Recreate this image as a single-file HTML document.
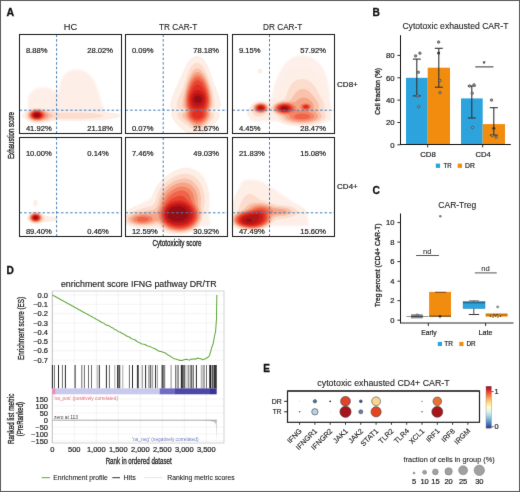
<!DOCTYPE html>
<html><head><meta charset="utf-8"><style>
html,body{margin:0;padding:0;background:#fff;}
svg{display:block;will-change:transform;}
text{font-family:"Liberation Sans", sans-serif;}
</style></head><body>
<svg width="520" height="492" viewBox="0 0 520 492" style='font-family:"Liberation Sans", sans-serif'>
<defs><filter id="gb" x="0" y="0" width="520" height="492" filterUnits="userSpaceOnUse" color-interpolation-filters="sRGB"><feConvolveMatrix order="3" kernelMatrix="0.00524 0.0619 0.00524 0.0619 0.7314 0.0619 0.00524 0.0619 0.00524" edgeMode="duplicate"/></filter></defs>
<g filter="url(#gb)">
<rect x="0" y="0" width="520" height="492" fill="#fff"/>
<text x="6.60" y="15.60" font-size="10.6" fill="#111" stroke="#111" stroke-width="0.3" font-weight="bold">A</text>
<text x="70.50" y="29.50" font-size="9.3" fill="#222" stroke="#222" stroke-width="0.1" text-anchor="middle">HC</text>
<text x="178.20" y="29.50" font-size="9.3" fill="#222" stroke="#222" stroke-width="0.1" text-anchor="middle" textLength="38.3" lengthAdjust="spacingAndGlyphs">TR CAR-T</text>
<text x="282.70" y="29.50" font-size="9.3" fill="#222" stroke="#222" stroke-width="0.1" text-anchor="middle" textLength="39.2" lengthAdjust="spacingAndGlyphs">DR CAR-T</text>
<defs><filter id="bl" x="-5%" y="-5%" width="110%" height="110%"><feGaussianBlur stdDeviation="0.45"/></filter><filter id="bl2" x="-10%" y="-10%" width="120%" height="120%"><feGaussianBlur stdDeviation="1.1"/></filter>
<clipPath id="c00"><rect x="19.5" y="34.5" width="102" height="99"/></clipPath>
<clipPath id="c01"><rect x="19.5" y="137.5" width="102" height="99"/></clipPath>
<clipPath id="c10"><rect x="125.5" y="34.5" width="102" height="99"/></clipPath>
<clipPath id="c11"><rect x="125.5" y="137.5" width="102" height="99"/></clipPath>
<clipPath id="c20"><rect x="232.5" y="34.5" width="102" height="99"/></clipPath>
<clipPath id="c21"><rect x="232.5" y="137.5" width="102" height="99"/></clipPath>
</defs>
<g clip-path="url(#c00)"><g filter="url(#bl)">
<path d="M28,120 L28,101 C28,93 34,87.5 42,87.5 C49,87.5 54,90 58,94 L60,84 C62,75 68,69.5 76,69.5 C86,69.5 92,75 96,85 L100,97 C102,104 104,110 106,114 L107,120 Z" fill="#fdeee8" filter="url(#bl2)"/>
<path d="M82.0,105.0 L81.0,105.1 L80.0,105.1 L79.0,105.1 L78.0,105.0 L77.5,105.0 L76.5,104.9 L75.5,104.7 L74.5,104.5 L74.0,104.4 L73.0,104.1 L72.5,104.0 L71.5,103.6 L71.0,103.4 L70.2,103.0 L69.5,102.5 L69.0,102.1 L68.5,101.6 L68.1,101.0 L67.9,100.5 L67.9,99.5 L68.1,99.0 L68.5,98.4 L69.0,97.9 L69.5,97.5 L70.2,97.0 L71.0,96.6 L71.5,96.4 L72.5,96.0 L73.0,95.9 L74.0,95.6 L74.5,95.5 L75.5,95.3 L76.5,95.2 L77.5,95.1 L78.3,95.0 L79.0,95.0 L80.0,94.9 L81.0,95.0 L81.7,95.0 L82.5,95.1 L83.5,95.2 L84.5,95.3 L85.5,95.5 L86.0,95.6 L87.0,95.9 L87.5,96.0 L88.5,96.4 L89.0,96.6 L89.8,97.0 L90.5,97.5 L91.0,97.9 L91.5,98.4 L91.9,99.0 L92.1,99.5 L92.1,100.5 L91.9,101.0 L91.5,101.6 L91.0,102.1 L90.5,102.5 L89.8,103.0 L89.0,103.4 L88.5,103.6 L87.5,104.0 L87.0,104.1 L86.0,104.4 L85.5,104.5 L84.5,104.7 L83.5,104.9 L82.5,105.0 L82.0,105.0ZM40.0,123.5 L39.0,123.5 L38.0,123.5 L37.1,123.5 L36.5,123.5 L35.5,123.4 L34.5,123.2 L33.5,123.0 L33.0,122.9 L32.0,122.7 L31.5,122.5 L30.5,122.2 L30.0,122.0 L29.0,121.5 L28.5,121.3 L28.0,121.0 L27.1,120.5 L26.5,120.2 L26.0,119.8 L25.5,119.5 L24.8,119.0 L24.2,118.5 L23.6,118.0 L23.1,117.5 L22.6,117.0 L22.3,116.5 L22.1,115.5 L22.5,114.5 L22.8,114.0 L23.3,113.5 L23.8,113.0 L24.3,112.5 L24.9,112.0 L25.5,111.5 L26.0,111.1 L26.5,110.7 L27.0,110.3 L27.5,110.0 L28.3,109.5 L29.0,109.1 L29.5,108.8 L30.2,108.5 L31.0,108.2 L31.5,108.0 L32.5,107.7 L33.4,107.5 L34.0,107.3 L35.0,107.2 L36.0,107.1 L37.0,107.1 L38.0,107.1 L39.0,107.1 L40.0,107.2 L41.0,107.3 L42.0,107.4 L42.5,107.5 L43.5,107.7 L44.5,107.9 L45.1,108.0 L46.0,108.2 L47.0,108.4 L47.5,108.6 L48.5,108.8 L49.1,109.0 L50.0,109.2 L50.9,109.5 L51.5,109.7 L52.5,109.9 L53.0,110.1 L54.0,110.3 L55.0,110.5 L55.5,110.5 L56.5,110.6 L57.5,110.7 L58.5,110.7 L59.5,110.8 L60.5,110.7 L61.5,110.7 L62.5,110.7 L63.5,110.7 L64.5,110.6 L65.5,110.6 L66.5,110.6 L67.5,110.5 L68.5,110.5 L69.3,110.5 L70.0,110.5 L71.0,110.4 L72.0,110.4 L73.0,110.4 L74.0,110.4 L75.0,110.4 L76.0,110.4 L77.0,110.4 L78.0,110.4 L79.0,110.4 L80.0,110.4 L81.0,110.4 L82.0,110.4 L83.0,110.5 L84.0,110.5 L84.5,110.5 L85.5,110.5 L86.5,110.6 L87.5,110.6 L88.5,110.7 L89.5,110.7 L90.5,110.8 L91.5,110.9 L92.5,110.9 L93.5,111.0 L94.0,111.0 L95.0,111.1 L96.0,111.2 L97.0,111.2 L98.0,111.3 L99.0,111.4 L100.0,111.5 L100.5,111.5 L101.5,111.6 L102.5,111.7 L103.5,111.8 L104.5,111.9 L105.5,112.0 L106.0,112.0 L107.0,112.1 L108.0,112.2 L109.0,112.4 L110.0,112.5 L110.5,112.6 L111.5,112.7 L112.5,112.9 L113.4,113.0 L114.0,113.1 L115.0,113.3 L115.9,113.5 L116.5,113.6 L117.5,113.9 L118.0,114.0 L119.0,114.4 L119.5,114.6 L120.2,115.0 L120.6,115.5 L120.5,116.1 L120.0,116.5 L119.1,117.0 L118.5,117.2 L117.6,117.5 L117.0,117.6 L116.0,117.9 L115.5,118.0 L114.5,118.2 L113.5,118.4 L112.7,118.5 L112.0,118.6 L111.0,118.8 L110.0,118.9 L109.2,119.0 L108.5,119.1 L107.5,119.2 L106.5,119.3 L105.5,119.4 L104.5,119.5 L104.0,119.5 L103.0,119.6 L102.0,119.7 L101.0,119.8 L100.0,119.9 L99.0,119.9 L98.1,120.0 L97.5,120.0 L96.5,120.1 L95.5,120.2 L94.5,120.2 L93.5,120.3 L92.5,120.3 L91.5,120.4 L90.5,120.4 L89.5,120.4 L88.5,120.5 L87.8,120.5 L87.0,120.5 L86.0,120.6 L85.0,120.6 L84.0,120.6 L83.0,120.6 L82.0,120.7 L81.0,120.7 L80.0,120.7 L79.0,120.7 L78.0,120.7 L77.0,120.7 L76.0,120.7 L75.0,120.7 L74.0,120.7 L73.0,120.7 L72.0,120.7 L71.0,120.7 L70.0,120.7 L69.0,120.7 L68.0,120.7 L67.0,120.7 L66.0,120.7 L65.0,120.6 L64.0,120.6 L63.0,120.6 L62.0,120.6 L61.0,120.6 L60.0,120.6 L59.0,120.6 L58.0,120.6 L57.0,120.6 L56.0,120.7 L55.0,120.8 L54.0,121.0 L53.5,121.1 L52.5,121.3 L51.5,121.5 L51.0,121.6 L50.0,121.9 L49.5,122.0 L48.5,122.3 L47.5,122.5 L47.0,122.6 L46.0,122.8 L45.0,123.0 L44.5,123.1 L43.5,123.2 L42.5,123.3 L41.5,123.4 L40.5,123.5 L40.0,123.5Z" fill="#fdeee6" fill-rule="evenodd"/>
<path d="M41.5,122.1 L40.5,122.2 L39.5,122.3 L38.5,122.3 L37.5,122.3 L36.5,122.3 L35.5,122.2 L34.5,122.0 L34.0,121.9 L33.0,121.7 L32.4,121.5 L31.5,121.2 L31.0,121.0 L30.0,120.5 L29.5,120.2 L29.0,119.9 L28.4,119.5 L27.8,119.0 L27.3,118.5 L26.8,118.0 L26.5,117.5 L26.0,116.6 L25.8,116.0 L25.8,115.0 L26.0,114.3 L26.3,113.5 L26.6,113.0 L27.0,112.5 L27.5,111.9 L28.0,111.4 L28.5,111.0 L29.1,110.5 L29.9,110.0 L30.5,109.6 L31.0,109.4 L32.0,109.0 L32.5,108.8 L33.5,108.5 L34.0,108.4 L35.0,108.2 L36.0,108.1 L37.0,108.1 L38.0,108.1 L39.0,108.2 L40.0,108.3 L41.0,108.5 L41.5,108.6 L42.5,108.8 L43.2,109.0 L44.0,109.2 L45.0,109.5 L45.5,109.6 L46.5,110.0 L47.0,110.1 L48.0,110.4 L48.5,110.6 L49.5,111.0 L50.0,111.1 L51.0,111.5 L51.5,111.6 L52.5,111.9 L53.0,112.1 L54.0,112.3 L54.8,112.5 L55.5,112.6 L56.5,112.7 L57.5,112.8 L58.5,112.8 L59.5,112.8 L60.5,112.8 L61.5,112.8 L62.5,112.8 L63.5,112.7 L64.5,112.7 L65.5,112.7 L66.5,112.6 L67.5,112.6 L68.5,112.6 L69.5,112.6 L70.5,112.5 L71.5,112.5 L72.5,112.5 L73.5,112.5 L74.0,112.5 L75.0,112.5 L75.5,112.5 L76.5,112.5 L77.5,112.5 L78.5,112.5 L79.5,112.5 L80.5,112.6 L81.5,112.6 L82.5,112.6 L83.5,112.7 L84.5,112.7 L85.5,112.8 L86.5,112.8 L87.5,112.9 L88.5,112.9 L89.5,113.0 L90.0,113.0 L91.0,113.1 L92.0,113.2 L93.0,113.3 L94.0,113.4 L95.0,113.5 L95.5,113.6 L96.5,113.7 L97.5,113.8 L98.5,114.0 L99.0,114.1 L100.0,114.3 L101.0,114.5 L101.5,114.7 L102.4,115.0 L103.0,115.4 L103.0,116.0 L102.5,116.3 L102.0,116.6 L101.0,116.9 L100.5,117.0 L99.5,117.2 L98.5,117.4 L97.9,117.5 L97.0,117.6 L96.0,117.8 L95.0,117.9 L94.0,118.0 L93.5,118.0 L92.5,118.1 L91.5,118.2 L90.5,118.3 L89.5,118.4 L88.5,118.4 L87.5,118.5 L87.0,118.5 L86.0,118.6 L85.0,118.6 L84.0,118.7 L83.0,118.7 L82.0,118.7 L81.0,118.8 L80.0,118.8 L79.0,118.8 L78.0,118.8 L77.0,118.8 L76.0,118.8 L75.0,118.8 L74.0,118.8 L73.0,118.8 L72.0,118.8 L71.0,118.8 L70.0,118.8 L69.0,118.8 L68.0,118.8 L67.0,118.8 L66.0,118.7 L65.0,118.7 L64.0,118.7 L63.0,118.6 L62.0,118.6 L61.0,118.6 L60.0,118.5 L59.0,118.5 L58.0,118.5 L57.0,118.6 L56.0,118.7 L55.0,118.8 L54.0,119.0 L53.5,119.1 L52.5,119.3 L51.8,119.5 L51.0,119.7 L50.1,120.0 L49.5,120.2 L48.5,120.5 L48.0,120.6 L47.0,120.9 L46.5,121.0 L45.5,121.3 L44.6,121.5 L44.0,121.6 L43.0,121.8 L42.0,122.0 L41.5,122.1Z" fill="#fcdccd" fill-rule="evenodd"/>
<path d="M41.0,121.1 L40.0,121.3 L39.0,121.4 L38.0,121.4 L37.0,121.4 L36.0,121.4 L35.0,121.2 L34.0,121.0 L33.5,120.9 L32.5,120.6 L32.0,120.4 L31.2,120.0 L30.5,119.6 L30.0,119.3 L29.5,118.9 L29.0,118.4 L28.5,117.9 L28.0,117.1 L27.7,116.5 L27.5,115.5 L27.6,114.5 L27.9,113.5 L28.2,113.0 L28.5,112.5 L29.0,112.0 L29.5,111.5 L30.1,111.0 L30.8,110.5 L31.5,110.1 L32.0,109.9 L33.0,109.5 L33.5,109.4 L34.5,109.1 L35.5,109.0 L36.0,108.9 L37.0,108.9 L38.0,108.9 L38.7,109.0 L39.5,109.1 L40.5,109.3 L41.3,109.5 L42.0,109.7 L42.9,110.0 L43.5,110.2 L44.3,110.5 L45.0,110.8 L45.5,111.0 L46.5,111.4 L47.0,111.7 L47.7,112.0 L48.5,112.4 L49.0,112.6 L49.8,113.0 L50.5,113.4 L51.0,113.6 L51.6,114.0 L52.3,114.5 L52.9,115.0 L53.2,115.5 L53.0,116.1 L52.5,116.6 L52.0,117.0 L51.2,117.5 L50.5,117.8 L50.0,118.1 L49.1,118.5 L48.5,118.8 L47.9,119.0 L47.0,119.4 L46.5,119.5 L45.5,119.9 L45.0,120.1 L44.0,120.4 L43.5,120.5 L42.5,120.8 L41.5,121.0 L41.0,121.1Z" fill="#f9c3ab" fill-rule="evenodd"/>
<path d="M40.0,120.5 L39.0,120.7 L38.0,120.8 L37.0,120.8 L36.0,120.7 L35.0,120.6 L34.5,120.5 L33.5,120.2 L32.9,120.0 L32.0,119.6 L31.5,119.4 L31.0,119.0 L30.3,118.5 L29.8,118.0 L29.4,117.5 L29.0,116.9 L28.6,116.0 L28.6,115.0 L28.8,114.0 L29.0,113.5 L29.5,112.7 L30.0,112.1 L30.5,111.6 L31.0,111.2 L31.5,110.9 L32.3,110.5 L33.0,110.2 L33.6,110.0 L34.5,109.8 L35.5,109.6 L36.5,109.5 L37.5,109.5 L38.5,109.6 L39.5,109.7 L40.5,110.0 L41.0,110.1 L42.0,110.5 L42.5,110.7 L43.2,111.0 L44.0,111.4 L44.5,111.7 L45.1,112.0 L45.9,112.5 L46.5,112.9 L47.0,113.3 L47.5,113.7 L48.0,114.1 L48.5,114.8 L48.7,115.5 L48.5,116.3 L48.0,117.0 L47.5,117.4 L47.0,117.7 L46.5,118.1 L45.7,118.5 L45.0,118.9 L44.5,119.1 L43.5,119.5 L43.0,119.7 L42.1,120.0 L41.5,120.2 L40.5,120.4 L40.0,120.5Z" fill="#f6a487" fill-rule="evenodd"/>
<path d="M38.5,120.1 L37.5,120.1 L36.5,120.1 L35.5,120.0 L35.0,119.9 L34.0,119.7 L33.4,119.5 L32.5,119.1 L32.0,118.8 L31.5,118.5 L30.9,118.0 L30.4,117.5 L30.0,116.9 L29.6,116.0 L29.5,115.0 L29.7,114.0 L30.0,113.4 L30.5,112.7 L31.0,112.1 L31.5,111.7 L32.0,111.4 L32.7,111.0 L33.5,110.7 L34.0,110.5 L35.0,110.3 L36.0,110.1 L37.0,110.1 L38.0,110.1 L39.0,110.3 L39.9,110.5 L40.5,110.7 L41.4,111.0 L42.0,111.3 L42.5,111.6 L43.3,112.0 L43.9,112.5 L44.5,113.0 L45.0,113.5 L45.4,114.0 L45.8,114.5 L46.0,115.5 L45.7,116.5 L45.3,117.0 L44.8,117.5 L44.2,118.0 L43.5,118.4 L43.0,118.7 L42.4,119.0 L41.5,119.4 L41.0,119.5 L40.0,119.8 L39.0,120.0 L38.5,120.1Z" fill="#f38466" fill-rule="evenodd"/>
<path d="M38.5,119.5 L37.5,119.6 L36.5,119.6 L35.6,119.5 L35.0,119.4 L34.0,119.1 L33.5,118.9 L32.6,118.5 L32.0,118.1 L31.5,117.7 L31.0,117.1 L30.6,116.5 L30.4,116.0 L30.3,115.0 L30.5,114.0 L30.7,113.5 L31.1,113.0 L31.5,112.5 L32.1,112.0 L32.9,111.5 L33.5,111.2 L34.2,111.0 L35.0,110.8 L36.0,110.6 L37.0,110.6 L38.0,110.7 L39.0,110.8 L39.7,111.0 L40.5,111.3 L41.0,111.5 L41.9,112.0 L42.5,112.4 L43.0,112.8 L43.5,113.3 L44.0,114.0 L44.3,114.5 L44.4,115.5 L44.1,116.5 L43.7,117.0 L43.2,117.5 L42.6,118.0 L42.0,118.4 L41.5,118.6 L40.6,119.0 L40.0,119.2 L39.0,119.4 L38.5,119.5Z" fill="#ef6549" fill-rule="evenodd"/>
<path d="M38.0,119.0 L37.0,119.1 L36.0,119.0 L35.5,119.0 L34.5,118.7 L33.9,118.5 L33.0,118.0 L32.5,117.7 L32.0,117.3 L31.5,116.6 L31.2,116.0 L31.0,115.0 L31.3,114.0 L31.5,113.5 L32.0,112.9 L32.5,112.5 L33.2,112.0 L34.0,111.6 L34.5,111.4 L35.5,111.2 L36.5,111.1 L37.5,111.1 L38.5,111.3 L39.4,111.5 L40.0,111.7 L40.7,112.0 L41.5,112.5 L42.0,112.9 L42.5,113.5 L42.9,114.0 L43.1,114.5 L43.2,115.5 L43.0,116.2 L42.5,117.0 L42.0,117.4 L41.5,117.8 L41.0,118.1 L40.1,118.5 L39.5,118.7 L38.5,118.9 L38.0,119.0Z" fill="#e94532" fill-rule="evenodd"/>
<path d="M37.5,118.5 L36.5,118.5 L36.0,118.5 L35.0,118.3 L34.2,118.0 L33.5,117.7 L33.0,117.3 L32.5,116.8 L32.0,116.0 L31.8,115.5 L31.9,114.5 L32.1,114.0 L32.5,113.3 L33.0,112.8 L33.5,112.5 L34.5,112.0 L35.0,111.8 L36.0,111.7 L37.0,111.6 L38.0,111.7 L39.0,111.9 L39.5,112.1 L40.3,112.5 L41.0,113.0 L41.5,113.5 L41.9,114.0 L42.1,114.5 L42.2,115.5 L42.0,116.1 L41.5,116.8 L41.0,117.3 L40.5,117.6 L39.7,118.0 L39.0,118.3 L38.0,118.5 L37.5,118.5Z" fill="#e02d22" fill-rule="evenodd"/>
<path d="M37.5,118.0 L36.5,118.0 L36.0,118.0 L35.0,117.8 L34.4,117.5 L33.6,117.0 L33.1,116.5 L32.7,116.0 L32.5,115.0 L32.8,114.0 L33.2,113.5 L33.7,113.0 L34.5,112.6 L35.0,112.4 L36.0,112.2 L37.0,112.1 L38.0,112.2 L39.0,112.5 L39.5,112.7 L40.0,113.0 L40.6,113.5 L41.0,114.1 L41.3,115.0 L41.1,116.0 L40.8,116.5 L40.3,117.0 L39.5,117.5 L39.0,117.7 L38.0,117.9 L37.5,118.0Z" fill="#cc1d1a" fill-rule="evenodd"/>
<path d="M39.0,117.0 L38.0,117.4 L37.0,117.5 L36.0,117.4 L35.0,117.1 L34.5,116.9 L34.0,116.5 L33.5,115.8 L33.3,115.0 L33.5,114.3 L34.0,113.6 L34.5,113.2 L35.0,113.0 L36.0,112.7 L37.0,112.7 L38.0,112.8 L38.6,113.0 L39.5,113.5 L40.0,114.0 L40.3,114.5 L40.4,115.5 L40.0,116.2 L39.5,116.7 L39.0,117.0Z" fill="#b31414" fill-rule="evenodd"/>
<path d="M38.5,116.6 L37.5,116.9 L36.5,116.9 L35.5,116.7 L35.0,116.5 L34.4,116.0 L34.1,115.0 L34.5,114.0 L35.0,113.6 L35.5,113.4 L36.5,113.2 L37.5,113.2 L38.4,113.5 L39.0,113.9 L39.5,114.5 L39.6,115.0 L39.5,115.6 L39.0,116.2 L38.5,116.6Z" fill="#961018" fill-rule="evenodd"/>
</g></g>
<line x1="56.6" y1="34.5" x2="56.6" y2="133.5" stroke="#4a80b4" stroke-width="1.0" stroke-dasharray="2.6 2.0"/>
<line x1="19.5" y1="110.2" x2="121.5" y2="110.2" stroke="#4a80b4" stroke-width="1.0" stroke-dasharray="2.6 2.0"/>
<text x="25.90" y="52.70" font-size="7.6" fill="#222" stroke="#222" stroke-width="0.2">8.88%</text>
<text x="87.30" y="52.70" font-size="7.6" fill="#222" stroke="#222" stroke-width="0.2">28.02%</text>
<text x="25.90" y="130.70" font-size="7.6" fill="#222" stroke="#222" stroke-width="0.2">41.92%</text>
<text x="87.30" y="130.70" font-size="7.6" fill="#222" stroke="#222" stroke-width="0.2">21.18%</text>
<rect x="19.5" y="34.5" width="102" height="99" fill="none" stroke="#1e1e1e" stroke-width="1.05"/>
<g clip-path="url(#c01)"><g filter="url(#bl)">
<path d="M36.0,206.2 L35.0,206.2 L34.5,205.9 L34.0,205.3 L33.6,204.5 L33.5,204.0 L33.4,203.0 L33.5,202.0 L33.6,201.5 L34.0,200.7 L34.5,200.1 L35.0,199.8 L36.0,199.8 L36.5,200.1 L37.0,200.7 L37.4,201.5 L37.5,202.0 L37.6,203.0 L37.5,204.0 L37.4,204.5 L37.0,205.3 L36.5,205.9 L36.0,206.2ZM37.5,224.0 L36.5,224.1 L35.5,224.2 L34.5,224.1 L34.0,224.0 L33.0,223.8 L32.0,223.5 L31.5,223.3 L30.8,223.0 L30.0,222.6 L29.5,222.3 L29.0,221.9 L28.5,221.4 L28.0,220.9 L27.5,220.2 L27.1,219.5 L27.0,219.0 L26.9,218.0 L27.0,217.2 L27.2,216.5 L27.5,215.8 L28.0,215.0 L28.3,214.5 L28.8,214.0 L29.3,213.5 L29.9,213.0 L30.5,212.6 L31.0,212.3 L31.6,212.0 L32.5,211.6 L33.0,211.4 L34.0,211.1 L34.6,211.0 L35.5,210.9 L36.5,211.0 L37.0,211.0 L38.0,211.3 L38.6,211.5 L39.5,211.8 L40.0,212.0 L40.9,212.5 L41.5,212.9 L42.0,213.2 L42.5,213.5 L43.1,214.0 L43.8,214.5 L44.5,214.9 L45.0,215.2 L45.7,215.5 L46.5,215.7 L47.5,216.0 L48.0,216.0 L49.0,216.2 L50.0,216.3 L51.0,216.4 L51.6,216.5 L52.5,216.6 L53.5,216.8 L54.3,217.0 L55.0,217.2 L56.0,217.5 L56.5,217.7 L57.0,218.0 L57.6,218.5 L57.6,219.5 L57.0,220.0 L56.5,220.3 L56.0,220.5 L55.0,220.8 L54.3,221.0 L53.5,221.2 L52.5,221.4 L51.5,221.5 L51.0,221.6 L50.0,221.7 L49.0,221.8 L48.0,221.9 L47.0,222.0 L46.5,222.0 L45.5,222.1 L44.5,222.3 L43.6,222.5 L43.0,222.7 L42.0,223.0 L41.5,223.1 L40.5,223.4 L40.0,223.6 L39.0,223.8 L38.0,224.0 L37.5,224.0Z" fill="#fdeee6" fill-rule="evenodd"/>
<path d="M38.0,223.1 L37.0,223.2 L36.0,223.3 L35.0,223.3 L34.0,223.1 L33.5,223.0 L32.5,222.7 L32.0,222.5 L31.0,222.0 L30.5,221.7 L30.0,221.3 L29.5,220.8 L29.0,220.2 L28.6,219.5 L28.4,219.0 L28.2,218.0 L28.3,217.0 L28.5,216.4 L28.9,215.5 L29.2,215.0 L29.7,214.5 L30.2,214.0 L30.8,213.5 L31.5,213.1 L32.0,212.8 L32.8,212.5 L33.5,212.3 L34.5,212.1 L35.5,212.0 L36.5,212.0 L37.5,212.2 L38.5,212.5 L39.0,212.6 L39.8,213.0 L40.5,213.4 L41.0,213.7 L41.5,214.1 L42.0,214.6 L42.5,215.1 L43.0,215.6 L43.5,216.2 L44.0,216.8 L44.5,217.5 L44.8,218.0 L45.0,218.5 L45.0,219.0 L44.5,219.7 L44.0,220.2 L43.5,220.5 L42.8,221.0 L42.0,221.5 L41.5,221.8 L41.0,222.0 L40.0,222.5 L39.5,222.7 L38.5,222.9 L38.0,223.1Z" fill="#fcdccd" fill-rule="evenodd"/>
<path d="M37.0,222.5 L36.0,222.6 L35.0,222.6 L34.4,222.5 L33.5,222.3 L32.6,222.0 L32.0,221.8 L31.5,221.5 L30.9,221.0 L30.3,220.5 L29.9,220.0 L29.5,219.3 L29.2,218.5 L29.2,217.5 L29.4,216.5 L29.6,216.0 L30.0,215.3 L30.5,214.7 L31.0,214.2 L31.5,213.9 L32.2,213.5 L33.0,213.1 L33.5,213.0 L34.5,212.8 L35.5,212.7 L36.5,212.7 L37.5,212.9 L38.0,213.0 L39.0,213.4 L39.5,213.7 L40.0,214.0 L40.7,214.5 L41.2,215.0 L41.7,215.5 L42.0,216.0 L42.5,217.0 L42.7,217.5 L42.7,218.5 L42.5,219.2 L42.0,220.0 L41.5,220.5 L41.0,220.9 L40.5,221.3 L40.0,221.6 L39.0,222.0 L38.5,222.2 L37.5,222.4 L37.0,222.5Z" fill="#f9c3ab" fill-rule="evenodd"/>
<path d="M36.5,222.1 L35.5,222.1 L34.5,222.0 L34.0,221.9 L33.0,221.6 L32.5,221.4 L31.8,221.0 L31.2,220.5 L30.7,220.0 L30.3,219.5 L30.0,218.7 L29.8,218.0 L29.9,217.0 L30.1,216.5 L30.5,215.6 L31.0,215.0 L31.5,214.6 L32.0,214.2 L32.5,213.9 L33.5,213.5 L34.0,213.4 L35.0,213.2 L36.0,213.2 L37.0,213.3 L37.7,213.5 L38.5,213.8 L39.0,214.0 L39.8,214.5 L40.4,215.0 L40.8,215.5 L41.2,216.0 L41.5,216.7 L41.8,217.5 L41.7,218.5 L41.5,219.1 L41.0,219.9 L40.5,220.4 L40.0,220.8 L39.5,221.1 L38.7,221.5 L38.0,221.8 L37.0,222.0 L36.5,222.1Z" fill="#f6a487" fill-rule="evenodd"/>
<path d="M36.5,221.6 L35.5,221.6 L34.5,221.5 L34.0,221.4 L33.0,221.0 L32.5,220.8 L32.0,220.4 L31.5,220.0 L31.0,219.4 L30.6,218.5 L30.5,217.6 L30.5,217.5 L30.7,216.5 L31.0,216.0 L31.5,215.3 L32.0,214.9 L32.5,214.5 L33.5,214.0 L34.0,213.9 L35.0,213.7 L36.0,213.7 L37.0,213.8 L37.6,214.0 L38.5,214.3 L39.0,214.6 L39.5,215.0 L40.0,215.5 L40.5,216.2 L40.9,217.0 L41.0,218.0 L40.7,219.0 L40.4,219.5 L40.0,220.0 L39.4,220.5 L38.5,221.0 L38.0,221.2 L37.0,221.5 L36.5,221.6Z" fill="#f38466" fill-rule="evenodd"/>
<path d="M37.0,221.0 L36.0,221.2 L35.0,221.2 L34.2,221.0 L33.5,220.8 L32.9,220.5 L32.2,220.0 L31.7,219.5 L31.4,219.0 L31.1,218.0 L31.1,217.0 L31.5,216.1 L32.0,215.5 L32.5,215.1 L33.0,214.7 L33.6,214.5 L34.5,214.2 L35.5,214.1 L36.5,214.2 L37.5,214.4 L38.0,214.6 L38.7,215.0 L39.3,215.5 L39.8,216.0 L40.1,216.5 L40.4,217.5 L40.2,218.5 L40.0,219.0 L39.5,219.7 L39.0,220.2 L38.5,220.5 L37.5,220.9 L37.0,221.0Z" fill="#ef6549" fill-rule="evenodd"/>
<path d="M37.0,220.6 L36.0,220.7 L35.0,220.7 L34.1,220.5 L33.5,220.3 L33.0,220.0 L32.4,219.5 L32.0,219.0 L31.6,218.0 L31.7,217.0 L32.0,216.3 L32.5,215.7 L33.0,215.3 L33.5,215.0 L34.5,214.7 L35.5,214.5 L36.5,214.6 L37.5,214.9 L38.0,215.1 L38.6,215.5 L39.1,216.0 L39.5,216.7 L39.7,217.5 L39.6,218.5 L39.4,219.0 L39.0,219.5 L38.3,220.0 L37.5,220.4 L37.0,220.6Z" fill="#e94532" fill-rule="evenodd"/>
<path d="M37.0,220.1 L36.0,220.3 L35.0,220.3 L34.1,220.0 L33.5,219.7 L33.0,219.3 L32.5,218.7 L32.2,218.0 L32.3,217.0 L32.5,216.5 L33.0,215.9 L33.6,215.5 L34.5,215.1 L35.2,215.0 L36.0,215.0 L36.5,215.1 L37.5,215.4 L38.0,215.7 L38.5,216.1 L39.0,216.9 L39.1,217.5 L39.0,218.4 L38.7,219.0 L38.2,219.5 L37.5,219.9 L37.0,220.1Z" fill="#e02d22" fill-rule="evenodd"/>
<path d="M37.0,219.6 L36.0,219.8 L35.0,219.8 L34.1,219.5 L33.5,219.1 L33.0,218.5 L32.8,218.0 L32.9,217.0 L33.2,216.5 L33.7,216.0 L34.5,215.6 L35.0,215.5 L36.0,215.4 L36.5,215.5 L37.5,215.9 L38.0,216.4 L38.4,217.0 L38.6,217.5 L38.5,218.1 L38.0,219.0 L37.5,219.4 L37.0,219.6Z" fill="#cc1d1a" fill-rule="evenodd"/>
<path d="M37.0,219.0 L36.0,219.3 L35.0,219.3 L34.3,219.0 L33.7,218.5 L33.4,218.0 L33.5,217.1 L33.9,216.5 L34.5,216.1 L35.0,216.0 L36.0,215.9 L36.5,216.0 L37.3,216.5 L37.7,217.0 L37.8,218.0 L37.5,218.6 L37.0,219.0Z" fill="#b31414" fill-rule="evenodd"/>
<path d="M36.5,218.6 L35.5,218.8 L34.5,218.5 L34.1,218.0 L34.3,217.0 L35.0,216.5 L35.5,216.4 L36.2,216.5 L37.0,217.0 L37.2,217.5 L37.0,218.2 L36.5,218.6Z" fill="#961018" fill-rule="evenodd"/>
</g></g>
<line x1="56.6" y1="137.5" x2="56.6" y2="236.5" stroke="#4a80b4" stroke-width="1.0" stroke-dasharray="2.6 2.0"/>
<line x1="19.5" y1="212.8" x2="121.5" y2="212.8" stroke="#4a80b4" stroke-width="1.0" stroke-dasharray="2.6 2.0"/>
<text x="25.90" y="155.70" font-size="7.6" fill="#222" stroke="#222" stroke-width="0.2">10.00%</text>
<text x="87.30" y="155.70" font-size="7.6" fill="#222" stroke="#222" stroke-width="0.2">0.14%</text>
<text x="25.90" y="233.70" font-size="7.6" fill="#222" stroke="#222" stroke-width="0.2">89.40%</text>
<text x="87.30" y="233.70" font-size="7.6" fill="#222" stroke="#222" stroke-width="0.2">0.46%</text>
<rect x="19.5" y="137.5" width="102" height="99" fill="none" stroke="#1e1e1e" stroke-width="1.05"/>
<g clip-path="url(#c10)"><g filter="url(#bl)">
<path d="M204.0,133.5 L203.0,133.5 L202.0,133.6 L201.0,133.6 L200.0,133.6 L199.0,133.6 L198.0,133.7 L197.0,133.7 L196.0,133.6 L195.0,133.6 L194.0,133.6 L193.0,133.6 L192.0,133.6 L191.0,133.6 L190.0,133.5 L189.0,133.5 L188.5,133.4 L187.6,133.0 L187.0,132.7 L186.5,132.4 L185.8,132.0 L185.0,131.5 L184.5,131.2 L184.0,130.8 L183.5,130.5 L182.9,130.0 L182.3,129.5 L181.6,129.0 L181.1,128.5 L180.5,128.0 L180.0,127.5 L179.5,127.1 L179.0,126.6 L178.5,126.1 L178.0,125.5 L177.5,125.0 L177.0,124.5 L176.6,124.0 L176.2,123.5 L175.7,123.0 L175.3,122.5 L174.9,122.0 L174.5,121.5 L174.0,120.8 L173.5,120.0 L173.2,119.5 L172.9,119.0 L172.5,118.3 L172.1,117.5 L171.9,117.0 L171.6,116.0 L171.4,115.5 L171.2,114.5 L171.1,113.5 L171.4,112.5 L171.7,112.0 L172.1,111.5 L172.5,110.8 L172.5,110.2 L172.1,109.5 L171.6,109.0 L171.1,108.5 L170.8,108.0 L170.5,107.4 L170.3,106.5 L170.3,105.5 L170.3,104.5 L170.4,103.5 L170.5,103.0 L170.7,102.0 L170.9,101.0 L171.0,100.5 L171.2,99.5 L171.5,98.6 L171.7,98.0 L172.0,97.0 L172.2,96.5 L172.5,95.6 L172.7,95.0 L173.0,94.3 L173.3,93.5 L173.5,93.0 L173.9,92.0 L174.2,91.5 L174.5,90.7 L174.8,90.0 L175.0,89.5 L175.5,88.5 L175.7,88.0 L176.0,87.4 L176.4,86.5 L176.6,86.0 L177.0,85.2 L177.3,84.5 L177.5,84.0 L178.0,83.0 L178.2,82.5 L178.5,81.9 L178.9,81.0 L179.1,80.5 L179.5,79.7 L179.8,79.0 L180.1,78.5 L180.5,77.5 L180.7,77.0 L181.0,76.4 L181.4,75.5 L181.6,75.0 L182.0,74.2 L182.3,73.5 L182.5,73.0 L182.9,72.0 L183.2,71.5 L183.5,70.7 L183.8,70.0 L184.0,69.5 L184.5,68.5 L184.7,68.0 L185.0,67.5 L185.5,66.5 L185.7,66.0 L186.0,65.5 L186.5,64.6 L186.8,64.0 L187.1,63.5 L187.5,62.9 L188.0,62.1 L188.4,61.5 L188.8,61.0 L189.2,60.5 L189.6,60.0 L190.1,59.5 L190.6,59.0 L191.1,58.5 L191.8,58.0 L192.5,57.5 L193.0,57.2 L193.5,56.9 L194.5,56.5 L195.0,56.3 L196.0,56.1 L197.0,56.1 L198.0,56.2 L199.0,56.4 L199.5,56.6 L200.5,57.0 L201.0,57.3 L201.5,57.6 L202.0,58.0 L202.6,58.5 L203.1,59.0 L203.6,59.5 L204.1,60.0 L204.5,60.5 L205.0,61.2 L205.5,61.9 L205.9,62.5 L206.2,63.0 L206.5,63.5 L207.0,64.4 L207.3,65.0 L207.5,65.5 L208.0,66.5 L208.2,67.0 L208.5,67.6 L208.9,68.5 L209.1,69.0 L209.5,70.0 L209.7,70.5 L210.0,71.4 L210.2,72.0 L210.5,72.8 L210.8,73.5 L211.0,74.2 L211.3,75.0 L211.5,75.6 L211.8,76.5 L212.0,77.1 L212.3,78.0 L212.5,78.5 L212.9,79.5 L213.0,80.0 L213.4,81.0 L213.6,81.5 L213.9,82.5 L214.1,83.0 L214.5,84.0 L214.7,84.5 L215.0,85.4 L215.2,86.0 L215.5,86.7 L215.8,87.5 L216.0,88.0 L216.4,89.0 L216.6,89.5 L217.0,90.5 L217.2,91.0 L217.5,91.9 L217.7,92.5 L218.0,93.3 L218.2,94.0 L218.5,94.8 L218.7,95.5 L219.0,96.4 L219.2,97.0 L219.4,98.0 L219.6,98.5 L219.8,99.5 L220.0,100.4 L220.1,101.0 L220.3,102.0 L220.4,103.0 L220.5,103.8 L220.6,104.5 L220.6,105.5 L220.5,106.2 L220.3,107.0 L219.9,107.5 L219.3,108.0 L218.5,108.4 L218.0,108.6 L217.0,108.9 L216.5,109.0 L215.5,109.2 L214.5,109.4 L214.0,109.5 L213.1,110.0 L213.0,110.5 L213.5,110.9 L214.0,111.1 L215.0,111.4 L215.6,111.5 L216.5,111.7 L217.5,112.0 L218.0,112.2 L218.6,112.5 L219.3,113.0 L219.6,113.5 L219.9,114.5 L219.8,115.5 L219.5,116.5 L219.4,117.0 L219.0,118.0 L218.8,118.5 L218.5,119.0 L218.0,119.8 L217.5,120.5 L217.1,121.0 L216.7,121.5 L216.3,122.0 L215.9,122.5 L215.5,123.0 L215.0,123.6 L214.5,124.1 L214.0,124.7 L213.5,125.3 L213.0,125.8 L212.5,126.4 L212.0,126.9 L211.5,127.4 L211.0,127.9 L210.5,128.4 L210.0,128.9 L209.5,129.3 L209.0,129.8 L208.5,130.2 L208.0,130.6 L207.5,131.1 L206.9,131.5 L206.3,132.0 L205.6,132.5 L205.0,132.9 L204.5,133.2 L204.0,133.5Z" fill="#fdeee6" fill-rule="evenodd"/>
<path d="M199.5,130.6 L198.5,130.7 L197.5,130.8 L196.5,130.7 L195.6,130.5 L195.0,130.3 L194.1,130.0 L193.5,129.7 L193.0,129.5 L192.2,129.0 L191.5,128.6 L191.0,128.2 L190.5,127.8 L190.0,127.4 L189.5,127.0 L188.9,126.5 L188.3,126.0 L187.7,125.5 L187.1,125.0 L186.5,124.6 L186.0,124.2 L185.5,123.9 L184.9,123.5 L184.1,123.0 L183.5,122.6 L183.0,122.3 L182.5,122.0 L181.8,121.5 L181.2,121.0 L180.6,120.5 L180.0,120.0 L179.5,119.5 L179.0,119.0 L178.7,118.5 L178.3,118.0 L178.0,117.4 L177.6,116.5 L177.4,116.0 L177.3,115.0 L177.3,114.0 L177.5,113.5 L178.0,112.9 L178.5,112.5 L179.5,112.0 L180.0,111.9 L181.0,111.6 L181.5,111.4 L182.5,111.2 L183.0,111.0 L183.5,110.5 L183.4,110.0 L182.6,109.5 L182.0,109.3 L181.0,109.0 L180.5,108.9 L179.5,108.6 L179.0,108.5 L178.0,108.0 L177.5,107.6 L177.0,107.0 L176.8,106.5 L176.7,105.5 L176.8,104.5 L176.9,103.5 L177.0,103.0 L177.2,102.0 L177.5,101.0 L177.7,100.5 L178.0,99.5 L178.2,99.0 L178.5,98.2 L178.8,97.5 L179.0,97.0 L179.5,96.0 L179.7,95.5 L180.0,94.9 L180.4,94.0 L180.7,93.5 L181.0,92.9 L181.4,92.0 L181.7,91.5 L182.0,90.8 L182.3,90.0 L182.5,89.5 L182.9,88.5 L183.1,88.0 L183.4,87.0 L183.6,86.5 L183.9,85.5 L184.1,85.0 L184.4,84.0 L184.6,83.5 L184.9,82.5 L185.0,82.0 L185.4,81.0 L185.5,80.5 L185.8,79.5 L186.0,79.0 L186.3,78.0 L186.5,77.5 L186.8,76.5 L187.0,76.0 L187.3,75.0 L187.5,74.5 L187.9,73.5 L188.1,73.0 L188.4,72.0 L188.6,71.5 L189.0,70.7 L189.3,70.0 L189.5,69.5 L190.0,68.6 L190.3,68.0 L190.6,67.5 L191.0,66.9 L191.5,66.1 L192.0,65.5 L192.5,65.0 L193.0,64.5 L193.5,64.0 L194.0,63.7 L194.5,63.4 L195.5,63.0 L196.0,62.9 L197.0,62.8 L198.0,62.9 L198.5,63.0 L199.5,63.4 L200.0,63.7 L200.5,64.1 L201.0,64.5 L201.5,65.0 L202.0,65.5 L202.5,66.2 L203.0,66.8 L203.4,67.5 L203.8,68.0 L204.1,68.5 L204.5,69.3 L204.9,70.0 L205.2,70.5 L205.5,71.2 L205.9,72.0 L206.2,72.5 L206.5,73.2 L206.9,74.0 L207.1,74.5 L207.5,75.5 L207.7,76.0 L208.0,76.7 L208.3,77.5 L208.5,78.0 L208.9,79.0 L209.1,79.5 L209.4,80.5 L209.6,81.0 L209.9,82.0 L210.1,82.5 L210.4,83.5 L210.6,84.0 L210.9,85.0 L211.0,85.5 L211.3,86.5 L211.5,87.4 L211.7,88.0 L211.9,89.0 L212.0,89.5 L212.3,90.5 L212.5,91.4 L212.7,92.0 L212.9,93.0 L213.0,93.5 L213.2,94.5 L213.4,95.5 L213.5,96.0 L213.7,97.0 L213.9,98.0 L214.0,98.6 L214.1,99.5 L214.3,100.5 L214.4,101.5 L214.4,102.5 L214.5,103.5 L214.5,104.0 L214.5,105.0 L214.5,105.5 L214.3,106.5 L214.0,107.0 L213.5,107.6 L213.0,108.0 L212.5,108.5 L211.9,109.0 L211.4,109.5 L211.0,110.4 L211.0,110.6 L211.4,111.5 L211.9,112.0 L212.5,112.4 L213.0,112.8 L213.5,113.3 L214.0,113.9 L214.3,114.5 L214.3,115.5 L214.1,116.5 L214.0,117.0 L213.5,118.0 L213.2,118.5 L212.8,119.0 L212.4,119.5 L211.9,120.0 L211.4,120.5 L210.9,121.0 L210.4,121.5 L210.0,122.0 L209.5,122.5 L209.0,123.0 L208.5,123.6 L208.0,124.1 L207.5,124.7 L207.0,125.3 L206.5,125.9 L206.0,126.4 L205.5,126.9 L205.0,127.4 L204.5,127.9 L204.0,128.3 L203.5,128.7 L203.0,129.0 L202.2,129.5 L201.5,129.9 L201.0,130.1 L200.0,130.4 L199.5,130.6Z" fill="#fcdccd" fill-rule="evenodd"/>
<path d="M198.0,128.0 L197.5,128.0 L196.5,127.9 L195.5,127.6 L195.0,127.5 L194.0,127.0 L193.5,126.7 L193.0,126.4 L192.4,126.0 L191.8,125.5 L191.2,125.0 L190.6,124.5 L190.1,124.0 L189.5,123.5 L189.0,123.0 L188.5,122.6 L188.0,122.1 L187.5,121.7 L187.0,121.3 L186.5,120.9 L186.0,120.5 L185.3,120.0 L184.7,119.5 L184.1,119.0 L183.6,118.5 L183.2,118.0 L182.8,117.5 L182.5,116.8 L182.2,116.0 L182.2,115.0 L182.5,114.0 L182.9,113.5 L183.4,113.0 L184.0,112.6 L184.5,112.2 L185.0,111.7 L185.5,111.1 L185.7,110.5 L185.5,109.8 L185.0,109.2 L184.5,108.7 L184.0,108.2 L183.5,107.8 L183.0,107.2 L182.6,106.5 L182.5,106.0 L182.4,105.0 L182.4,104.0 L182.5,103.0 L182.5,102.5 L182.6,101.5 L182.7,100.5 L182.9,99.5 L183.0,98.7 L183.1,98.0 L183.3,97.0 L183.5,96.1 L183.6,95.5 L183.8,94.5 L184.0,93.9 L184.2,93.0 L184.5,92.0 L184.6,91.5 L184.8,90.5 L185.0,89.9 L185.2,89.0 L185.5,88.0 L185.6,87.5 L185.9,86.5 L186.0,86.0 L186.3,85.0 L186.5,84.5 L186.8,83.5 L187.0,82.9 L187.3,82.0 L187.5,81.4 L187.8,80.5 L188.0,80.0 L188.4,79.0 L188.6,78.5 L189.0,77.5 L189.2,77.0 L189.5,76.4 L189.9,75.5 L190.2,75.0 L190.5,74.4 L191.0,73.5 L191.3,73.0 L191.6,72.5 L192.0,71.9 L192.5,71.3 L193.0,70.7 L193.5,70.2 L194.0,69.7 L194.5,69.3 L195.0,69.0 L196.0,68.6 L196.5,68.4 L197.5,68.4 L198.2,68.5 L199.0,68.7 L199.5,69.0 L200.3,69.5 L201.0,70.0 L201.5,70.5 L202.0,71.0 L202.4,71.5 L202.9,72.0 L203.2,72.5 L203.6,73.0 L204.0,73.6 L204.5,74.3 L204.9,75.0 L205.2,75.5 L205.5,76.1 L206.0,77.0 L206.3,77.5 L206.5,78.0 L207.0,79.0 L207.2,79.5 L207.5,80.3 L207.8,81.0 L208.0,81.6 L208.4,82.5 L208.5,83.0 L208.9,84.0 L209.0,84.5 L209.3,85.5 L209.5,86.1 L209.8,87.0 L210.0,88.0 L210.1,88.5 L210.4,89.5 L210.5,90.0 L210.7,91.0 L211.0,92.0 L211.1,92.5 L211.3,93.5 L211.4,94.5 L211.5,95.0 L211.7,96.0 L211.8,97.0 L211.9,98.0 L212.0,99.0 L212.0,99.5 L212.1,100.5 L212.1,101.5 L212.1,102.5 L212.0,103.5 L212.0,104.0 L211.9,105.0 L211.8,106.0 L211.6,107.0 L211.4,107.5 L211.0,108.1 L210.5,108.8 L210.0,109.5 L209.8,110.0 L209.7,111.0 L210.0,111.8 L210.4,112.5 L210.6,113.0 L210.9,114.0 L211.0,115.0 L210.8,116.0 L210.6,117.0 L210.4,117.5 L210.0,118.2 L209.5,119.0 L209.1,119.5 L208.8,120.0 L208.3,120.5 L207.9,121.0 L207.5,121.5 L207.0,122.1 L206.5,122.7 L206.0,123.2 L205.5,123.8 L205.0,124.3 L204.5,124.8 L204.0,125.2 L203.5,125.7 L203.0,126.1 L202.4,126.5 L201.6,127.0 L201.0,127.3 L200.5,127.5 L199.5,127.8 L198.5,128.0 L198.0,128.0Z" fill="#f9c3ab" fill-rule="evenodd"/>
<path d="M200.0,125.6 L199.0,125.8 L198.0,125.9 L197.0,125.9 L196.0,125.7 L195.4,125.5 L194.5,125.1 L194.0,124.9 L193.4,124.5 L192.7,124.0 L192.0,123.5 L191.5,123.1 L191.0,122.7 L190.5,122.2 L190.0,121.8 L189.5,121.4 L189.0,120.9 L188.5,120.4 L188.0,120.0 L187.5,119.5 L187.0,118.9 L186.5,118.3 L186.0,117.6 L185.7,117.0 L185.5,116.5 L185.3,115.5 L185.3,114.5 L185.5,113.7 L185.8,113.0 L186.1,112.5 L186.5,111.9 L186.9,111.0 L186.8,110.0 L186.5,109.4 L186.0,108.7 L185.5,108.0 L185.2,107.5 L185.0,107.0 L184.7,106.0 L184.6,105.0 L184.5,104.0 L184.5,103.5 L184.5,102.5 L184.5,101.5 L184.5,100.8 L184.5,100.0 L184.6,99.0 L184.7,98.0 L184.8,97.0 L185.0,96.0 L185.1,95.5 L185.3,94.5 L185.5,93.5 L185.6,93.0 L185.8,92.0 L186.0,91.2 L186.2,90.5 L186.4,89.5 L186.6,89.0 L186.8,88.0 L187.0,87.4 L187.2,86.5 L187.5,85.7 L187.7,85.0 L188.0,84.1 L188.2,83.5 L188.5,82.7 L188.8,82.0 L189.0,81.4 L189.4,80.5 L189.6,80.0 L190.0,79.1 L190.3,78.5 L190.6,78.0 L191.0,77.2 L191.4,76.5 L191.7,76.0 L192.1,75.5 L192.5,74.9 L193.0,74.3 L193.5,73.8 L194.0,73.3 L194.5,72.9 L195.1,72.5 L196.0,72.1 L196.5,71.9 L197.5,71.8 L198.5,71.9 L199.0,72.1 L199.9,72.5 L200.5,72.9 L201.0,73.2 L201.5,73.7 L202.0,74.1 L202.5,74.7 L203.0,75.3 L203.5,75.9 L203.9,76.5 L204.2,77.0 L204.5,77.5 L205.0,78.3 L205.4,79.0 L205.7,79.5 L206.0,80.2 L206.4,81.0 L206.6,81.5 L207.0,82.5 L207.2,83.0 L207.5,83.8 L207.8,84.5 L208.0,85.2 L208.3,86.0 L208.5,86.8 L208.7,87.5 L209.0,88.5 L209.1,89.0 L209.4,90.0 L209.5,90.6 L209.7,91.5 L209.9,92.5 L210.0,93.0 L210.2,94.0 L210.4,95.0 L210.5,95.8 L210.6,96.5 L210.7,97.5 L210.8,98.5 L210.8,99.5 L210.9,100.5 L210.9,101.5 L210.8,102.5 L210.8,103.5 L210.7,104.5 L210.6,105.5 L210.5,106.0 L210.3,107.0 L210.0,107.7 L209.6,108.5 L209.3,109.0 L209.0,109.5 L208.6,110.5 L208.7,111.5 L209.0,112.3 L209.2,113.0 L209.3,114.0 L209.3,115.0 L209.1,116.0 L208.9,116.5 L208.5,117.5 L208.3,118.0 L208.0,118.5 L207.5,119.2 L207.0,119.9 L206.5,120.5 L206.1,121.0 L205.6,121.5 L205.1,122.0 L204.6,122.5 L204.1,123.0 L203.5,123.5 L203.0,123.9 L202.5,124.3 L202.0,124.6 L201.4,125.0 L200.5,125.4 L200.0,125.6Z" fill="#f6a487" fill-rule="evenodd"/>
<path d="M200.0,123.5 L199.0,123.8 L198.0,123.9 L197.0,123.8 L196.0,123.6 L195.5,123.5 L194.5,123.1 L194.0,122.8 L193.4,122.5 L192.7,122.0 L192.0,121.5 L191.5,121.2 L191.0,120.7 L190.5,120.3 L190.0,119.9 L189.5,119.4 L189.0,118.8 L188.5,118.2 L188.1,117.5 L187.8,117.0 L187.5,116.2 L187.3,115.5 L187.2,114.5 L187.3,113.5 L187.5,112.9 L187.9,112.0 L188.1,111.5 L188.2,110.5 L188.0,109.7 L187.5,109.0 L187.2,108.5 L186.9,108.0 L186.5,107.2 L186.3,106.5 L186.1,105.5 L186.0,104.9 L185.9,104.0 L185.8,103.0 L185.8,102.0 L185.8,101.0 L185.8,100.0 L185.9,99.0 L185.9,98.0 L186.0,97.5 L186.1,96.5 L186.3,95.5 L186.5,94.5 L186.6,94.0 L186.8,93.0 L187.0,92.1 L187.1,91.5 L187.4,90.5 L187.5,90.0 L187.8,89.0 L188.0,88.4 L188.3,87.5 L188.5,86.8 L188.8,86.0 L189.0,85.3 L189.3,84.5 L189.5,84.0 L189.9,83.0 L190.1,82.5 L190.5,81.6 L190.8,81.0 L191.1,80.5 L191.5,79.7 L191.9,79.0 L192.3,78.5 L192.6,78.0 L193.0,77.5 L193.5,76.9 L194.0,76.4 L194.5,76.0 L195.1,75.5 L196.0,75.0 L196.5,74.9 L197.5,74.7 L198.5,74.8 L199.1,75.0 L200.0,75.4 L200.5,75.7 L201.0,76.1 L201.5,76.5 L202.0,77.0 L202.5,77.6 L203.0,78.2 L203.5,78.9 L203.9,79.5 L204.2,80.0 L204.5,80.5 L205.0,81.4 L205.3,82.0 L205.5,82.5 L206.0,83.5 L206.2,84.0 L206.5,84.8 L206.8,85.5 L207.0,86.2 L207.3,87.0 L207.5,87.7 L207.8,88.5 L208.0,89.4 L208.2,90.0 L208.4,91.0 L208.6,91.5 L208.8,92.5 L209.0,93.4 L209.1,94.0 L209.3,95.0 L209.5,96.0 L209.5,96.5 L209.6,97.5 L209.7,98.5 L209.8,99.5 L209.8,100.5 L209.8,101.5 L209.7,102.5 L209.6,103.5 L209.5,104.5 L209.5,105.0 L209.3,106.0 L209.1,107.0 L208.9,107.5 L208.5,108.3 L208.1,109.0 L207.8,109.5 L207.5,110.2 L207.4,111.0 L207.5,111.5 L207.8,112.5 L207.9,113.5 L207.9,114.5 L207.7,115.5 L207.5,116.1 L207.2,117.0 L206.9,117.5 L206.5,118.2 L206.0,119.0 L205.6,119.5 L205.1,120.0 L204.6,120.5 L204.1,121.0 L203.5,121.5 L203.0,121.9 L202.5,122.3 L202.0,122.6 L201.3,123.0 L200.5,123.4 L200.0,123.5Z" fill="#f38466" fill-rule="evenodd"/>
<path d="M199.0,122.0 L198.0,122.1 L197.0,122.1 L196.4,122.0 L195.5,121.8 L194.8,121.5 L194.0,121.2 L193.5,120.9 L192.9,120.5 L192.2,120.0 L191.5,119.5 L191.0,119.0 L190.5,118.5 L190.1,118.0 L189.7,117.5 L189.4,117.0 L189.0,116.0 L188.9,115.5 L188.7,114.5 L188.7,113.5 L189.0,112.5 L189.2,112.0 L189.5,111.1 L189.6,110.5 L189.4,110.0 L189.0,109.3 L188.5,108.6 L188.1,108.0 L187.8,107.5 L187.5,106.7 L187.3,106.0 L187.2,105.0 L187.0,104.0 L187.0,103.5 L186.9,102.5 L186.9,101.5 L186.8,100.5 L186.9,99.5 L186.9,98.5 L187.0,97.7 L187.1,97.0 L187.2,96.0 L187.4,95.0 L187.5,94.5 L187.7,93.5 L188.0,92.5 L188.1,92.0 L188.4,91.0 L188.6,90.5 L188.9,89.5 L189.0,89.0 L189.4,88.0 L189.5,87.5 L189.9,86.5 L190.1,86.0 L190.5,85.0 L190.7,84.5 L191.0,83.9 L191.4,83.0 L191.7,82.5 L192.0,81.9 L192.5,81.1 L192.9,80.5 L193.3,80.0 L193.7,79.5 L194.1,79.0 L194.7,78.5 L195.4,78.0 L196.0,77.7 L196.5,77.5 L197.5,77.3 L198.5,77.4 L199.0,77.5 L200.0,78.0 L200.5,78.3 L201.0,78.7 L201.5,79.2 L202.0,79.7 L202.5,80.3 L203.0,81.0 L203.3,81.5 L203.7,82.0 L204.0,82.6 L204.5,83.5 L204.7,84.0 L205.0,84.6 L205.4,85.5 L205.6,86.0 L206.0,87.0 L206.2,87.5 L206.5,88.4 L206.7,89.0 L207.0,89.9 L207.2,90.5 L207.5,91.5 L207.6,92.0 L207.9,93.0 L208.0,93.5 L208.2,94.5 L208.4,95.5 L208.5,96.1 L208.6,97.0 L208.7,98.0 L208.8,99.0 L208.8,100.0 L208.8,101.0 L208.8,102.0 L208.7,103.0 L208.6,104.0 L208.5,104.5 L208.3,105.5 L208.1,106.5 L208.0,107.0 L207.5,108.0 L207.2,108.5 L206.9,109.0 L206.5,109.6 L206.1,110.5 L206.2,111.5 L206.5,112.5 L206.6,113.0 L206.6,114.0 L206.5,114.7 L206.3,115.5 L206.0,116.4 L205.7,117.0 L205.4,117.5 L205.0,118.2 L204.5,118.8 L204.0,119.3 L203.5,119.8 L203.0,120.2 L202.5,120.5 L201.8,121.0 L201.0,121.4 L200.5,121.6 L199.5,121.9 L199.0,122.0Z" fill="#ef6549" fill-rule="evenodd"/>
<path d="M200.0,120.0 L199.0,120.3 L198.0,120.4 L197.0,120.4 L196.0,120.2 L195.3,120.0 L194.5,119.7 L194.0,119.4 L193.3,119.0 L192.6,118.5 L192.0,118.0 L191.6,117.5 L191.2,117.0 L190.9,116.5 L190.5,115.5 L190.4,115.0 L190.3,114.0 L190.4,113.0 L190.6,112.5 L191.0,111.7 L191.3,111.0 L191.2,110.0 L190.8,109.5 L190.3,109.0 L189.9,108.5 L189.5,108.0 L189.0,107.2 L188.7,106.5 L188.5,105.6 L188.4,105.0 L188.2,104.0 L188.1,103.0 L188.0,102.1 L188.0,101.5 L187.9,100.5 L187.9,99.5 L188.0,98.5 L188.0,98.0 L188.2,97.0 L188.3,96.0 L188.5,95.2 L188.7,94.5 L188.9,93.5 L189.1,93.0 L189.4,92.0 L189.6,91.5 L189.9,90.5 L190.1,90.0 L190.5,89.0 L190.7,88.5 L191.0,87.8 L191.4,87.0 L191.6,86.5 L192.0,85.6 L192.3,85.0 L192.6,84.5 L193.0,83.8 L193.5,83.1 L193.9,82.5 L194.4,82.0 L194.9,81.5 L195.5,81.0 L196.0,80.7 L196.5,80.5 L197.5,80.3 L198.5,80.3 L199.0,80.5 L200.0,81.0 L200.5,81.4 L201.0,81.8 L201.5,82.4 L202.0,83.0 L202.4,83.5 L202.7,84.0 L203.0,84.5 L203.5,85.3 L203.8,86.0 L204.1,86.5 L204.5,87.4 L204.8,88.0 L205.0,88.5 L205.4,89.5 L205.6,90.0 L206.0,91.0 L206.2,91.5 L206.5,92.5 L206.7,93.0 L207.0,94.0 L207.1,94.5 L207.3,95.5 L207.5,96.5 L207.6,97.0 L207.7,98.0 L207.8,99.0 L207.8,100.0 L207.8,101.0 L207.7,102.0 L207.6,103.0 L207.5,103.5 L207.3,104.5 L207.1,105.5 L207.0,106.1 L206.7,107.0 L206.5,107.5 L206.0,108.2 L205.5,108.8 L205.0,109.4 L204.5,110.0 L204.3,110.5 L204.5,111.5 L204.7,112.0 L205.0,112.9 L205.1,113.5 L205.0,114.5 L204.9,115.0 L204.5,116.0 L204.3,116.5 L204.0,117.0 L203.5,117.7 L203.0,118.2 L202.5,118.7 L202.0,119.0 L201.2,119.5 L200.5,119.8 L200.0,120.0Z" fill="#e94532" fill-rule="evenodd"/>
<path d="M199.5,118.1 L198.5,118.4 L197.5,118.5 L196.5,118.4 L195.5,118.1 L195.0,117.9 L194.3,117.5 L193.7,117.0 L193.2,116.5 L192.9,116.0 L192.5,115.1 L192.4,114.5 L192.4,113.5 L192.6,113.0 L193.0,112.5 L193.6,112.0 L194.3,111.5 L195.0,111.1 L195.5,110.7 L195.5,110.3 L195.0,110.0 L194.0,109.6 L193.5,109.3 L192.9,109.0 L192.0,108.5 L191.5,108.1 L191.0,107.6 L190.6,107.0 L190.3,106.5 L190.0,105.7 L189.8,105.0 L189.6,104.0 L189.5,103.5 L189.3,102.5 L189.2,101.5 L189.1,100.5 L189.1,99.5 L189.2,98.5 L189.3,97.5 L189.5,96.5 L189.6,96.0 L189.9,95.0 L190.0,94.5 L190.4,93.5 L190.6,93.0 L191.0,92.1 L191.3,91.5 L191.5,91.0 L192.0,90.1 L192.4,89.5 L192.7,89.0 L193.0,88.5 L193.5,87.7 L194.0,87.0 L194.4,86.5 L194.9,86.0 L195.4,85.5 L196.0,85.1 L196.5,84.8 L197.5,84.5 L198.5,84.6 L199.4,85.0 L200.0,85.4 L200.5,85.9 L201.0,86.4 L201.5,87.0 L201.9,87.5 L202.3,88.0 L202.6,88.5 L203.0,89.0 L203.5,89.8 L203.9,90.5 L204.2,91.0 L204.5,91.6 L204.9,92.5 L205.2,93.0 L205.5,93.8 L205.7,94.5 L206.0,95.3 L206.2,96.0 L206.4,97.0 L206.5,97.8 L206.6,98.5 L206.6,99.5 L206.6,100.5 L206.5,101.5 L206.5,102.0 L206.3,103.0 L206.1,104.0 L205.9,104.5 L205.7,105.5 L205.5,106.0 L205.0,107.0 L204.7,107.5 L204.2,108.0 L203.6,108.5 L203.0,108.9 L202.5,109.1 L201.6,109.5 L201.0,109.8 L200.4,110.0 L199.6,110.5 L200.1,111.0 L201.0,111.4 L201.5,111.7 L202.0,112.1 L202.5,112.7 L202.9,113.5 L202.9,114.5 L202.5,115.5 L202.3,116.0 L201.9,116.5 L201.5,117.0 L200.8,117.5 L200.0,118.0 L199.5,118.1Z" fill="#e02d22" fill-rule="evenodd"/>
<path d="M199.0,108.0 L198.0,108.1 L197.0,108.1 L196.0,108.0 L195.5,107.9 L194.5,107.7 L194.0,107.5 L193.1,107.0 L192.6,106.5 L192.2,106.0 L191.9,105.5 L191.5,104.7 L191.2,104.0 L191.0,103.4 L190.8,102.5 L190.6,101.5 L190.5,100.9 L190.4,100.0 L190.5,99.0 L190.5,98.4 L190.6,97.5 L190.9,96.5 L191.0,96.0 L191.4,95.0 L191.7,94.5 L192.0,93.9 L192.5,93.1 L193.0,92.5 L193.5,92.0 L194.0,91.5 L194.5,91.1 L195.0,90.7 L195.5,90.5 L196.5,90.1 L197.0,90.0 L198.0,90.0 L198.5,90.0 L199.5,90.3 L200.0,90.5 L200.9,91.0 L201.5,91.4 L202.0,91.8 L202.5,92.3 L203.0,92.9 L203.5,93.5 L203.8,94.0 L204.1,94.5 L204.5,95.4 L204.7,96.0 L205.0,96.9 L205.1,97.5 L205.3,98.5 L205.3,99.5 L205.3,100.5 L205.1,101.5 L205.0,102.1 L204.8,103.0 L204.5,103.8 L204.2,104.5 L203.9,105.0 L203.5,105.7 L203.0,106.4 L202.5,106.9 L202.0,107.2 L201.4,107.5 L200.5,107.8 L199.5,108.0 L199.0,108.0Z" fill="#cc1d1a" fill-rule="evenodd"/>
<path d="M200.0,105.0 L199.0,105.3 L198.0,105.5 L197.0,105.4 L196.0,105.2 L195.4,105.0 L194.5,104.5 L194.0,104.1 L193.5,103.5 L193.1,103.0 L192.8,102.5 L192.5,101.7 L192.3,101.0 L192.2,100.0 L192.1,99.0 L192.3,98.0 L192.5,97.2 L192.8,96.5 L193.1,96.0 L193.5,95.4 L194.0,94.8 L194.5,94.4 L195.1,94.0 L196.0,93.6 L196.5,93.4 L197.5,93.3 L198.5,93.3 L199.5,93.5 L200.0,93.7 L200.6,94.0 L201.4,94.5 L201.9,95.0 L202.3,95.5 L202.7,96.0 L203.0,96.6 L203.3,97.5 L203.5,98.1 L203.6,99.0 L203.6,100.0 L203.5,100.6 L203.3,101.5 L203.0,102.1 L202.5,103.0 L202.1,103.5 L201.6,104.0 L201.0,104.5 L200.5,104.8 L200.0,105.0Z" fill="#b31414" fill-rule="evenodd"/>
<path d="M199.0,102.7 L198.0,102.8 L197.0,102.8 L196.2,102.5 L195.5,102.1 L195.0,101.6 L194.6,101.0 L194.3,100.5 L194.1,99.5 L194.2,98.5 L194.5,97.7 L194.9,97.0 L195.4,96.5 L196.0,96.1 L196.5,95.9 L197.5,95.6 L198.5,95.7 L199.5,96.0 L200.0,96.3 L200.5,96.7 L201.0,97.2 L201.4,98.0 L201.5,98.5 L201.6,99.5 L201.5,100.1 L201.1,101.0 L200.8,101.5 L200.3,102.0 L199.5,102.5 L199.0,102.7Z" fill="#961018" fill-rule="evenodd"/>
</g></g>
<line x1="163.2" y1="34.5" x2="163.2" y2="133.5" stroke="#4a80b4" stroke-width="1.0" stroke-dasharray="2.6 2.0"/>
<line x1="125.5" y1="110.2" x2="227.5" y2="110.2" stroke="#4a80b4" stroke-width="1.0" stroke-dasharray="2.6 2.0"/>
<text x="131.90" y="52.70" font-size="7.6" fill="#222" stroke="#222" stroke-width="0.2">0.09%</text>
<text x="193.30" y="52.70" font-size="7.6" fill="#222" stroke="#222" stroke-width="0.2">78.18%</text>
<text x="131.90" y="130.70" font-size="7.6" fill="#222" stroke="#222" stroke-width="0.2">0.07%</text>
<text x="193.30" y="130.70" font-size="7.6" fill="#222" stroke="#222" stroke-width="0.2">21.67%</text>
<rect x="125.5" y="34.5" width="102" height="99" fill="none" stroke="#1e1e1e" stroke-width="1.05"/>
<g clip-path="url(#c11)"><g filter="url(#bl)">
<path d="M131,226 L131,214 C133,208 140,204 148,200 C155,196 160,190 165,184 C170,177 178,171 188,170 C198,169.5 205,176 207,186 C209,196 209,210 210,226 Z" fill="#fdeee8" filter="url(#bl2)"/>
<path d="M180.0,234.5 L179.0,234.5 L178.0,234.5 L177.0,234.5 L176.3,234.5 L175.5,234.5 L174.5,234.4 L173.5,234.4 L172.5,234.3 L171.5,234.3 L170.5,234.1 L169.6,234.0 L169.0,233.9 L168.0,233.7 L167.5,233.5 L166.5,233.2 L166.0,233.0 L165.0,232.5 L164.5,232.2 L164.0,232.0 L163.3,231.5 L162.5,231.0 L162.0,230.7 L161.5,230.3 L161.0,230.0 L160.3,229.5 L159.5,229.0 L159.0,228.7 L158.5,228.5 L157.5,228.1 L157.0,227.9 L156.0,227.8 L155.0,227.7 L154.0,227.7 L153.0,227.8 L152.0,227.8 L151.0,227.9 L150.0,227.9 L149.0,228.0 L148.5,228.0 L147.5,228.1 L146.5,228.1 L145.5,228.1 L144.5,228.1 L143.5,228.1 L142.5,228.1 L141.5,228.0 L140.8,228.0 L140.0,228.0 L139.0,227.9 L138.0,227.8 L137.0,227.7 L136.0,227.5 L135.5,227.5 L134.5,227.3 L133.5,227.1 L133.0,227.0 L132.0,226.8 L131.0,226.5 L130.5,226.4 L129.5,226.1 L129.0,225.9 L128.0,225.6 L127.5,225.4 L126.6,225.0 L126.0,224.7 L125.5,224.5 L125.3,223.5 L125.3,222.5 L125.2,221.5 L125.2,220.5 L125.2,219.5 L125.2,218.5 L125.2,217.5 L125.2,216.5 L125.2,215.5 L125.3,214.5 L125.4,213.5 L125.4,212.5 L125.5,211.8 L126.0,211.4 L126.5,211.0 L127.1,210.5 L127.8,210.0 L128.5,209.5 L129.0,209.2 L129.5,208.9 L130.1,208.5 L131.0,208.0 L131.5,207.7 L132.0,207.5 L133.0,207.0 L133.5,206.8 L134.3,206.5 L135.0,206.2 L135.7,206.0 L136.5,205.7 L137.3,205.5 L138.0,205.3 L139.0,205.0 L139.5,204.9 L140.5,204.6 L141.0,204.5 L142.0,204.3 L143.0,204.0 L143.5,203.9 L144.5,203.6 L145.0,203.5 L146.0,203.2 L146.5,203.0 L147.5,202.6 L148.0,202.4 L148.7,202.0 L149.4,201.5 L149.9,201.0 L150.4,200.5 L150.7,200.0 L151.0,199.5 L151.5,198.6 L151.7,198.0 L152.0,197.2 L152.2,196.5 L152.5,195.6 L152.7,195.0 L153.0,194.0 L153.2,193.5 L153.5,192.6 L153.7,192.0 L154.0,191.3 L154.3,190.5 L154.5,190.0 L155.0,189.0 L155.3,188.5 L155.5,188.0 L156.0,187.2 L156.4,186.5 L156.7,186.0 L157.1,185.5 L157.5,184.9 L158.0,184.2 L158.5,183.5 L158.9,183.0 L159.3,182.5 L159.8,182.0 L160.2,181.5 L160.7,181.0 L161.2,180.5 L161.7,180.0 L162.2,179.5 L162.7,179.0 L163.3,178.5 L163.8,178.0 L164.4,177.5 L165.0,177.0 L165.5,176.6 L166.0,176.2 L166.5,175.9 L167.0,175.5 L167.7,175.0 L168.4,174.5 L169.0,174.1 L169.5,173.7 L170.0,173.4 L170.7,173.0 L171.5,172.5 L172.0,172.2 L172.5,171.9 L173.2,171.5 L174.0,171.1 L174.5,170.8 L175.2,170.5 L176.0,170.1 L176.5,169.9 L177.4,169.5 L178.0,169.3 L178.8,169.0 L179.5,168.8 L180.4,168.5 L181.0,168.3 L182.0,168.1 L182.7,168.0 L183.5,167.9 L184.5,167.8 L185.5,167.7 L186.5,167.7 L187.5,167.8 L188.5,167.9 L189.2,168.0 L190.0,168.2 L191.0,168.4 L191.5,168.6 L192.5,168.9 L193.0,169.1 L193.9,169.5 L194.5,169.8 L195.0,170.1 L195.8,170.5 L196.5,171.0 L197.0,171.3 L197.5,171.7 L198.0,172.1 L198.5,172.5 L199.1,173.0 L199.6,173.5 L200.1,174.0 L200.6,174.5 L201.0,175.0 L201.5,175.6 L202.0,176.2 L202.5,176.9 L203.0,177.5 L203.3,178.0 L203.6,178.5 L204.0,179.1 L204.5,180.0 L204.8,180.5 L205.0,181.0 L205.5,181.9 L205.8,182.5 L206.0,183.0 L206.4,184.0 L206.6,184.5 L207.0,185.5 L207.1,186.0 L207.5,187.0 L207.6,187.5 L207.9,188.5 L208.0,189.0 L208.3,190.0 L208.5,191.0 L208.6,191.5 L208.8,192.5 L208.9,193.5 L209.0,194.2 L209.1,195.0 L209.2,196.0 L209.2,197.0 L209.3,198.0 L209.3,199.0 L209.3,200.0 L209.2,201.0 L209.2,202.0 L209.1,203.0 L209.0,203.5 L208.9,204.5 L208.7,205.5 L208.5,206.4 L208.4,207.0 L208.1,208.0 L208.0,208.5 L207.7,209.5 L207.5,210.1 L207.2,211.0 L207.0,211.7 L206.7,212.5 L206.5,213.2 L206.3,214.0 L206.0,214.9 L205.8,215.5 L205.5,216.5 L205.4,217.0 L205.0,218.0 L204.8,218.5 L204.5,219.3 L204.2,220.0 L204.0,220.5 L203.5,221.5 L203.3,222.0 L203.0,222.5 L202.5,223.3 L202.0,224.0 L201.7,224.5 L201.3,225.0 L200.9,225.5 L200.4,226.0 L200.0,226.5 L199.5,227.0 L199.0,227.5 L198.4,228.0 L197.8,228.5 L197.2,229.0 L196.5,229.5 L196.0,229.8 L195.5,230.2 L194.9,230.5 L194.0,231.0 L193.5,231.3 L193.0,231.5 L192.0,232.0 L191.5,232.2 L190.8,232.5 L190.0,232.8 L189.4,233.0 L188.5,233.3 L187.6,233.5 L187.0,233.7 L186.0,233.9 L185.3,234.0 L184.5,234.1 L183.5,234.3 L182.5,234.4 L181.5,234.5 L180.5,234.5 L180.0,234.5Z" fill="#fdeee6" fill-rule="evenodd"/>
<path d="M181.0,233.0 L180.0,233.1 L179.0,233.1 L178.0,233.0 L177.3,233.0 L176.5,233.0 L175.5,232.9 L174.5,232.8 L173.5,232.7 L172.6,232.5 L172.0,232.4 L171.0,232.2 L170.1,232.0 L169.5,231.8 L168.5,231.5 L168.0,231.4 L167.1,231.0 L166.5,230.7 L166.0,230.5 L165.1,230.0 L164.5,229.6 L164.0,229.3 L163.5,229.0 L162.8,228.5 L162.1,228.0 L161.5,227.5 L161.0,227.1 L160.5,226.8 L160.0,226.4 L159.3,226.0 L158.5,225.6 L158.0,225.5 L157.0,225.3 L156.0,225.3 L155.0,225.3 L154.0,225.5 L153.5,225.5 L152.5,225.7 L151.5,225.8 L150.5,226.0 L150.0,226.0 L149.0,226.2 L148.0,226.3 L147.0,226.3 L146.0,226.4 L145.0,226.4 L144.0,226.5 L143.0,226.5 L142.0,226.4 L141.0,226.4 L140.0,226.4 L139.0,226.3 L138.0,226.2 L137.0,226.0 L136.5,226.0 L135.5,225.8 L134.5,225.6 L134.0,225.5 L133.0,225.3 L132.1,225.0 L131.5,224.8 L130.6,224.5 L130.0,224.3 L129.4,224.0 L128.5,223.6 L128.0,223.3 L127.5,223.0 L126.8,222.5 L126.2,222.0 L125.7,221.5 L125.5,221.0 L125.4,220.0 L125.4,219.0 L125.4,218.0 L125.5,217.0 L125.8,216.5 L126.2,216.0 L126.8,215.5 L127.4,215.0 L128.0,214.5 L128.5,214.2 L129.0,213.9 L129.6,213.5 L130.5,213.0 L131.0,212.8 L131.5,212.5 L132.5,212.0 L133.0,211.8 L133.7,211.5 L134.5,211.1 L135.0,210.9 L136.0,210.5 L136.5,210.3 L137.3,210.0 L138.0,209.7 L138.7,209.5 L139.5,209.2 L140.2,209.0 L141.0,208.7 L141.8,208.5 L142.5,208.3 L143.5,208.0 L144.0,207.9 L145.0,207.7 L145.7,207.5 L146.5,207.3 L147.5,207.0 L148.0,206.9 L149.0,206.6 L149.5,206.5 L150.5,206.1 L151.0,205.9 L151.9,205.5 L152.5,205.1 L153.0,204.7 L153.5,204.3 L154.0,203.7 L154.5,203.0 L154.7,202.5 L155.0,202.0 L155.4,201.0 L155.6,200.5 L155.9,199.5 L156.0,199.0 L156.3,198.0 L156.5,197.3 L156.7,196.5 L157.0,195.6 L157.2,195.0 L157.5,194.1 L157.7,193.5 L158.0,192.8 L158.4,192.0 L158.6,191.5 L159.0,190.7 L159.4,190.0 L159.7,189.5 L160.0,189.0 L160.5,188.2 L161.0,187.5 L161.3,187.0 L161.7,186.5 L162.1,186.0 L162.5,185.5 L163.0,185.0 L163.5,184.4 L164.0,183.9 L164.5,183.4 L165.0,183.0 L165.5,182.5 L166.1,182.0 L166.7,181.5 L167.3,181.0 L168.0,180.5 L168.5,180.1 L169.0,179.8 L169.5,179.4 L170.1,179.0 L170.9,178.5 L171.5,178.1 L172.0,177.8 L172.6,177.5 L173.5,177.0 L174.0,176.8 L174.5,176.5 L175.5,176.0 L176.0,175.8 L176.8,175.5 L177.5,175.2 L178.1,175.0 L179.0,174.7 L179.7,174.5 L180.5,174.3 L181.5,174.1 L182.0,174.0 L183.0,173.9 L184.0,173.8 L185.0,173.7 L186.0,173.8 L187.0,173.8 L188.0,174.0 L188.5,174.1 L189.5,174.3 L190.1,174.5 L191.0,174.8 L191.5,175.0 L192.5,175.5 L193.0,175.8 L193.5,176.1 L194.2,176.5 L194.9,177.0 L195.5,177.5 L196.0,177.9 L196.5,178.3 L197.0,178.8 L197.5,179.3 L198.0,179.9 L198.5,180.5 L198.9,181.0 L199.3,181.5 L199.6,182.0 L200.0,182.5 L200.5,183.3 L200.9,184.0 L201.2,184.5 L201.5,185.2 L201.9,186.0 L202.1,186.5 L202.5,187.4 L202.7,188.0 L203.0,188.7 L203.3,189.5 L203.5,190.3 L203.7,191.0 L203.9,192.0 L204.1,192.5 L204.3,193.5 L204.4,194.5 L204.5,195.1 L204.6,196.0 L204.7,197.0 L204.7,198.0 L204.8,199.0 L204.8,200.0 L204.7,201.0 L204.6,202.0 L204.5,203.0 L204.5,203.5 L204.3,204.5 L204.1,205.5 L204.0,206.2 L203.9,207.0 L203.7,208.0 L203.6,209.0 L203.5,209.7 L203.4,210.5 L203.4,211.5 L203.3,212.5 L203.3,213.5 L203.2,214.5 L203.1,215.5 L203.0,216.0 L202.8,217.0 L202.6,218.0 L202.4,218.5 L202.1,219.5 L201.9,220.0 L201.5,221.0 L201.3,221.5 L201.0,222.0 L200.5,222.9 L200.1,223.5 L199.7,224.0 L199.4,224.5 L198.9,225.0 L198.5,225.5 L198.0,226.0 L197.5,226.5 L197.0,227.0 L196.4,227.5 L195.8,228.0 L195.1,228.5 L194.5,228.9 L194.0,229.2 L193.5,229.5 L192.6,230.0 L192.0,230.3 L191.5,230.5 L190.5,231.0 L190.0,231.2 L189.1,231.5 L188.5,231.7 L187.5,232.0 L187.0,232.1 L186.0,232.4 L185.4,232.5 L184.5,232.7 L183.5,232.8 L182.5,232.9 L181.5,233.0 L181.0,233.0Z" fill="#fcdccd" fill-rule="evenodd"/>
<path d="M184.0,231.5 L183.0,231.7 L182.0,231.8 L181.0,231.9 L180.0,231.9 L179.0,231.9 L178.0,231.8 L177.0,231.8 L176.0,231.7 L175.0,231.6 L174.5,231.5 L173.5,231.4 L172.5,231.2 L171.8,231.0 L171.0,230.8 L170.0,230.5 L169.5,230.3 L168.6,230.0 L168.0,229.8 L167.4,229.5 L166.5,229.0 L166.0,228.8 L165.5,228.5 L164.8,228.0 L164.1,227.5 L163.5,227.1 L163.0,226.7 L162.5,226.3 L162.0,225.8 L161.5,225.4 L161.0,225.0 L160.4,224.5 L159.7,224.0 L159.0,223.6 L158.5,223.4 L157.5,223.1 L156.5,223.1 L155.5,223.2 L154.5,223.5 L154.0,223.6 L153.0,223.8 L152.4,224.0 L151.5,224.2 L150.5,224.4 L150.0,224.5 L149.0,224.7 L148.0,224.8 L147.0,224.9 L146.4,225.0 L145.5,225.1 L144.5,225.1 L143.5,225.2 L142.5,225.2 L141.5,225.1 L140.5,225.1 L139.5,225.0 L139.0,225.0 L138.0,224.8 L137.0,224.7 L136.0,224.5 L135.5,224.4 L134.5,224.2 L133.9,224.0 L133.0,223.7 L132.5,223.5 L131.5,223.1 L131.0,222.8 L130.4,222.5 L129.7,222.0 L129.1,221.5 L128.6,221.0 L128.3,220.5 L128.0,219.6 L128.0,219.0 L128.0,218.5 L128.5,217.5 L128.9,217.0 L129.4,216.5 L130.0,216.0 L130.5,215.7 L131.0,215.4 L131.7,215.0 L132.5,214.6 L133.0,214.4 L134.0,214.0 L134.5,213.8 L135.4,213.5 L136.0,213.3 L137.0,213.0 L137.5,212.9 L138.5,212.6 L139.1,212.5 L140.0,212.3 L141.0,212.1 L141.6,212.0 L142.5,211.8 L143.5,211.7 L144.5,211.5 L145.0,211.4 L146.0,211.3 L147.0,211.1 L148.0,211.0 L148.5,210.9 L149.5,210.8 L150.5,210.6 L151.0,210.5 L152.0,210.3 L152.8,210.0 L153.5,209.7 L154.0,209.4 L154.6,209.0 L155.2,208.5 L155.7,208.0 L156.1,207.5 L156.5,206.9 L157.0,206.1 L157.3,205.5 L157.5,205.0 L157.9,204.0 L158.1,203.5 L158.4,202.5 L158.5,202.0 L158.8,201.0 L159.0,200.2 L159.2,199.5 L159.5,198.5 L159.6,198.0 L159.9,197.0 L160.1,196.5 L160.5,195.5 L160.7,195.0 L161.0,194.3 L161.4,193.5 L161.6,193.0 L162.0,192.3 L162.5,191.5 L162.8,191.0 L163.1,190.5 L163.5,190.0 L164.0,189.3 L164.5,188.7 L165.0,188.1 L165.5,187.6 L166.0,187.1 L166.5,186.6 L167.0,186.1 L167.5,185.7 L168.0,185.2 L168.5,184.8 L169.0,184.5 L169.6,184.0 L170.4,183.5 L171.0,183.1 L171.5,182.8 L172.0,182.5 L172.8,182.0 L173.5,181.6 L174.0,181.3 L174.7,181.0 L175.5,180.6 L176.0,180.4 L177.0,180.0 L177.5,179.8 L178.5,179.5 L179.0,179.4 L180.0,179.1 L180.5,179.0 L181.5,178.8 L182.5,178.7 L183.5,178.6 L184.5,178.6 L185.5,178.7 L186.5,178.8 L187.4,179.0 L188.0,179.1 L189.0,179.5 L189.5,179.6 L190.3,180.0 L191.0,180.3 L191.5,180.6 L192.1,181.0 L192.8,181.5 L193.4,182.0 L194.0,182.5 L194.5,182.9 L195.0,183.5 L195.5,184.0 L195.9,184.5 L196.3,185.0 L196.7,185.5 L197.0,186.0 L197.5,186.8 L197.9,187.5 L198.2,188.0 L198.5,188.6 L198.9,189.5 L199.1,190.0 L199.5,191.0 L199.7,191.5 L200.0,192.5 L200.1,193.0 L200.3,194.0 L200.5,194.8 L200.6,195.5 L200.8,196.5 L200.9,197.5 L200.9,198.5 L200.9,199.5 L200.9,200.5 L200.9,201.5 L200.8,202.5 L200.7,203.5 L200.6,204.5 L200.6,205.5 L200.7,206.5 L200.7,207.5 L200.8,208.5 L201.0,209.5 L201.0,210.0 L201.2,211.0 L201.3,212.0 L201.3,213.0 L201.3,214.0 L201.3,215.0 L201.2,216.0 L201.1,217.0 L201.0,217.5 L200.8,218.5 L200.5,219.3 L200.2,220.0 L200.0,220.6 L199.6,221.5 L199.3,222.0 L199.0,222.5 L198.5,223.2 L198.0,223.9 L197.5,224.5 L197.1,225.0 L196.6,225.5 L196.1,226.0 L195.5,226.5 L195.0,226.9 L194.5,227.3 L194.0,227.7 L193.5,228.0 L192.7,228.5 L192.0,228.9 L191.5,229.2 L190.8,229.5 L190.0,229.9 L189.5,230.1 L188.5,230.4 L188.0,230.6 L187.0,230.9 L186.5,231.0 L185.5,231.3 L184.5,231.5 L184.0,231.5Z" fill="#f9c3ab" fill-rule="evenodd"/>
<path d="M184.0,230.6 L183.0,230.7 L182.0,230.8 L181.0,230.9 L180.0,230.9 L179.0,230.9 L178.0,230.9 L177.0,230.8 L176.0,230.7 L175.0,230.6 L174.5,230.5 L173.5,230.3 L172.5,230.1 L172.0,230.0 L171.0,229.7 L170.4,229.5 L169.5,229.2 L169.0,229.0 L168.0,228.5 L167.5,228.3 L167.0,228.0 L166.1,227.5 L165.5,227.1 L165.0,226.7 L164.5,226.4 L164.0,226.0 L163.5,225.5 L162.9,225.0 L162.4,224.5 L161.8,224.0 L161.3,223.5 L160.8,223.0 L160.2,222.5 L159.7,222.0 L159.0,221.5 L158.5,221.2 L158.0,220.9 L157.0,220.7 L156.0,220.9 L155.5,221.1 L154.6,221.5 L154.0,221.7 L153.5,222.0 L152.5,222.4 L152.0,222.6 L151.0,222.9 L150.5,223.1 L149.5,223.3 L148.7,223.5 L148.0,223.6 L147.0,223.8 L146.0,223.9 L145.0,224.0 L144.5,224.0 L143.5,224.1 L142.5,224.1 L141.5,224.1 L140.5,224.0 L140.0,224.0 L139.0,223.9 L138.0,223.7 L137.0,223.5 L136.5,223.4 L135.5,223.2 L135.0,223.0 L134.0,222.6 L133.5,222.4 L132.7,222.0 L132.0,221.5 L131.5,221.1 L131.0,220.5 L130.7,220.0 L130.6,219.0 L131.0,218.0 L131.4,217.5 L131.9,217.0 L132.5,216.6 L133.0,216.2 L133.5,216.0 L134.5,215.5 L135.0,215.3 L135.9,215.0 L136.5,214.8 L137.5,214.5 L138.0,214.4 L139.0,214.2 L140.0,214.0 L140.5,214.0 L141.5,213.8 L142.5,213.7 L143.5,213.7 L144.5,213.6 L145.5,213.6 L146.5,213.6 L147.5,213.6 L148.5,213.7 L149.5,213.7 L150.5,213.8 L151.5,214.0 L152.0,214.0 L153.0,214.2 L154.0,214.2 L155.0,214.1 L155.5,213.8 L156.0,213.4 L156.5,212.7 L156.9,212.0 L157.1,211.5 L157.5,210.8 L157.9,210.0 L158.1,209.5 L158.5,208.6 L158.8,208.0 L159.0,207.5 L159.4,206.5 L159.6,206.0 L160.0,205.0 L160.1,204.5 L160.5,203.5 L160.6,203.0 L160.9,202.0 L161.0,201.5 L161.3,200.5 L161.5,200.0 L161.8,199.0 L162.0,198.5 L162.4,197.5 L162.6,197.0 L163.0,196.0 L163.2,195.5 L163.5,195.0 L164.0,194.1 L164.4,193.5 L164.7,193.0 L165.1,192.5 L165.5,191.9 L166.0,191.3 L166.5,190.7 L167.0,190.2 L167.5,189.7 L168.0,189.2 L168.5,188.8 L169.0,188.4 L169.5,188.0 L170.1,187.5 L170.8,187.0 L171.5,186.5 L172.0,186.2 L172.5,185.9 L173.2,185.5 L174.0,185.1 L174.5,184.8 L175.2,184.5 L176.0,184.1 L176.5,183.9 L177.5,183.6 L178.0,183.4 L179.0,183.1 L179.5,183.0 L180.5,182.8 L181.5,182.6 L182.5,182.6 L183.5,182.6 L184.5,182.6 L185.5,182.7 L186.5,182.9 L187.0,183.1 L188.0,183.4 L188.5,183.6 L189.3,184.0 L190.0,184.4 L190.5,184.7 L191.0,185.1 L191.5,185.5 L192.1,186.0 L192.6,186.5 L193.1,187.0 L193.5,187.5 L194.0,188.1 L194.5,188.8 L195.0,189.5 L195.2,190.0 L195.5,190.5 L196.0,191.5 L196.2,192.0 L196.5,192.7 L196.8,193.5 L197.0,194.3 L197.2,195.0 L197.4,196.0 L197.5,196.7 L197.6,197.5 L197.7,198.5 L197.7,199.5 L197.8,200.5 L197.8,201.5 L197.8,202.5 L197.9,203.5 L198.0,204.5 L198.1,205.0 L198.3,206.0 L198.5,206.7 L198.7,207.5 L199.0,208.5 L199.1,209.0 L199.4,210.0 L199.5,210.6 L199.7,211.5 L199.8,212.5 L199.9,213.5 L200.0,214.5 L199.9,215.5 L199.8,216.5 L199.7,217.5 L199.5,218.2 L199.3,219.0 L199.0,219.7 L198.7,220.5 L198.4,221.0 L198.0,221.8 L197.6,222.5 L197.2,223.0 L196.8,223.5 L196.4,224.0 L196.0,224.5 L195.5,225.0 L195.0,225.5 L194.4,226.0 L193.8,226.5 L193.1,227.0 L192.5,227.4 L192.0,227.7 L191.5,228.0 L190.5,228.5 L190.0,228.8 L189.4,229.0 L188.5,229.4 L188.0,229.6 L187.0,229.9 L186.5,230.0 L185.5,230.3 L184.5,230.5 L184.0,230.6Z" fill="#f6a487" fill-rule="evenodd"/>
<path d="M184.0,229.5 L183.0,229.7 L182.0,229.8 L181.0,229.9 L180.0,229.9 L179.0,229.9 L178.0,229.8 L177.0,229.8 L176.0,229.7 L175.0,229.5 L174.5,229.4 L173.5,229.2 L172.5,229.0 L172.0,228.9 L171.0,228.5 L170.5,228.4 L169.5,228.0 L169.0,227.8 L168.4,227.5 L167.5,227.0 L167.0,226.7 L166.5,226.4 L166.0,226.0 L165.3,225.5 L164.7,225.0 L164.1,224.5 L163.6,224.0 L163.1,223.5 L162.6,223.0 L162.2,222.5 L161.8,222.0 L161.3,221.5 L160.9,221.0 L160.5,220.4 L160.0,219.7 L159.6,219.0 L159.3,218.5 L159.0,217.6 L158.8,217.0 L158.8,216.0 L158.8,215.0 L158.9,214.0 L159.0,213.5 L159.2,212.5 L159.5,211.6 L159.7,211.0 L160.0,210.0 L160.2,209.5 L160.5,208.7 L160.8,208.0 L161.0,207.4 L161.4,206.5 L161.6,206.0 L162.0,205.0 L162.2,204.5 L162.5,203.7 L162.8,203.0 L163.0,202.5 L163.4,201.5 L163.6,201.0 L164.0,200.0 L164.2,199.5 L164.5,198.8 L164.9,198.0 L165.2,197.5 L165.5,196.9 L166.0,196.1 L166.4,195.5 L166.8,195.0 L167.2,194.5 L167.6,194.0 L168.0,193.5 L168.5,193.0 L169.1,192.5 L169.6,192.0 L170.2,191.5 L170.9,191.0 L171.5,190.6 L172.0,190.2 L172.5,189.9 L173.2,189.5 L174.0,189.0 L174.5,188.8 L175.0,188.5 L176.0,188.0 L176.5,187.8 L177.4,187.5 L178.0,187.3 L179.0,187.0 L179.5,186.9 L180.5,186.7 L181.5,186.6 L182.5,186.6 L183.5,186.7 L184.5,186.8 L185.4,187.0 L186.0,187.2 L186.8,187.5 L187.5,187.8 L188.0,188.1 L188.6,188.5 L189.3,189.0 L189.9,189.5 L190.4,190.0 L190.9,190.5 L191.3,191.0 L191.6,191.5 L192.0,192.0 L192.5,192.9 L192.8,193.5 L193.0,194.0 L193.4,195.0 L193.6,195.5 L193.8,196.5 L194.0,197.3 L194.1,198.0 L194.3,199.0 L194.4,200.0 L194.5,200.7 L194.7,201.5 L194.9,202.5 L195.1,203.0 L195.4,204.0 L195.6,204.5 L196.0,205.4 L196.3,206.0 L196.5,206.5 L196.9,207.5 L197.1,208.0 L197.5,209.0 L197.6,209.5 L198.0,210.5 L198.1,211.0 L198.3,212.0 L198.5,213.0 L198.5,213.5 L198.6,214.5 L198.6,215.5 L198.5,216.2 L198.4,217.0 L198.2,218.0 L198.0,218.7 L197.7,219.5 L197.5,220.0 L197.0,221.0 L196.7,221.5 L196.4,222.0 L196.0,222.6 L195.5,223.2 L195.0,223.8 L194.5,224.3 L194.0,224.8 L193.5,225.3 L193.0,225.7 L192.5,226.0 L191.8,226.5 L191.0,227.0 L190.5,227.3 L190.0,227.5 L189.0,228.0 L188.5,228.2 L187.8,228.5 L187.0,228.8 L186.2,229.0 L185.5,229.2 L184.5,229.4 L184.0,229.5ZM146.5,222.6 L145.5,222.7 L144.5,222.8 L143.5,222.9 L142.5,222.9 L141.5,222.9 L140.5,222.8 L139.5,222.7 L138.5,222.5 L138.0,222.4 L137.0,222.1 L136.5,222.0 L135.5,221.6 L135.0,221.3 L134.5,220.9 L134.0,220.5 L133.5,219.5 L133.7,218.5 L134.1,218.0 L134.6,217.5 L135.4,217.0 L136.0,216.7 L136.5,216.5 L137.5,216.2 L138.0,216.0 L139.0,215.8 L140.0,215.6 L140.6,215.5 L141.5,215.4 L142.5,215.3 L143.5,215.3 L144.5,215.3 L145.5,215.4 L146.5,215.5 L147.0,215.5 L148.0,215.7 L149.0,215.9 L149.5,216.1 L150.5,216.5 L151.0,216.7 L151.5,217.0 L152.1,217.5 L152.5,218.0 L152.7,219.0 L152.5,219.5 L152.0,220.2 L151.5,220.6 L151.0,221.0 L150.1,221.5 L149.5,221.7 L148.8,222.0 L148.0,222.2 L147.0,222.5 L146.5,222.6Z" fill="#f38466" fill-rule="evenodd"/>
<path d="M184.0,228.5 L183.0,228.7 L182.0,228.8 L181.0,228.9 L180.0,228.9 L179.0,228.9 L178.0,228.9 L177.0,228.8 L176.0,228.7 L175.0,228.5 L174.5,228.4 L173.5,228.2 L172.6,228.0 L172.0,227.8 L171.0,227.5 L170.5,227.3 L169.8,227.0 L169.0,226.6 L168.5,226.4 L167.8,226.0 L167.1,225.5 L166.5,225.1 L166.0,224.7 L165.5,224.3 L165.0,223.9 L164.5,223.4 L164.0,222.8 L163.5,222.3 L163.0,221.7 L162.5,221.0 L162.2,220.5 L161.9,220.0 L161.5,219.3 L161.1,218.5 L160.9,218.0 L160.7,217.0 L160.5,216.0 L160.5,215.0 L160.6,214.0 L160.7,213.0 L160.9,212.0 L161.0,211.5 L161.3,210.5 L161.5,210.0 L161.9,209.0 L162.1,208.5 L162.5,207.5 L162.7,207.0 L163.0,206.4 L163.4,205.5 L163.7,205.0 L164.0,204.4 L164.5,203.5 L164.7,203.0 L165.0,202.5 L165.5,201.6 L165.8,201.0 L166.1,200.5 L166.5,199.9 L167.0,199.2 L167.5,198.5 L167.9,198.0 L168.3,197.5 L168.7,197.0 L169.2,196.5 L169.7,196.0 L170.3,195.5 L170.9,195.0 L171.5,194.5 L172.0,194.2 L172.5,193.8 L173.0,193.5 L173.9,193.0 L174.5,192.6 L175.0,192.4 L175.8,192.0 L176.5,191.7 L177.0,191.5 L178.0,191.1 L178.5,191.0 L179.5,190.8 L180.5,190.6 L181.5,190.6 L182.5,190.6 L183.5,190.7 L184.5,191.0 L185.0,191.2 L185.7,191.5 L186.5,192.0 L187.0,192.4 L187.5,192.8 L188.0,193.3 L188.5,193.8 L189.0,194.5 L189.3,195.0 L189.6,195.5 L190.0,196.5 L190.2,197.0 L190.5,197.9 L190.7,198.5 L191.0,199.4 L191.2,200.0 L191.5,200.7 L191.9,201.5 L192.2,202.0 L192.5,202.6 L193.0,203.5 L193.3,204.0 L193.6,204.5 L194.0,205.1 L194.5,206.0 L194.8,206.5 L195.1,207.0 L195.5,207.8 L195.8,208.5 L196.0,209.0 L196.4,210.0 L196.6,210.5 L196.9,211.5 L197.0,212.0 L197.2,213.0 L197.3,214.0 L197.3,215.0 L197.3,216.0 L197.1,217.0 L197.0,217.7 L196.8,218.5 L196.5,219.3 L196.2,220.0 L195.9,220.5 L195.5,221.3 L195.0,222.0 L194.6,222.5 L194.2,223.0 L193.8,223.5 L193.3,224.0 L192.7,224.5 L192.1,225.0 L191.5,225.4 L191.0,225.8 L190.5,226.1 L189.8,226.5 L189.0,226.9 L188.5,227.1 L187.6,227.5 L187.0,227.7 L186.1,228.0 L185.5,228.2 L184.5,228.4 L184.0,228.5ZM144.0,221.5 L143.0,221.6 L142.0,221.6 L141.0,221.5 L140.5,221.5 L139.5,221.3 L138.6,221.0 L138.0,220.7 L137.5,220.4 L137.0,220.0 L136.8,219.0 L137.1,218.5 L137.7,218.0 L138.5,217.6 L139.0,217.4 L140.0,217.1 L140.7,217.0 L141.5,216.9 L142.5,216.8 L143.5,216.8 L144.5,216.9 L145.3,217.0 L146.0,217.1 L147.0,217.4 L147.5,217.7 L148.1,218.0 L148.6,218.5 L148.7,219.5 L148.3,220.0 L147.7,220.5 L147.0,220.8 L146.5,221.0 L145.5,221.3 L144.5,221.5 L144.0,221.5Z" fill="#ef6549" fill-rule="evenodd"/>
<path d="M183.0,227.6 L182.0,227.7 L181.0,227.8 L180.0,227.8 L179.0,227.8 L178.0,227.8 L177.0,227.7 L176.0,227.6 L175.4,227.5 L174.5,227.3 L173.5,227.1 L173.0,227.0 L172.0,226.7 L171.5,226.5 L170.5,226.1 L170.0,225.9 L169.2,225.5 L168.5,225.1 L168.0,224.8 L167.5,224.5 L166.9,224.0 L166.3,223.5 L165.7,223.0 L165.2,222.5 L164.8,222.0 L164.4,221.5 L164.0,221.0 L163.5,220.2 L163.1,219.5 L162.8,219.0 L162.5,218.2 L162.3,217.5 L162.1,216.5 L162.0,216.0 L161.9,215.0 L162.0,214.0 L162.0,213.5 L162.2,212.5 L162.4,211.5 L162.5,211.0 L162.9,210.0 L163.1,209.5 L163.5,208.5 L163.7,208.0 L164.0,207.4 L164.5,206.5 L164.8,206.0 L165.1,205.5 L165.5,204.9 L166.0,204.1 L166.5,203.5 L166.9,203.0 L167.3,202.5 L167.7,202.0 L168.2,201.5 L168.8,201.0 L169.3,200.5 L170.0,200.0 L170.5,199.6 L171.0,199.3 L171.5,199.0 L172.4,198.5 L173.0,198.2 L173.5,197.9 L174.5,197.5 L175.0,197.3 L175.7,197.0 L176.5,196.7 L177.1,196.5 L178.0,196.2 L178.9,196.0 L179.5,195.9 L180.5,195.8 L181.5,195.9 L182.1,196.0 L183.0,196.3 L183.5,196.5 L184.2,197.0 L184.9,197.5 L185.5,198.0 L186.0,198.5 L186.5,199.0 L186.9,199.5 L187.4,200.0 L187.9,200.5 L188.4,201.0 L188.9,201.5 L189.3,202.0 L189.8,202.5 L190.3,203.0 L190.7,203.5 L191.1,204.0 L191.5,204.5 L192.0,205.1 L192.5,205.7 L193.0,206.4 L193.4,207.0 L193.7,207.5 L194.0,208.1 L194.5,209.0 L194.7,209.5 L195.0,210.2 L195.3,211.0 L195.5,211.7 L195.7,212.5 L195.9,213.5 L195.9,214.5 L195.9,215.5 L195.8,216.5 L195.7,217.5 L195.5,218.1 L195.2,219.0 L195.0,219.5 L194.5,220.4 L194.1,221.0 L193.8,221.5 L193.4,222.0 L193.0,222.5 L192.5,223.0 L192.0,223.5 L191.4,224.0 L190.7,224.5 L190.0,225.0 L189.5,225.3 L189.0,225.6 L188.2,226.0 L187.5,226.3 L187.0,226.5 L186.0,226.9 L185.5,227.0 L184.5,227.3 L183.5,227.5 L183.0,227.6Z" fill="#e94532" fill-rule="evenodd"/>
<path d="M181.0,226.5 L180.0,226.6 L179.0,226.6 L178.0,226.5 L177.4,226.5 L176.5,226.4 L175.5,226.3 L174.5,226.1 L174.0,226.0 L173.0,225.7 L172.3,225.5 L171.5,225.2 L171.0,225.0 L170.0,224.5 L169.5,224.3 L169.0,224.0 L168.2,223.5 L167.6,223.0 L167.0,222.5 L166.5,222.0 L166.0,221.5 L165.6,221.0 L165.2,220.5 L164.9,220.0 L164.5,219.4 L164.1,218.5 L163.9,218.0 L163.6,217.0 L163.5,216.5 L163.3,215.5 L163.3,214.5 L163.4,213.5 L163.5,212.7 L163.6,212.0 L163.9,211.0 L164.1,210.5 L164.5,209.5 L164.7,209.0 L165.0,208.4 L165.5,207.5 L165.8,207.0 L166.2,206.5 L166.5,206.0 L167.0,205.4 L167.5,204.8 L168.0,204.3 L168.5,203.9 L169.0,203.5 L169.6,203.0 L170.4,202.5 L171.0,202.2 L171.5,202.0 L172.5,201.6 L173.0,201.4 L174.0,201.1 L174.5,201.0 L175.5,200.7 L176.5,200.6 L177.0,200.5 L178.0,200.4 L179.0,200.3 L180.0,200.3 L181.0,200.4 L181.7,200.5 L182.5,200.7 L183.5,201.0 L184.0,201.1 L184.8,201.5 L185.5,201.8 L186.0,202.1 L186.6,202.5 L187.4,203.0 L188.0,203.5 L188.5,203.9 L189.0,204.3 L189.5,204.8 L190.0,205.2 L190.5,205.8 L191.0,206.4 L191.5,207.0 L191.9,207.5 L192.2,208.0 L192.5,208.5 L193.0,209.4 L193.3,210.0 L193.5,210.5 L193.9,211.5 L194.0,212.0 L194.2,213.0 L194.4,214.0 L194.4,215.0 L194.3,216.0 L194.2,217.0 L194.0,217.7 L193.7,218.5 L193.5,219.0 L193.0,220.0 L192.7,220.5 L192.3,221.0 L191.9,221.5 L191.5,222.0 L191.0,222.5 L190.4,223.0 L189.8,223.5 L189.0,224.0 L188.5,224.3 L188.0,224.6 L187.2,225.0 L186.5,225.3 L186.0,225.5 L185.0,225.8 L184.3,226.0 L183.5,226.2 L182.5,226.4 L181.5,226.5 L181.0,226.5Z" fill="#e02d22" fill-rule="evenodd"/>
<path d="M181.5,225.0 L180.5,225.1 L179.5,225.2 L178.5,225.2 L177.5,225.1 L176.5,225.0 L176.0,225.0 L175.0,224.8 L174.0,224.6 L173.5,224.5 L172.5,224.2 L172.0,224.0 L171.0,223.6 L170.5,223.3 L169.9,223.0 L169.1,222.5 L168.5,222.1 L168.0,221.7 L167.5,221.2 L167.0,220.7 L166.5,220.1 L166.1,219.5 L165.8,219.0 L165.5,218.4 L165.1,217.5 L165.0,217.0 L164.8,216.0 L164.7,215.0 L164.7,214.0 L164.8,213.0 L165.0,212.0 L165.1,211.5 L165.5,210.5 L165.7,210.0 L166.0,209.3 L166.5,208.5 L166.8,208.0 L167.1,207.5 L167.5,207.0 L168.0,206.5 L168.5,206.0 L169.0,205.5 L169.7,205.0 L170.4,204.5 L171.0,204.2 L171.5,204.0 L172.5,203.6 L173.0,203.4 L174.0,203.1 L174.5,203.0 L175.5,202.8 L176.5,202.6 L177.5,202.5 L178.0,202.5 L179.0,202.4 L180.0,202.5 L180.6,202.5 L181.5,202.6 L182.5,202.8 L183.2,203.0 L184.0,203.3 L184.6,203.5 L185.5,203.9 L186.0,204.2 L186.5,204.5 L187.2,205.0 L187.9,205.5 L188.5,206.0 L189.0,206.5 L189.4,207.0 L189.9,207.5 L190.3,208.0 L190.6,208.5 L191.0,209.1 L191.5,210.0 L191.7,210.5 L192.0,211.2 L192.3,212.0 L192.5,213.0 L192.6,213.5 L192.7,214.5 L192.6,215.5 L192.5,216.5 L192.4,217.0 L192.1,218.0 L191.8,218.5 L191.5,219.2 L191.0,220.0 L190.6,220.5 L190.1,221.0 L189.6,221.5 L189.1,222.0 L188.5,222.4 L188.0,222.8 L187.5,223.1 L186.7,223.5 L186.0,223.8 L185.5,224.1 L184.5,224.4 L184.0,224.5 L183.0,224.8 L182.0,225.0 L181.5,225.0Z" fill="#cc1d1a" fill-rule="evenodd"/>
<path d="M181.5,223.1 L180.5,223.2 L179.5,223.3 L178.5,223.3 L177.5,223.3 L176.5,223.2 L175.5,223.1 L174.8,223.0 L174.0,222.8 L173.0,222.6 L172.5,222.4 L171.5,222.0 L171.0,221.8 L170.5,221.5 L169.7,221.0 L169.1,220.5 L168.5,220.0 L168.1,219.5 L167.7,219.0 L167.3,218.5 L167.0,217.9 L166.6,217.0 L166.5,216.5 L166.3,215.5 L166.2,214.5 L166.2,213.5 L166.4,212.5 L166.5,212.0 L166.9,211.0 L167.1,210.5 L167.5,209.7 L167.9,209.0 L168.3,208.5 L168.7,208.0 L169.2,207.5 L169.8,207.0 L170.5,206.5 L171.0,206.2 L171.5,205.9 L172.5,205.5 L173.0,205.3 L174.0,205.0 L174.5,204.9 L175.5,204.7 L176.5,204.5 L177.0,204.5 L178.0,204.4 L179.0,204.4 L180.0,204.4 L180.9,204.5 L181.5,204.6 L182.5,204.8 L183.1,205.0 L184.0,205.4 L184.5,205.6 L185.3,206.0 L186.0,206.5 L186.5,206.9 L187.0,207.3 L187.5,207.8 L188.0,208.3 L188.5,209.0 L188.9,209.5 L189.2,210.0 L189.5,210.7 L189.8,211.5 L190.0,212.0 L190.2,213.0 L190.3,214.0 L190.3,215.0 L190.2,216.0 L190.0,216.8 L189.7,217.5 L189.5,218.0 L189.0,218.8 L188.5,219.5 L188.0,220.0 L187.5,220.5 L187.0,220.9 L186.5,221.2 L186.0,221.5 L185.1,222.0 L184.5,222.2 L183.8,222.5 L183.0,222.7 L182.0,223.0 L181.5,223.1Z" fill="#b31414" fill-rule="evenodd"/>
<path d="M180.0,221.0 L179.0,221.2 L178.0,221.2 L177.0,221.2 L176.0,221.2 L175.0,221.1 L174.5,221.0 L173.5,220.8 L172.6,220.5 L172.0,220.3 L171.4,220.0 L170.6,219.5 L170.0,219.1 L169.5,218.6 L169.0,218.0 L168.7,217.5 L168.4,217.0 L168.0,216.0 L167.9,215.5 L167.8,214.5 L167.8,213.5 L168.0,212.6 L168.2,212.0 L168.5,211.2 L168.9,210.5 L169.2,210.0 L169.6,209.5 L170.1,209.0 L170.6,208.5 L171.4,208.0 L172.0,207.6 L172.5,207.4 L173.5,207.0 L174.0,206.9 L175.0,206.7 L176.0,206.5 L176.5,206.4 L177.5,206.4 L178.5,206.3 L179.5,206.4 L180.5,206.5 L181.0,206.6 L182.0,206.9 L182.5,207.0 L183.5,207.5 L184.0,207.8 L184.5,208.2 L185.0,208.6 L185.5,209.1 L186.0,209.7 L186.5,210.4 L186.8,211.0 L187.0,211.5 L187.3,212.5 L187.5,213.5 L187.5,214.0 L187.5,214.6 L187.4,215.5 L187.1,216.5 L186.8,217.0 L186.5,217.5 L186.0,218.2 L185.5,218.7 L185.0,219.1 L184.4,219.5 L183.5,220.0 L183.0,220.2 L182.3,220.5 L181.5,220.7 L180.5,221.0 L180.0,221.0Z" fill="#961018" fill-rule="evenodd"/>
</g></g>
<line x1="163.2" y1="137.5" x2="163.2" y2="236.5" stroke="#4a80b4" stroke-width="1.0" stroke-dasharray="2.6 2.0"/>
<line x1="125.5" y1="212.8" x2="227.5" y2="212.8" stroke="#4a80b4" stroke-width="1.0" stroke-dasharray="2.6 2.0"/>
<text x="131.90" y="155.70" font-size="7.6" fill="#222" stroke="#222" stroke-width="0.2">7.46%</text>
<text x="193.30" y="155.70" font-size="7.6" fill="#222" stroke="#222" stroke-width="0.2">49.03%</text>
<text x="131.90" y="233.70" font-size="7.6" fill="#222" stroke="#222" stroke-width="0.2">12.59%</text>
<text x="193.30" y="233.70" font-size="7.6" fill="#222" stroke="#222" stroke-width="0.2">30.92%</text>
<rect x="125.5" y="137.5" width="102" height="99" fill="none" stroke="#1e1e1e" stroke-width="1.05"/>
<g clip-path="url(#c20)"><g filter="url(#bl)">
<path d="M250,121 L252,104 C256,100 262,100 268,102 L272,96 C274,85 278,72 285,64 C290,58 296,55.5 302,55.5 C312,55.5 320,62 325,72 C329,82 330,95 330,104 L331,121 Z" fill="#fdefe9" filter="url(#bl2)"/>
<path d="M307.0,126.5 L306.0,126.6 L305.0,126.7 L304.0,126.7 L303.0,126.7 L302.0,126.7 L301.0,126.7 L300.0,126.7 L299.0,126.7 L298.0,126.6 L297.0,126.5 L296.5,126.5 L295.5,126.4 L294.5,126.3 L293.5,126.1 L292.7,126.0 L292.0,125.9 L291.0,125.7 L290.0,125.5 L289.5,125.5 L288.5,125.3 L287.5,125.0 L287.0,124.9 L286.0,124.7 L285.5,124.5 L284.5,124.2 L283.8,124.0 L283.0,123.8 L282.2,123.5 L281.5,123.2 L280.9,123.0 L280.0,122.6 L279.5,122.4 L278.7,122.0 L278.0,121.7 L277.5,121.4 L276.9,121.0 L276.1,120.5 L275.5,120.1 L275.0,119.7 L274.5,119.2 L274.0,118.8 L273.5,118.3 L273.0,117.9 L272.5,117.4 L271.9,117.0 L271.0,116.6 L270.0,116.8 L269.4,117.0 L268.5,117.5 L268.0,117.8 L267.5,118.1 L266.7,118.5 L266.0,118.9 L265.5,119.1 L264.6,119.5 L264.0,119.7 L263.2,120.0 L262.5,120.2 L261.5,120.5 L261.0,120.5 L260.0,120.7 L259.0,120.8 L258.0,120.8 L257.0,120.8 L256.0,120.7 L255.1,120.5 L254.5,120.4 L253.5,120.1 L253.0,119.9 L252.0,119.5 L251.5,119.2 L251.0,118.9 L250.3,118.5 L249.7,118.0 L249.1,117.5 L248.7,117.0 L248.3,116.5 L248.0,116.0 L247.5,115.0 L247.3,114.5 L247.1,113.5 L247.1,112.5 L247.3,111.5 L247.5,110.9 L247.9,110.0 L248.1,109.5 L248.5,108.9 L249.0,108.1 L249.4,107.5 L249.7,107.0 L250.0,106.5 L250.5,105.9 L251.0,105.3 L251.5,104.7 L252.0,104.3 L252.5,103.8 L253.0,103.5 L253.7,103.0 L254.5,102.6 L255.0,102.3 L255.8,102.0 L256.5,101.7 L257.4,101.5 L258.0,101.4 L259.0,101.2 L260.0,101.1 L261.0,101.1 L262.0,101.1 L263.0,101.2 L264.0,101.5 L264.5,101.6 L265.5,101.9 L266.0,102.1 L267.0,102.5 L267.5,102.7 L268.0,103.0 L268.9,103.5 L269.5,103.7 L270.5,103.8 L271.1,103.5 L271.9,103.0 L272.5,102.6 L273.0,102.2 L273.5,101.8 L274.0,101.5 L274.7,101.0 L275.4,100.5 L276.0,100.1 L276.5,99.7 L277.0,99.2 L277.5,98.7 L277.9,98.0 L278.2,97.5 L278.5,96.5 L278.6,96.0 L278.8,95.0 L279.0,94.0 L279.1,93.5 L279.3,92.5 L279.4,91.5 L279.5,91.0 L279.7,90.0 L279.9,89.0 L280.0,88.5 L280.2,87.5 L280.5,86.5 L280.6,86.0 L280.9,85.0 L281.1,84.5 L281.4,83.5 L281.6,83.0 L282.0,82.0 L282.2,81.5 L282.5,80.8 L282.9,80.0 L283.2,79.5 L283.5,78.9 L284.0,78.0 L284.3,77.5 L284.6,77.0 L285.0,76.5 L285.5,75.8 L286.0,75.1 L286.5,74.5 L287.0,74.0 L287.4,73.5 L287.9,73.0 L288.5,72.5 L289.0,72.0 L289.5,71.6 L290.0,71.2 L290.5,70.8 L291.0,70.5 L291.8,70.0 L292.5,69.6 L293.0,69.3 L293.7,69.0 L294.5,68.7 L295.0,68.5 L296.0,68.2 L296.7,68.0 L297.5,67.8 L298.5,67.7 L299.5,67.6 L300.5,67.5 L301.5,67.6 L302.5,67.7 L303.5,67.8 L304.4,68.0 L305.0,68.1 L306.0,68.4 L306.5,68.6 L307.5,69.0 L308.0,69.2 L308.6,69.5 L309.5,70.0 L310.0,70.3 L310.5,70.6 L311.2,71.0 L311.9,71.5 L312.5,71.9 L313.0,72.3 L313.5,72.8 L314.0,73.2 L314.5,73.6 L315.0,74.1 L315.5,74.6 L316.0,75.1 L316.5,75.7 L317.0,76.3 L317.5,76.9 L318.0,77.5 L318.3,78.0 L318.7,78.5 L319.1,79.0 L319.5,79.7 L320.0,80.5 L320.3,81.0 L320.6,81.5 L321.0,82.3 L321.4,83.0 L321.6,83.5 L322.0,84.3 L322.3,85.0 L322.5,85.5 L322.9,86.5 L323.1,87.0 L323.5,88.0 L323.6,88.5 L324.0,89.5 L324.1,90.0 L324.5,91.0 L324.6,91.5 L325.0,92.5 L325.2,93.0 L325.5,93.9 L325.8,94.5 L326.0,95.1 L326.4,96.0 L326.7,96.5 L327.0,97.2 L327.4,98.0 L327.7,98.5 L328.0,99.1 L328.5,100.0 L328.7,100.5 L329.0,101.1 L329.4,102.0 L329.6,102.5 L329.9,103.5 L330.0,104.0 L330.2,105.0 L330.3,106.0 L330.3,107.0 L330.3,108.0 L330.2,109.0 L330.1,110.0 L330.1,111.0 L330.1,112.0 L330.3,113.0 L330.5,114.0 L330.6,114.5 L330.6,115.5 L330.6,116.5 L330.5,117.0 L330.1,118.0 L329.8,118.5 L329.4,119.0 L328.9,119.5 L328.4,120.0 L327.8,120.5 L327.1,121.0 L326.5,121.4 L326.0,121.6 L325.3,122.0 L324.5,122.4 L324.0,122.6 L323.1,123.0 L322.5,123.2 L321.8,123.5 L321.0,123.8 L320.3,124.0 L319.5,124.2 L318.5,124.5 L318.0,124.7 L317.0,124.9 L316.5,125.0 L315.5,125.3 L314.5,125.5 L314.0,125.6 L313.0,125.8 L312.0,125.9 L311.4,126.0 L310.5,126.2 L309.5,126.3 L308.5,126.4 L307.5,126.5 L307.0,126.5ZM261.0,73.5 L260.0,73.7 L259.0,73.5 L258.5,73.2 L258.0,72.7 L257.6,72.0 L257.5,71.0 L257.8,70.0 L258.2,69.5 L258.8,69.0 L259.5,68.8 L260.5,68.7 L261.2,69.0 L261.9,69.5 L262.2,70.0 L262.5,70.7 L262.5,71.5 L262.4,72.0 L262.0,72.8 L261.5,73.3 L261.0,73.5Z" fill="#fdeee6" fill-rule="evenodd"/>
<path d="M306.0,124.5 L305.0,124.6 L304.0,124.6 L303.0,124.7 L302.0,124.7 L301.0,124.7 L300.0,124.6 L299.0,124.6 L298.0,124.5 L297.5,124.5 L296.5,124.4 L295.5,124.3 L294.5,124.2 L293.5,124.0 L293.0,124.0 L292.0,123.8 L291.0,123.6 L290.4,123.5 L289.5,123.3 L288.5,123.1 L288.0,122.9 L287.0,122.7 L286.5,122.5 L285.5,122.2 L285.0,122.0 L284.0,121.6 L283.5,121.4 L282.7,121.0 L282.0,120.6 L281.5,120.3 L281.0,120.0 L280.3,119.5 L279.8,119.0 L279.3,118.5 L278.9,118.0 L278.5,117.4 L278.0,116.7 L277.5,116.1 L277.0,115.7 L276.5,115.2 L276.0,114.8 L275.5,114.5 L274.9,114.0 L274.2,113.5 L273.6,113.0 L273.0,112.5 L272.5,112.0 L272.1,111.5 L271.6,111.0 L271.2,110.5 L270.6,110.0 L270.0,110.0 L269.5,110.4 L269.0,110.9 L268.5,111.5 L268.0,112.0 L267.5,112.4 L267.0,112.9 L266.5,113.3 L266.0,113.6 L265.4,114.0 L264.6,114.5 L264.0,114.8 L263.5,115.1 L262.5,115.5 L262.0,115.7 L261.2,116.0 L260.5,116.2 L259.5,116.4 L258.5,116.5 L257.5,116.5 L256.5,116.3 L255.6,116.0 L255.0,115.7 L254.5,115.4 L253.9,115.0 L253.4,114.5 L253.0,113.9 L252.5,113.0 L252.3,112.5 L252.0,111.7 L251.8,111.0 L251.6,110.0 L251.6,109.0 L251.7,108.0 L252.0,107.0 L252.2,106.5 L252.5,105.9 L253.0,105.2 L253.5,104.7 L254.0,104.2 L254.5,103.9 L255.1,103.5 L256.0,103.0 L256.5,102.8 L257.5,102.5 L258.0,102.3 L259.0,102.1 L260.0,102.1 L261.0,102.0 L262.0,102.1 L263.0,102.2 L264.0,102.5 L264.5,102.6 L265.5,103.0 L266.0,103.2 L266.5,103.5 L267.2,104.0 L267.9,104.5 L268.4,105.0 L268.9,105.5 L269.3,106.0 L269.8,106.5 L270.5,106.9 L271.1,106.5 L271.6,106.0 L272.0,105.5 L272.5,105.0 L273.0,104.5 L273.6,104.0 L274.2,103.5 L275.0,103.0 L275.5,102.7 L276.0,102.4 L276.8,102.0 L277.5,101.7 L278.0,101.5 L279.0,101.1 L279.5,100.9 L280.5,100.6 L281.0,100.4 L282.0,100.0 L282.5,99.8 L283.3,99.5 L284.0,99.1 L284.5,98.7 L285.0,98.2 L285.4,97.5 L285.7,97.0 L286.0,96.3 L286.3,95.5 L286.5,95.0 L286.9,94.0 L287.0,93.5 L287.4,92.5 L287.6,92.0 L288.0,91.0 L288.1,90.5 L288.5,89.6 L288.8,89.0 L289.0,88.5 L289.5,87.5 L289.8,87.0 L290.1,86.5 L290.5,85.8 L291.0,85.1 L291.4,84.5 L291.8,84.0 L292.3,83.5 L292.8,83.0 L293.3,82.5 L293.9,82.0 L294.5,81.5 L295.0,81.2 L295.5,80.9 L296.2,80.5 L297.0,80.1 L297.5,79.9 L298.5,79.5 L299.0,79.4 L300.0,79.2 L301.0,79.1 L302.0,79.1 L303.0,79.1 L304.0,79.2 L305.0,79.4 L305.5,79.5 L306.5,79.9 L307.0,80.1 L308.0,80.5 L308.5,80.8 L309.0,81.1 L309.7,81.5 L310.4,82.0 L311.0,82.4 L311.5,82.9 L312.0,83.3 L312.5,83.8 L313.0,84.3 L313.5,84.9 L314.0,85.5 L314.4,86.0 L314.7,86.5 L315.1,87.0 L315.5,87.6 L316.0,88.5 L316.3,89.0 L316.6,89.5 L317.0,90.3 L317.3,91.0 L317.6,91.5 L318.0,92.3 L318.3,93.0 L318.6,93.5 L319.0,94.3 L319.4,95.0 L319.6,95.5 L320.0,96.1 L320.5,97.0 L320.8,97.5 L321.1,98.0 L321.5,98.7 L322.0,99.5 L322.3,100.0 L322.6,100.5 L323.0,101.3 L323.3,102.0 L323.5,102.5 L323.9,103.5 L324.0,104.0 L324.3,105.0 L324.4,106.0 L324.4,107.0 L324.3,108.0 L324.2,109.0 L324.2,110.0 L324.3,111.0 L324.5,111.7 L324.8,112.5 L325.0,113.1 L325.3,114.0 L325.5,114.5 L325.7,115.5 L325.7,116.5 L325.5,117.3 L325.2,118.0 L324.8,118.5 L324.4,119.0 L323.8,119.5 L323.2,120.0 L322.5,120.4 L322.0,120.7 L321.5,121.0 L320.5,121.5 L320.0,121.7 L319.2,122.0 L318.5,122.3 L317.7,122.5 L317.0,122.7 L316.0,123.0 L315.5,123.1 L314.5,123.4 L313.8,123.5 L313.0,123.7 L312.0,123.9 L311.0,124.0 L310.5,124.1 L309.5,124.2 L308.5,124.3 L307.5,124.4 L306.5,124.5 L306.0,124.5Z" fill="#fcdccd" fill-rule="evenodd"/>
<path d="M306.0,123.0 L305.0,123.1 L304.0,123.1 L303.0,123.2 L302.0,123.2 L301.0,123.2 L300.0,123.1 L299.0,123.1 L298.0,123.0 L297.5,123.0 L296.5,122.9 L295.5,122.8 L294.5,122.6 L293.8,122.5 L293.0,122.4 L292.0,122.2 L291.2,122.0 L290.5,121.8 L289.5,121.5 L289.0,121.4 L288.0,121.0 L287.5,120.9 L286.7,120.5 L286.0,120.2 L285.5,119.9 L284.8,119.5 L284.2,119.0 L283.6,118.5 L283.1,118.0 L282.7,117.5 L282.3,117.0 L281.9,116.5 L281.3,116.0 L280.5,115.5 L280.0,115.2 L279.5,115.0 L278.6,114.5 L278.0,114.2 L277.5,113.9 L276.7,113.5 L276.0,113.0 L275.5,112.7 L275.0,112.3 L274.5,111.9 L274.0,111.3 L273.5,110.7 L273.1,110.0 L272.9,109.5 L272.7,108.5 L272.8,107.5 L273.0,107.0 L273.5,106.0 L273.9,105.5 L274.4,105.0 L274.9,104.5 L275.5,104.1 L276.0,103.7 L276.5,103.5 L277.4,103.0 L278.0,102.7 L278.6,102.5 L279.5,102.2 L280.2,102.0 L281.0,101.8 L282.0,101.6 L282.5,101.5 L283.5,101.3 L284.5,101.1 L285.5,101.0 L286.0,101.0 L287.0,100.8 L288.0,100.6 L288.6,100.5 L289.5,100.2 L290.0,100.0 L290.7,99.5 L291.2,99.0 L291.6,98.5 L292.0,97.9 L292.5,97.2 L292.9,96.5 L293.3,96.0 L293.6,95.5 L294.0,95.0 L294.5,94.3 L295.0,93.6 L295.5,93.0 L295.9,92.5 L296.4,92.0 L296.9,91.5 L297.4,91.0 L298.0,90.5 L298.5,90.2 L299.0,89.9 L299.8,89.5 L300.5,89.2 L301.2,89.0 L302.0,88.9 L303.0,88.8 L304.0,88.9 L304.6,89.0 L305.5,89.2 L306.1,89.5 L307.0,89.9 L307.5,90.2 L308.0,90.5 L308.6,91.0 L309.2,91.5 L309.7,92.0 L310.3,92.5 L310.7,93.0 L311.2,93.5 L311.6,94.0 L312.1,94.5 L312.5,95.0 L313.0,95.6 L313.5,96.2 L314.0,96.8 L314.5,97.4 L315.0,98.0 L315.3,98.5 L315.7,99.0 L316.1,99.5 L316.5,100.0 L317.0,100.8 L317.4,101.5 L317.7,102.0 L318.0,102.5 L318.4,103.5 L318.6,104.0 L318.8,105.0 L318.9,106.0 L318.9,107.0 L318.9,108.0 L318.8,109.0 L318.9,110.0 L319.0,110.5 L319.4,111.5 L319.7,112.0 L320.0,112.5 L320.5,113.2 L321.0,114.0 L321.2,114.5 L321.5,115.3 L321.6,116.0 L321.5,117.0 L321.3,117.5 L321.0,118.0 L320.5,118.6 L320.0,119.1 L319.4,119.5 L318.6,120.0 L318.0,120.3 L317.5,120.5 L316.5,120.9 L316.0,121.1 L315.0,121.5 L314.5,121.6 L313.5,121.9 L313.0,122.0 L312.0,122.2 L311.0,122.4 L310.5,122.5 L309.5,122.7 L308.5,122.8 L307.5,122.9 L306.5,123.0 L306.0,123.0ZM262.5,113.6 L261.5,113.8 L260.5,113.8 L259.5,113.8 L258.5,113.7 L257.7,113.5 L257.0,113.3 L256.4,113.0 L255.5,112.5 L255.0,112.2 L254.5,111.7 L254.0,111.1 L253.6,110.5 L253.3,110.0 L253.1,109.0 L253.0,108.0 L253.2,107.0 L253.5,106.4 L254.0,105.6 L254.5,105.0 L255.0,104.6 L255.5,104.2 L256.0,103.9 L256.9,103.5 L257.5,103.3 L258.5,103.0 L259.0,102.9 L260.0,102.8 L261.0,102.7 L262.0,102.8 L263.0,103.0 L263.5,103.1 L264.5,103.4 L265.0,103.6 L265.7,104.0 L266.4,104.5 L267.0,105.0 L267.4,105.5 L267.8,106.0 L268.1,106.5 L268.4,107.5 L268.5,108.5 L268.2,109.5 L267.9,110.0 L267.5,110.6 L267.0,111.2 L266.5,111.7 L266.0,112.0 L265.3,112.5 L264.5,112.9 L264.0,113.1 L263.0,113.4 L262.5,113.6Z" fill="#f9c3ab" fill-rule="evenodd"/>
<path d="M308.5,121.5 L307.5,121.7 L306.5,121.8 L305.5,121.9 L304.5,121.9 L303.5,122.0 L302.5,122.0 L301.5,122.0 L300.5,121.9 L299.5,121.9 L298.5,121.8 L297.5,121.7 L296.5,121.6 L295.7,121.5 L295.0,121.4 L294.0,121.2 L293.1,121.0 L292.5,120.9 L291.5,120.6 L291.0,120.4 L290.0,120.0 L289.5,119.8 L288.8,119.5 L288.0,119.0 L287.5,118.7 L287.0,118.2 L286.5,117.7 L286.0,117.0 L285.6,116.5 L285.0,116.0 L284.5,115.7 L284.0,115.4 L283.0,115.0 L282.5,114.9 L281.5,114.5 L281.0,114.4 L280.1,114.0 L279.5,113.8 L278.8,113.5 L278.0,113.1 L277.5,112.9 L276.9,112.5 L276.2,112.0 L275.6,111.5 L275.1,111.0 L274.7,110.5 L274.4,110.0 L274.0,109.0 L274.0,108.5 L274.0,108.0 L274.2,107.0 L274.5,106.5 L275.0,105.8 L275.5,105.3 L276.0,104.8 L276.5,104.5 L277.3,104.0 L278.0,103.6 L278.5,103.4 L279.5,103.0 L280.0,102.9 L281.0,102.6 L281.6,102.5 L282.5,102.3 L283.5,102.2 L284.5,102.1 L285.5,102.1 L286.5,102.0 L287.5,102.1 L288.5,102.1 L289.5,102.1 L290.5,102.2 L291.5,102.3 L292.5,102.3 L293.5,102.3 L294.5,102.1 L295.0,101.9 L295.7,101.5 L296.4,101.0 L297.0,100.5 L297.5,100.0 L298.0,99.6 L298.5,99.3 L299.0,98.9 L299.8,98.5 L300.5,98.1 L301.0,97.9 L302.0,97.7 L303.0,97.5 L304.0,97.5 L305.0,97.6 L306.0,97.9 L306.5,98.1 L307.5,98.5 L308.0,98.8 L308.5,99.0 L309.2,99.5 L309.9,100.0 L310.5,100.5 L311.0,101.0 L311.5,101.5 L311.9,102.0 L312.3,102.5 L312.7,103.0 L313.0,103.5 L313.4,104.5 L313.6,105.0 L313.8,106.0 L313.8,107.0 L313.7,108.0 L313.6,109.0 L313.8,110.0 L314.0,110.5 L314.5,111.1 L315.0,111.7 L315.5,112.2 L316.0,112.7 L316.5,113.2 L317.0,113.8 L317.5,114.5 L317.8,115.0 L318.0,115.5 L318.1,116.5 L318.0,117.1 L317.5,118.0 L317.0,118.5 L316.5,118.9 L316.0,119.2 L315.5,119.5 L314.5,120.0 L314.0,120.2 L313.0,120.5 L312.5,120.7 L311.5,120.9 L311.0,121.0 L310.0,121.3 L309.0,121.4 L308.5,121.5ZM263.0,112.6 L262.0,112.8 L261.0,112.9 L260.0,112.9 L259.0,112.8 L258.0,112.6 L257.5,112.4 L256.6,112.0 L256.0,111.6 L255.5,111.3 L255.0,110.8 L254.5,110.1 L254.2,109.5 L254.0,108.7 L253.9,108.0 L254.0,107.5 L254.3,106.5 L254.6,106.0 L255.1,105.5 L255.6,105.0 L256.3,104.5 L257.0,104.1 L257.5,103.9 L258.5,103.6 L259.0,103.5 L260.0,103.3 L261.0,103.3 L262.0,103.4 L262.7,103.5 L263.5,103.7 L264.3,104.0 L265.0,104.3 L265.5,104.7 L266.0,105.0 L266.5,105.5 L267.0,106.2 L267.4,107.0 L267.5,107.6 L267.5,108.5 L267.4,109.0 L267.0,109.8 L266.5,110.5 L266.0,111.0 L265.5,111.4 L265.0,111.8 L264.5,112.0 L263.5,112.4 L263.0,112.6Z" fill="#f6a487" fill-rule="evenodd"/>
<path d="M305.5,120.5 L304.5,120.6 L303.5,120.6 L302.5,120.7 L301.5,120.7 L300.5,120.6 L299.5,120.6 L298.7,120.5 L298.0,120.4 L297.0,120.3 L296.0,120.1 L295.5,120.0 L294.5,119.7 L293.7,119.5 L293.0,119.2 L292.5,119.0 L291.6,118.5 L291.0,118.1 L290.5,117.6 L290.1,117.0 L289.9,116.5 L289.5,115.5 L289.0,115.0 L288.5,114.8 L287.5,114.5 L287.0,114.5 L286.0,114.3 L285.0,114.2 L284.0,114.1 L283.5,114.0 L282.5,113.8 L281.5,113.5 L281.0,113.4 L280.0,113.1 L279.5,112.9 L278.7,112.5 L278.0,112.1 L277.5,111.8 L277.0,111.5 L276.5,111.0 L276.0,110.5 L275.5,109.7 L275.2,109.0 L275.2,108.0 L275.4,107.0 L275.7,106.5 L276.1,106.0 L276.6,105.5 L277.2,105.0 L278.0,104.5 L278.5,104.3 L279.1,104.0 L280.0,103.7 L280.6,103.5 L281.5,103.3 L282.5,103.1 L283.2,103.0 L284.0,102.9 L285.0,102.9 L286.0,102.9 L287.0,102.9 L287.5,103.0 L288.5,103.1 L289.5,103.3 L290.3,103.5 L291.0,103.7 L291.9,104.0 L292.5,104.2 L293.1,104.5 L294.0,105.0 L294.5,105.3 L295.0,105.7 L295.5,106.2 L296.0,106.9 L296.3,107.5 L296.4,108.5 L296.4,109.5 L296.5,110.2 L297.0,110.9 L297.5,111.0 L298.5,111.0 L299.1,111.0 L300.0,110.9 L301.0,110.7 L301.5,110.5 L301.5,109.8 L301.0,109.1 L300.6,108.5 L300.3,108.0 L300.0,107.0 L300.2,106.0 L300.5,105.4 L301.0,104.8 L301.5,104.4 L302.1,104.0 L303.0,103.6 L303.5,103.4 L304.5,103.2 L305.5,103.2 L306.5,103.2 L307.5,103.4 L308.0,103.5 L309.0,103.9 L309.5,104.2 L310.0,104.6 L310.5,105.1 L311.0,105.9 L311.2,106.5 L311.1,107.5 L310.9,108.0 L310.5,108.5 L310.0,109.1 L309.5,109.5 L308.7,110.0 L308.0,110.5 L307.6,111.0 L308.2,111.5 L309.0,111.9 L309.5,112.1 L310.2,112.5 L311.0,112.9 L311.5,113.2 L312.0,113.5 L312.7,114.0 L313.3,114.5 L313.8,115.0 L314.1,115.5 L314.3,116.5 L314.0,117.3 L313.5,117.9 L313.0,118.3 L312.5,118.7 L311.8,119.0 L311.0,119.3 L310.5,119.5 L309.5,119.8 L308.7,120.0 L308.0,120.2 L307.0,120.3 L306.0,120.5 L305.5,120.5ZM262.5,112.0 L261.5,112.2 L260.5,112.2 L259.5,112.2 L258.7,112.0 L258.0,111.8 L257.3,111.5 L256.5,111.0 L256.0,110.6 L255.5,110.0 L255.1,109.5 L254.9,109.0 L254.8,108.0 L255.0,107.0 L255.2,106.5 L255.6,106.0 L256.0,105.5 L256.7,105.0 L257.5,104.5 L258.0,104.3 L259.0,104.0 L259.5,103.9 L260.5,103.8 L261.5,103.9 L262.4,104.0 L263.0,104.1 L264.0,104.5 L264.5,104.8 L265.0,105.1 L265.5,105.5 L266.0,106.0 L266.5,106.9 L266.7,107.5 L266.7,108.5 L266.5,109.0 L266.0,109.9 L265.5,110.5 L265.0,110.9 L264.5,111.2 L264.0,111.5 L263.0,111.9 L262.5,112.0Z" fill="#f38466" fill-rule="evenodd"/>
<path d="M289.0,113.0 L288.0,113.2 L287.0,113.3 L286.0,113.4 L285.0,113.3 L284.0,113.3 L283.0,113.1 L282.4,113.0 L281.5,112.8 L280.5,112.5 L280.0,112.3 L279.3,112.0 L278.5,111.6 L278.0,111.3 L277.5,110.9 L277.0,110.3 L276.5,109.6 L276.2,109.0 L276.2,108.0 L276.5,107.0 L276.8,106.5 L277.2,106.0 L277.8,105.5 L278.5,105.1 L279.0,104.8 L279.6,104.5 L280.5,104.2 L281.1,104.0 L282.0,103.8 L283.0,103.6 L284.0,103.6 L285.0,103.5 L286.0,103.6 L287.0,103.6 L288.0,103.8 L288.8,104.0 L289.5,104.2 L290.4,104.5 L291.0,104.8 L291.5,105.0 L292.2,105.5 L292.8,106.0 L293.3,106.5 L293.6,107.0 L293.9,108.0 L293.9,109.0 L293.6,110.0 L293.3,110.5 L292.9,111.0 L292.4,111.5 L291.7,112.0 L291.0,112.4 L290.5,112.6 L289.5,112.9 L289.0,113.0ZM262.0,111.6 L261.0,111.7 L260.0,111.6 L259.1,111.5 L258.5,111.3 L257.7,111.0 L257.0,110.6 L256.5,110.2 L256.0,109.5 L255.7,109.0 L255.5,108.0 L255.7,107.0 L256.0,106.5 L256.5,105.9 L257.0,105.5 L257.8,105.0 L258.5,104.7 L259.2,104.5 L260.0,104.4 L261.0,104.3 L262.0,104.4 L262.5,104.5 L263.5,104.9 L264.0,105.1 L264.6,105.5 L265.2,106.0 L265.6,106.5 L265.9,107.5 L265.9,108.5 L265.5,109.5 L265.1,110.0 L264.5,110.5 L264.0,110.9 L263.5,111.1 L262.5,111.4 L262.0,111.6ZM306.0,109.5 L305.4,109.5 L304.5,109.4 L303.5,109.0 L303.0,108.8 L302.5,108.4 L302.0,107.8 L301.7,107.0 L301.9,106.0 L302.2,105.5 L302.8,105.0 L303.5,104.6 L304.0,104.4 L305.0,104.2 L306.0,104.1 L307.0,104.2 L308.0,104.5 L308.5,104.7 L309.0,105.0 L309.5,105.5 L310.0,106.4 L310.0,107.0 L309.9,107.5 L309.5,108.1 L309.0,108.6 L308.3,109.0 L307.5,109.3 L306.5,109.5 L306.0,109.5ZM305.0,119.1 L304.0,119.2 L303.0,119.2 L302.0,119.2 L301.0,119.2 L300.0,119.1 L299.0,119.0 L298.5,118.9 L297.5,118.7 L296.8,118.5 L296.0,118.2 L295.5,117.9 L294.9,117.5 L294.5,117.0 L294.5,116.0 L294.8,115.5 L295.5,115.0 L296.0,114.7 L296.5,114.5 L297.5,114.2 L298.0,114.0 L299.0,113.8 L300.0,113.6 L301.0,113.5 L301.5,113.5 L302.5,113.4 L303.5,113.5 L304.1,113.5 L305.0,113.6 L306.0,113.8 L306.8,114.0 L307.5,114.2 L308.2,114.5 L309.0,115.0 L309.5,115.4 L310.0,116.0 L310.1,116.5 L309.9,117.0 L309.5,117.5 L308.8,118.0 L308.0,118.3 L307.5,118.5 L306.5,118.8 L305.5,119.0 L305.0,119.1Z" fill="#ef6549" fill-rule="evenodd"/>
<path d="M286.5,112.5 L285.5,112.6 L284.5,112.6 L283.6,112.5 L283.0,112.4 L282.0,112.2 L281.1,112.0 L280.5,111.8 L279.9,111.5 L279.0,111.0 L278.5,110.7 L278.0,110.2 L277.5,109.5 L277.3,109.0 L277.2,108.0 L277.5,107.1 L277.9,106.5 L278.5,106.0 L279.0,105.6 L279.5,105.3 L280.2,105.0 L281.0,104.7 L281.7,104.5 L282.5,104.3 L283.5,104.2 L284.5,104.2 L285.5,104.2 L286.5,104.3 L287.5,104.4 L288.0,104.5 L289.0,104.8 L289.5,105.1 L290.4,105.5 L291.0,105.9 L291.5,106.4 L292.0,107.0 L292.3,107.5 L292.4,108.5 L292.1,109.5 L291.8,110.0 L291.4,110.5 L290.9,111.0 L290.1,111.5 L289.5,111.8 L288.9,112.0 L288.0,112.3 L287.0,112.5 L286.5,112.5ZM261.5,111.1 L260.5,111.1 L259.5,111.0 L259.0,110.9 L258.1,110.5 L257.5,110.2 L257.0,109.7 L256.5,109.0 L256.3,108.5 L256.3,107.5 L256.5,107.0 L257.0,106.3 L257.5,105.8 L258.0,105.5 L259.0,105.1 L259.5,104.9 L260.5,104.8 L261.5,104.9 L262.3,105.0 L263.0,105.2 L263.6,105.5 L264.3,106.0 L264.8,106.5 L265.1,107.0 L265.3,108.0 L265.0,109.0 L264.7,109.5 L264.2,110.0 L263.5,110.5 L263.0,110.7 L262.0,111.0 L261.5,111.1ZM307.5,108.6 L306.5,108.8 L305.5,108.8 L304.5,108.6 L304.0,108.4 L303.4,108.0 L302.9,107.5 L302.8,106.5 L303.0,106.0 L303.5,105.5 L304.5,105.0 L305.0,104.9 L306.0,104.8 L307.0,104.9 L307.5,105.0 L308.4,105.5 L308.9,106.0 L309.1,106.5 L309.0,107.3 L308.5,108.0 L308.0,108.3 L307.5,108.6Z" fill="#e94532" fill-rule="evenodd"/>
<path d="M287.5,111.6 L286.5,111.8 L285.5,111.9 L284.5,111.9 L283.5,111.8 L282.5,111.7 L281.8,111.5 L281.0,111.2 L280.5,111.0 L279.6,110.5 L279.0,110.0 L278.6,109.5 L278.4,109.0 L278.3,108.0 L278.5,107.4 L279.0,106.7 L279.5,106.2 L280.0,105.9 L280.8,105.5 L281.5,105.2 L282.4,105.0 L283.0,104.9 L284.0,104.8 L285.0,104.8 L286.0,104.9 L286.8,105.0 L287.5,105.2 L288.5,105.5 L289.0,105.7 L289.5,106.0 L290.1,106.5 L290.6,107.0 L291.0,107.9 L291.0,108.5 L290.9,109.0 L290.5,109.8 L290.0,110.3 L289.5,110.7 L289.0,111.0 L288.0,111.4 L287.5,111.6ZM261.5,110.5 L260.5,110.6 L259.9,110.5 L259.0,110.3 L258.4,110.0 L257.7,109.5 L257.3,109.0 L257.0,108.0 L257.3,107.0 L257.7,106.5 L258.3,106.0 L259.0,105.7 L259.5,105.5 L260.5,105.3 L261.5,105.4 L262.1,105.5 L263.0,105.9 L263.5,106.2 L264.0,106.6 L264.5,107.5 L264.5,108.0 L264.4,108.5 L264.0,109.2 L263.5,109.7 L263.0,110.0 L262.0,110.4 L261.5,110.5ZM307.0,108.0 L306.0,108.2 L305.0,108.1 L304.5,107.9 L304.0,107.5 L303.8,106.5 L304.1,106.0 L305.0,105.5 L305.5,105.4 L306.5,105.4 L307.0,105.6 L307.8,106.0 L308.1,106.5 L308.0,107.3 L307.5,107.8 L307.0,108.0Z" fill="#e02d22" fill-rule="evenodd"/>
<path d="M286.5,111.1 L285.5,111.2 L284.5,111.3 L283.5,111.2 L282.5,111.0 L282.0,110.9 L281.1,110.5 L280.5,110.1 L280.0,109.7 L279.5,109.1 L279.3,108.5 L279.5,107.5 L279.9,107.0 L280.4,106.5 L281.0,106.2 L281.5,105.9 L282.5,105.6 L283.2,105.5 L284.0,105.4 L285.0,105.4 L285.9,105.5 L286.5,105.6 L287.5,105.9 L288.0,106.1 L288.7,106.5 L289.3,107.0 L289.6,107.5 L289.8,108.5 L289.5,109.3 L289.0,109.9 L288.5,110.3 L288.0,110.6 L287.0,110.9 L286.5,111.1ZM261.0,110.0 L260.5,110.0 L259.5,109.8 L258.8,109.5 L258.2,109.0 L257.9,108.5 L257.9,107.5 L258.2,107.0 L258.7,106.5 L259.5,106.1 L260.0,106.0 L261.0,105.9 L261.7,106.0 L262.5,106.3 L263.0,106.6 L263.5,107.2 L263.7,108.0 L263.5,108.7 L263.0,109.3 L262.5,109.6 L261.5,109.9 L261.0,110.0ZM307.0,107.0 L306.0,107.5 L305.0,107.1 L305.0,106.5 L305.5,106.2 L306.5,106.2 L307.0,106.9 L307.0,107.0Z" fill="#cc1d1a" fill-rule="evenodd"/>
<path d="M285.0,110.5 L284.0,110.5 L283.5,110.4 L282.5,110.2 L282.0,110.0 L281.2,109.5 L280.7,109.0 L280.6,108.0 L281.0,107.3 L281.5,106.9 L282.2,106.5 L283.0,106.3 L284.0,106.1 L285.0,106.1 L286.0,106.3 L286.8,106.5 L287.5,106.9 L288.0,107.3 L288.4,108.0 L288.3,109.0 L287.9,109.5 L287.1,110.0 L286.5,110.2 L285.5,110.5 L285.0,110.5ZM262.0,109.0 L261.0,109.3 L260.0,109.2 L259.5,109.0 L259.0,108.5 L258.9,107.5 L259.4,107.0 L260.0,106.7 L261.0,106.6 L262.0,106.9 L262.5,107.3 L262.7,108.0 L262.5,108.6 L262.0,109.0Z" fill="#b31414" fill-rule="evenodd"/>
<path d="M285.5,109.6 L284.5,109.8 L283.5,109.6 L283.0,109.5 L282.2,109.0 L281.9,108.5 L282.0,107.9 L282.5,107.4 L283.3,107.0 L284.0,106.9 L285.0,106.9 L285.6,107.0 L286.5,107.4 L287.0,108.0 L287.1,108.5 L286.8,109.0 L286.0,109.5 L285.5,109.6ZM261.0,108.1 L260.4,108.0 L261.0,107.8 L261.0,108.1Z" fill="#961018" fill-rule="evenodd"/>
</g></g>
<line x1="269.5" y1="34.5" x2="269.5" y2="133.5" stroke="#4a80b4" stroke-width="1.0" stroke-dasharray="2.6 2.0"/>
<line x1="232.5" y1="110.2" x2="334.5" y2="110.2" stroke="#4a80b4" stroke-width="1.0" stroke-dasharray="2.6 2.0"/>
<text x="238.90" y="52.70" font-size="7.6" fill="#222" stroke="#222" stroke-width="0.2">9.15%</text>
<text x="300.30" y="52.70" font-size="7.6" fill="#222" stroke="#222" stroke-width="0.2">57.92%</text>
<text x="238.90" y="130.70" font-size="7.6" fill="#222" stroke="#222" stroke-width="0.2">4.45%</text>
<text x="300.30" y="130.70" font-size="7.6" fill="#222" stroke="#222" stroke-width="0.2">28.47%</text>
<rect x="232.5" y="34.5" width="102" height="99" fill="none" stroke="#1e1e1e" stroke-width="1.05"/>
<g clip-path="url(#c21)"><g filter="url(#bl)">
<path d="M239,226 L239.5,190 C240,183 243,179.5 248,179.5 C256,179.5 262,181 268,185 C276,190 282,195 290,200 C298,205 304,209 307,213 L309,226 Z" fill="#fdeee8" filter="url(#bl2)"/>
<path d="M251.5,231.0 L250.5,231.0 L249.5,231.0 L249.0,231.0 L248.0,231.0 L247.0,230.9 L246.0,230.8 L245.0,230.7 L244.0,230.5 L243.5,230.4 L242.5,230.3 L241.5,230.0 L241.0,229.9 L240.0,229.7 L239.5,229.5 L238.5,229.2 L238.0,229.0 L237.0,228.6 L236.5,228.4 L235.6,228.0 L235.0,227.7 L234.5,227.5 L233.7,227.0 L233.0,226.6 L232.5,226.2 L232.4,225.5 L232.2,224.5 L232.2,223.5 L232.1,222.5 L232.1,221.5 L232.1,220.5 L232.1,219.5 L232.1,218.5 L232.1,217.5 L232.1,216.5 L232.2,215.5 L232.2,214.5 L232.3,213.5 L232.3,212.5 L232.4,211.5 L232.4,210.5 L232.4,209.5 L232.4,208.5 L232.4,207.5 L232.4,206.5 L232.5,205.5 L232.5,204.5 L232.5,203.8 L232.8,203.0 L233.0,202.3 L233.3,201.5 L233.5,200.8 L233.8,200.0 L234.0,199.3 L234.3,198.5 L234.5,197.8 L234.8,197.0 L235.0,196.4 L235.3,195.5 L235.5,195.0 L236.0,194.0 L236.2,193.5 L236.5,192.8 L236.9,192.0 L237.2,191.5 L237.5,191.0 L238.0,190.1 L238.4,189.5 L238.8,189.0 L239.2,188.5 L239.6,188.0 L240.1,187.5 L240.5,187.0 L241.1,186.5 L241.6,186.0 L242.3,185.5 L243.0,185.0 L243.5,184.7 L244.0,184.4 L244.8,184.0 L245.5,183.7 L246.0,183.5 L247.0,183.2 L248.0,183.0 L248.5,182.9 L249.5,182.8 L250.5,182.8 L251.5,182.9 L252.0,183.0 L253.0,183.2 L254.0,183.5 L254.5,183.7 L255.2,184.0 L256.0,184.4 L256.5,184.7 L257.0,185.0 L257.7,185.5 L258.4,186.0 L259.0,186.5 L259.5,187.0 L260.0,187.5 L260.4,188.0 L260.8,188.5 L261.2,189.0 L261.6,189.5 L262.0,190.0 L262.5,190.8 L263.0,191.5 L263.3,192.0 L263.6,192.5 L264.0,193.2 L264.5,194.0 L264.8,194.5 L265.1,195.0 L265.5,195.5 L266.0,196.2 L266.5,196.8 L267.0,197.2 L267.5,197.7 L268.0,198.1 L268.7,198.5 L269.5,199.0 L270.0,199.2 L270.7,199.5 L271.5,199.8 L272.0,200.0 L273.0,200.4 L273.5,200.5 L274.5,200.8 L275.3,201.0 L276.0,201.2 L277.0,201.4 L277.6,201.5 L278.5,201.6 L279.5,201.8 L280.5,201.9 L281.0,202.0 L282.0,202.1 L283.0,202.2 L284.0,202.4 L285.0,202.5 L285.5,202.6 L286.5,202.7 L287.5,202.8 L288.5,203.0 L289.0,203.1 L290.0,203.2 L291.0,203.4 L291.5,203.5 L292.5,203.7 L293.5,204.0 L294.0,204.1 L295.0,204.3 L295.6,204.5 L296.5,204.8 L297.2,205.0 L298.0,205.3 L298.6,205.5 L299.5,205.8 L300.0,206.1 L301.0,206.5 L301.5,206.8 L302.0,207.0 L302.8,207.5 L303.5,208.0 L304.0,208.3 L304.5,208.7 L305.0,209.2 L305.5,209.7 L306.0,210.4 L306.3,211.0 L306.5,211.5 L306.7,212.5 L306.6,213.5 L306.5,214.0 L306.0,215.0 L305.6,215.5 L305.2,216.0 L304.7,216.5 L304.1,217.0 L303.5,217.4 L303.0,217.8 L302.5,218.1 L301.7,218.5 L301.0,218.9 L300.5,219.1 L299.6,219.5 L299.0,219.8 L298.4,220.0 L297.5,220.3 L296.9,220.5 L296.0,220.8 L295.3,221.0 L294.5,221.2 L293.5,221.5 L293.0,221.6 L292.0,221.9 L291.3,222.0 L290.5,222.2 L289.5,222.4 L288.8,222.5 L288.0,222.6 L287.0,222.8 L286.0,222.9 L285.5,223.0 L284.5,223.1 L283.5,223.3 L282.5,223.4 L281.5,223.5 L281.0,223.5 L280.0,223.7 L279.0,223.8 L278.0,223.9 L277.0,224.0 L276.5,224.0 L275.5,224.2 L274.5,224.5 L274.0,224.7 L273.2,225.0 L272.5,225.3 L272.0,225.5 L271.1,226.0 L270.5,226.3 L270.0,226.5 L269.0,227.0 L268.5,227.3 L267.9,227.5 L267.0,227.9 L266.5,228.1 L265.5,228.5 L265.0,228.7 L264.0,229.0 L263.5,229.2 L262.5,229.4 L262.0,229.6 L261.0,229.8 L260.2,230.0 L259.5,230.2 L258.5,230.4 L257.5,230.5 L257.0,230.6 L256.0,230.7 L255.0,230.8 L254.0,230.9 L253.0,231.0 L252.0,231.0 L251.5,231.0Z" fill="#fdeee6" fill-rule="evenodd"/>
<path d="M257.0,229.5 L256.0,229.7 L255.0,229.8 L254.0,229.9 L253.0,229.9 L252.0,229.9 L251.0,229.9 L250.0,229.9 L249.0,229.9 L248.0,229.8 L247.0,229.8 L246.0,229.6 L245.1,229.5 L244.5,229.4 L243.5,229.2 L242.5,229.0 L242.0,228.9 L241.0,228.6 L240.5,228.5 L239.5,228.2 L239.0,228.0 L238.0,227.6 L237.5,227.4 L236.7,227.0 L236.0,226.6 L235.5,226.4 L235.0,226.0 L234.2,225.5 L233.6,225.0 L233.1,224.5 L232.6,224.0 L232.4,223.5 L232.3,222.5 L232.3,221.5 L232.2,220.5 L232.2,219.5 L232.3,218.5 L232.3,217.5 L232.4,216.5 L232.5,215.5 L232.7,215.0 L233.1,214.5 L233.6,214.0 L234.1,213.5 L234.6,213.0 L235.2,212.5 L235.8,212.0 L236.4,211.5 L237.0,211.0 L237.5,210.5 L238.0,210.0 L238.4,209.5 L238.7,209.0 L239.0,208.1 L239.2,207.5 L239.5,206.5 L239.6,206.0 L240.0,205.0 L240.2,204.5 L240.5,203.7 L240.8,203.0 L241.1,202.5 L241.5,201.6 L241.8,201.0 L242.0,200.5 L242.5,199.7 L242.9,199.0 L243.2,198.5 L243.6,198.0 L244.0,197.4 L244.5,196.8 L245.0,196.3 L245.5,195.8 L246.0,195.4 L246.6,195.0 L247.5,194.5 L248.0,194.3 L249.0,194.0 L249.5,194.0 L250.5,194.0 L251.0,194.0 L252.0,194.2 L252.7,194.5 L253.5,194.9 L254.0,195.2 L254.5,195.5 L255.1,196.0 L255.7,196.5 L256.3,197.0 L256.9,197.5 L257.5,198.0 L258.0,198.3 L258.5,198.7 L259.0,199.0 L259.9,199.5 L260.5,199.8 L261.0,200.0 L262.0,200.4 L262.5,200.6 L263.5,200.9 L264.0,201.0 L265.0,201.3 L265.5,201.5 L266.5,201.8 L267.2,202.0 L268.0,202.2 L268.8,202.5 L269.5,202.7 L270.4,203.0 L271.0,203.2 L272.0,203.5 L272.5,203.6 L273.5,203.9 L274.0,204.1 L275.0,204.3 L275.7,204.5 L276.5,204.6 L277.5,204.8 L278.5,204.9 L279.0,205.0 L280.0,205.1 L281.0,205.2 L282.0,205.3 L283.0,205.4 L284.0,205.5 L284.5,205.5 L285.5,205.7 L286.5,205.8 L287.4,206.0 L288.0,206.1 L289.0,206.3 L289.7,206.5 L290.5,206.7 L291.5,207.0 L292.0,207.2 L292.8,207.5 L293.5,207.8 L294.0,208.0 L294.8,208.5 L295.5,208.9 L296.0,209.3 L296.5,209.8 L297.0,210.5 L297.2,211.0 L297.4,212.0 L297.1,213.0 L296.8,213.5 L296.4,214.0 L295.9,214.5 L295.2,215.0 L294.5,215.5 L294.0,215.7 L293.4,216.0 L292.5,216.4 L292.0,216.6 L291.0,216.9 L290.5,217.1 L289.5,217.4 L289.0,217.5 L288.0,217.8 L287.0,218.0 L286.5,218.0 L285.5,218.2 L284.5,218.4 L283.6,218.5 L283.0,218.6 L282.0,218.7 L281.0,218.8 L280.0,218.9 L279.5,219.0 L278.5,219.2 L277.5,219.3 L276.8,219.5 L276.0,219.8 L275.5,220.0 L274.7,220.5 L274.1,221.0 L273.5,221.5 L273.0,222.0 L272.5,222.5 L272.0,223.0 L271.5,223.5 L271.0,223.9 L270.5,224.3 L270.0,224.7 L269.5,225.0 L268.8,225.5 L268.0,226.0 L267.5,226.3 L267.0,226.5 L266.0,227.0 L265.5,227.2 L264.8,227.5 L264.0,227.8 L263.4,228.0 L262.5,228.3 L261.8,228.5 L261.0,228.7 L260.0,229.0 L259.5,229.1 L258.5,229.3 L257.5,229.4 L257.0,229.5Z" fill="#fcdccd" fill-rule="evenodd"/>
<path d="M254.5,229.0 L253.5,229.1 L252.5,229.2 L251.5,229.2 L250.5,229.2 L249.5,229.1 L248.5,229.1 L247.6,229.0 L247.0,228.9 L246.0,228.8 L245.0,228.7 L244.2,228.5 L243.5,228.4 L242.5,228.1 L242.0,228.0 L241.0,227.7 L240.4,227.5 L239.5,227.2 L239.0,227.0 L238.0,226.5 L237.5,226.3 L237.0,226.0 L236.2,225.5 L235.5,225.0 L235.0,224.6 L234.5,224.2 L234.0,223.6 L233.5,223.0 L233.2,222.5 L232.9,222.0 L232.5,221.0 L232.5,220.5 L232.5,219.5 L232.5,218.6 L232.7,218.0 L233.0,217.2 L233.4,216.5 L233.7,216.0 L234.1,215.5 L234.6,215.0 L235.1,214.5 L235.7,214.0 L236.4,213.5 L237.0,213.0 L237.5,212.7 L238.0,212.4 L238.7,212.0 L239.5,211.6 L240.0,211.3 L240.6,211.0 L241.5,210.5 L242.0,210.2 L242.5,210.0 L243.3,209.5 L244.0,209.0 L244.5,208.6 L245.0,208.1 L245.5,207.6 L246.0,207.0 L246.4,206.5 L246.9,206.0 L247.4,205.5 L248.0,205.1 L248.5,204.7 L249.0,204.4 L249.8,204.0 L250.5,203.7 L251.2,203.5 L252.0,203.3 L253.0,203.1 L253.5,203.0 L254.5,202.8 L255.5,202.8 L256.5,202.7 L257.5,202.8 L258.5,202.8 L259.5,202.9 L260.5,202.9 L261.0,203.0 L262.0,203.1 L263.0,203.3 L264.0,203.5 L264.5,203.6 L265.5,203.8 L266.4,204.0 L267.0,204.2 L268.0,204.4 L268.5,204.6 L269.5,204.9 L270.0,205.1 L271.0,205.4 L271.5,205.6 L272.5,205.9 L273.0,206.1 L274.0,206.3 L274.7,206.5 L275.5,206.7 L276.5,206.8 L277.5,206.9 L278.2,207.0 L279.0,207.1 L280.0,207.1 L281.0,207.2 L282.0,207.3 L283.0,207.4 L283.6,207.5 L284.5,207.6 L285.5,207.8 L286.4,208.0 L287.0,208.1 L288.0,208.4 L288.5,208.6 L289.4,209.0 L290.0,209.3 L290.5,209.6 L291.0,210.0 L291.5,210.6 L291.9,211.5 L291.7,212.5 L291.3,213.0 L290.8,213.5 L290.1,214.0 L289.5,214.3 L289.0,214.5 L288.0,214.9 L287.5,215.1 L286.5,215.4 L285.8,215.5 L285.0,215.7 L284.0,215.8 L283.0,216.0 L282.5,216.0 L281.5,216.1 L280.5,216.2 L279.5,216.3 L278.5,216.4 L277.8,216.5 L277.0,216.6 L276.0,216.8 L275.3,217.0 L274.5,217.3 L274.0,217.6 L273.5,218.0 L273.0,218.5 L272.5,219.3 L272.1,220.0 L271.8,220.5 L271.5,221.0 L271.0,221.7 L270.5,222.4 L270.0,222.9 L269.5,223.4 L269.0,223.9 L268.5,224.3 L268.0,224.7 L267.5,225.0 L266.7,225.5 L266.0,225.9 L265.5,226.2 L264.8,226.5 L264.0,226.9 L263.5,227.0 L262.5,227.4 L262.0,227.6 L261.0,227.9 L260.5,228.0 L259.5,228.3 L258.5,228.5 L258.0,228.6 L257.0,228.7 L256.0,228.9 L255.0,229.0 L254.5,229.0Z" fill="#f9c3ab" fill-rule="evenodd"/>
<path d="M253.0,228.5 L252.0,228.6 L251.0,228.6 L250.0,228.5 L249.3,228.5 L248.5,228.5 L247.5,228.4 L246.5,228.3 L245.5,228.1 L245.0,228.0 L244.0,227.8 L243.0,227.6 L242.5,227.4 L241.5,227.1 L241.0,227.0 L240.0,226.6 L239.5,226.4 L238.7,226.0 L238.0,225.6 L237.5,225.3 L237.0,225.0 L236.3,224.5 L235.7,224.0 L235.2,223.5 L234.8,223.0 L234.5,222.5 L234.0,221.6 L233.8,221.0 L233.6,220.0 L233.7,219.0 L233.9,218.0 L234.1,217.5 L234.5,216.9 L235.0,216.2 L235.5,215.6 L236.0,215.1 L236.5,214.6 L237.0,214.2 L237.5,213.9 L238.1,213.5 L238.9,213.0 L239.5,212.7 L240.0,212.4 L240.9,212.0 L241.5,211.7 L242.0,211.5 L243.0,211.1 L243.5,210.9 L244.4,210.5 L245.0,210.3 L245.6,210.0 L246.5,209.6 L247.0,209.4 L247.7,209.0 L248.5,208.5 L249.0,208.1 L249.5,207.7 L250.0,207.3 L250.5,207.0 L251.3,206.5 L252.0,206.1 L252.5,205.9 L253.5,205.5 L254.0,205.3 L255.0,205.1 L255.5,205.0 L256.5,204.8 L257.5,204.7 L258.5,204.6 L259.5,204.6 L260.5,204.6 L261.5,204.7 L262.5,204.8 L263.5,204.9 L264.0,205.0 L265.0,205.2 L266.0,205.5 L266.5,205.6 L267.5,205.9 L268.0,206.1 L269.0,206.4 L269.5,206.6 L270.5,207.0 L271.0,207.2 L271.9,207.5 L272.5,207.7 L273.4,208.0 L274.0,208.2 L275.0,208.4 L275.6,208.5 L276.5,208.6 L277.5,208.7 L278.5,208.8 L279.5,208.9 L280.5,209.0 L281.0,209.0 L282.0,209.2 L283.0,209.3 L283.8,209.5 L284.5,209.7 L285.4,210.0 L286.0,210.3 L286.5,210.7 L287.0,211.5 L286.5,212.5 L286.0,212.9 L285.5,213.2 L284.6,213.5 L284.0,213.7 L283.0,213.9 L282.5,214.0 L281.5,214.2 L280.5,214.3 L279.5,214.4 L278.5,214.4 L277.8,214.5 L277.0,214.6 L276.0,214.7 L275.0,214.9 L274.5,215.1 L273.5,215.4 L273.0,215.7 L272.5,216.1 L272.0,216.6 L271.5,217.4 L271.2,218.0 L271.0,218.6 L270.7,219.5 L270.5,220.0 L270.0,221.0 L269.7,221.5 L269.3,222.0 L268.9,222.5 L268.5,223.0 L268.0,223.5 L267.4,224.0 L266.7,224.5 L266.0,225.0 L265.5,225.3 L265.0,225.5 L264.1,226.0 L263.5,226.3 L262.9,226.5 L262.0,226.8 L261.5,227.0 L260.5,227.3 L259.8,227.5 L259.0,227.7 L258.0,227.9 L257.5,228.0 L256.5,228.2 L255.5,228.3 L254.5,228.4 L253.5,228.5 L253.0,228.5Z" fill="#f6a487" fill-rule="evenodd"/>
<path d="M256.5,227.5 L255.5,227.7 L254.5,227.8 L253.5,227.9 L252.5,227.9 L251.5,227.9 L250.5,227.9 L249.5,227.9 L248.5,227.8 L247.5,227.7 L246.5,227.6 L245.9,227.5 L245.0,227.3 L244.0,227.1 L243.5,227.0 L242.5,226.7 L241.9,226.5 L241.0,226.2 L240.5,226.0 L239.5,225.5 L239.0,225.2 L238.5,224.9 L237.8,224.5 L237.2,224.0 L236.6,223.5 L236.2,223.0 L235.8,222.5 L235.5,222.0 L235.0,221.0 L234.9,220.5 L234.9,219.5 L235.0,218.7 L235.2,218.0 L235.5,217.5 L236.0,216.7 L236.5,216.1 L237.0,215.6 L237.5,215.1 L238.0,214.7 L238.5,214.4 L239.1,214.0 L239.9,213.5 L240.5,213.2 L241.0,212.9 L242.0,212.5 L242.5,212.3 L243.2,212.0 L244.0,211.7 L244.6,211.5 L245.5,211.2 L246.0,211.0 L247.0,210.7 L247.5,210.5 L248.5,210.1 L249.0,209.9 L250.0,209.5 L250.5,209.3 L251.2,209.0 L252.0,208.5 L252.5,208.3 L253.0,208.0 L254.0,207.5 L254.5,207.3 L255.2,207.0 L256.0,206.7 L257.0,206.5 L257.5,206.4 L258.5,206.3 L259.5,206.2 L260.5,206.2 L261.5,206.2 L262.5,206.3 L263.5,206.4 L264.0,206.5 L265.0,206.8 L265.8,207.0 L266.5,207.2 L267.3,207.5 L268.0,207.8 L268.5,208.0 L269.5,208.5 L270.0,208.8 L270.5,209.1 L271.3,209.5 L272.0,210.0 L272.5,210.3 L273.0,210.8 L273.5,211.5 L273.0,212.5 L272.5,212.9 L272.0,213.4 L271.5,213.8 L271.0,214.3 L270.5,215.0 L270.2,215.5 L270.0,216.1 L269.8,217.0 L269.5,218.0 L269.4,218.5 L269.2,219.5 L269.0,220.0 L268.5,221.0 L268.2,221.5 L267.9,222.0 L267.4,222.5 L267.0,223.0 L266.4,223.5 L265.8,224.0 L265.0,224.5 L264.5,224.8 L264.0,225.1 L263.2,225.5 L262.5,225.8 L262.0,226.0 L261.0,226.4 L260.5,226.6 L259.5,226.9 L258.9,227.0 L258.0,227.2 L257.0,227.4 L256.5,227.5Z" fill="#f38466" fill-rule="evenodd"/>
<path d="M255.5,227.0 L254.5,227.2 L253.5,227.2 L252.5,227.3 L251.5,227.3 L250.5,227.3 L249.5,227.3 L248.5,227.2 L247.5,227.1 L246.6,227.0 L246.0,226.9 L245.0,226.7 L244.1,226.5 L243.5,226.3 L242.5,226.0 L242.0,225.8 L241.2,225.5 L240.5,225.2 L240.0,224.9 L239.2,224.5 L238.5,224.0 L238.0,223.6 L237.5,223.1 L237.0,222.5 L236.7,222.0 L236.4,221.5 L236.1,220.5 L236.0,219.5 L236.2,218.5 L236.5,217.9 L237.0,217.1 L237.4,216.5 L237.9,216.0 L238.5,215.5 L239.0,215.1 L239.5,214.7 L240.0,214.4 L240.7,214.0 L241.5,213.6 L242.0,213.4 L242.8,213.0 L243.5,212.7 L244.1,212.5 L245.0,212.2 L245.6,212.0 L246.5,211.7 L247.2,211.5 L248.0,211.2 L248.8,211.0 L249.5,210.8 L250.5,210.5 L251.0,210.3 L252.0,210.0 L252.5,209.8 L253.3,209.5 L254.0,209.2 L254.6,209.0 L255.5,208.6 L256.0,208.4 L257.0,208.1 L257.5,208.0 L258.5,207.8 L259.5,207.7 L260.5,207.6 L261.5,207.6 L262.5,207.7 L263.5,207.9 L264.0,208.0 L265.0,208.3 L265.5,208.5 L266.5,209.0 L267.0,209.3 L267.5,209.6 L268.0,210.0 L268.5,210.5 L269.0,211.5 L269.0,212.0 L269.0,212.5 L268.7,213.5 L268.5,214.5 L268.4,215.0 L268.3,216.0 L268.2,217.0 L268.1,218.0 L268.0,218.7 L267.8,219.5 L267.5,220.3 L267.2,221.0 L266.8,221.5 L266.5,222.0 L266.0,222.5 L265.5,223.0 L264.9,223.5 L264.2,224.0 L263.5,224.4 L263.0,224.7 L262.5,225.0 L261.5,225.4 L261.0,225.6 L260.0,226.0 L259.5,226.2 L258.5,226.4 L258.0,226.6 L257.0,226.8 L256.0,227.0 L255.5,227.0Z" fill="#ef6549" fill-rule="evenodd"/>
<path d="M254.0,226.5 L253.0,226.6 L252.0,226.7 L251.0,226.7 L250.0,226.7 L249.0,226.6 L248.0,226.5 L247.5,226.5 L246.5,226.3 L245.5,226.1 L244.9,226.0 L244.0,225.8 L243.2,225.5 L242.5,225.2 L241.9,225.0 L241.0,224.6 L240.5,224.3 L240.0,224.0 L239.4,223.5 L238.8,223.0 L238.3,222.5 L238.0,222.0 L237.5,221.0 L237.4,220.5 L237.3,219.5 L237.5,218.7 L237.8,218.0 L238.1,217.5 L238.5,217.0 L239.0,216.4 L239.5,216.0 L240.1,215.5 L240.8,215.0 L241.5,214.6 L242.0,214.4 L242.7,214.0 L243.5,213.7 L244.0,213.5 L245.0,213.1 L245.5,212.9 L246.5,212.6 L247.0,212.4 L248.0,212.1 L248.5,212.0 L249.5,211.7 L250.4,211.5 L251.0,211.3 L252.0,211.1 L252.5,210.9 L253.5,210.7 L254.2,210.5 L255.0,210.3 L256.0,210.0 L256.5,209.9 L257.5,209.7 L258.5,209.5 L259.0,209.4 L260.0,209.4 L261.0,209.4 L262.0,209.5 L262.5,209.6 L263.5,209.9 L264.0,210.1 L264.6,210.5 L265.2,211.0 L265.6,211.5 L266.0,212.2 L266.2,213.0 L266.4,214.0 L266.5,214.5 L266.6,215.5 L266.7,216.5 L266.7,217.5 L266.6,218.5 L266.4,219.0 L266.1,220.0 L265.9,220.5 L265.5,221.2 L265.0,221.8 L264.5,222.4 L264.0,222.8 L263.5,223.2 L263.0,223.6 L262.4,224.0 L261.5,224.5 L261.0,224.7 L260.3,225.0 L259.5,225.3 L258.9,225.5 L258.0,225.8 L257.1,226.0 L256.5,226.1 L255.5,226.3 L254.5,226.5 L254.0,226.5Z" fill="#e94532" fill-rule="evenodd"/>
<path d="M255.0,225.6 L254.0,225.7 L253.0,225.8 L252.0,225.9 L251.0,225.9 L250.0,225.9 L249.0,225.9 L248.0,225.8 L247.0,225.6 L246.2,225.5 L245.5,225.3 L244.5,225.1 L244.0,224.9 L243.0,224.5 L242.5,224.3 L241.9,224.0 L241.0,223.5 L240.5,223.1 L240.0,222.6 L239.5,222.1 L239.1,221.5 L238.9,221.0 L238.7,220.0 L238.9,219.0 L239.1,218.5 L239.5,217.8 L240.0,217.1 L240.5,216.7 L241.0,216.2 L241.5,215.9 L242.1,215.5 L243.0,215.0 L243.5,214.8 L244.1,214.5 L245.0,214.1 L245.5,213.9 L246.5,213.6 L247.0,213.4 L248.0,213.1 L248.5,213.0 L249.5,212.7 L250.3,212.5 L251.0,212.3 L252.0,212.1 L252.5,212.0 L253.5,211.8 L254.5,211.6 L255.0,211.5 L256.0,211.3 L257.0,211.2 L258.0,211.1 L259.0,211.1 L260.0,211.2 L261.0,211.4 L261.5,211.6 L262.5,212.0 L263.0,212.4 L263.5,212.9 L264.0,213.5 L264.3,214.0 L264.5,214.5 L264.8,215.5 L264.9,216.5 L264.9,217.5 L264.8,218.5 L264.5,219.5 L264.3,220.0 L264.0,220.6 L263.5,221.3 L263.0,221.9 L262.5,222.4 L262.0,222.8 L261.5,223.1 L260.9,223.5 L260.0,224.0 L259.5,224.2 L258.9,224.5 L258.0,224.8 L257.4,225.0 L256.5,225.2 L255.5,225.5 L255.0,225.6Z" fill="#e02d22" fill-rule="evenodd"/>
<path d="M252.0,225.0 L251.0,225.1 L250.0,225.1 L249.0,225.0 L248.5,225.0 L247.5,224.9 L246.5,224.7 L245.7,224.5 L245.0,224.3 L244.1,224.0 L243.5,223.7 L243.0,223.5 L242.2,223.0 L241.6,222.5 L241.1,222.0 L240.8,221.5 L240.5,220.9 L240.4,220.0 L240.5,219.2 L240.8,218.5 L241.1,218.0 L241.6,217.5 L242.2,217.0 L242.9,216.5 L243.5,216.1 L244.0,215.9 L244.7,215.5 L245.5,215.2 L246.0,215.0 L247.0,214.6 L247.5,214.5 L248.5,214.1 L249.0,214.0 L250.0,213.7 L250.8,213.5 L251.5,213.3 L252.5,213.1 L253.0,213.0 L254.0,212.8 L255.0,212.7 L256.0,212.6 L257.0,212.5 L258.0,212.5 L259.0,212.7 L260.0,212.9 L260.5,213.1 L261.2,213.5 L261.8,214.0 L262.2,214.5 L262.5,215.0 L262.8,216.0 L262.9,217.0 L262.8,218.0 L262.5,219.0 L262.3,219.5 L262.0,220.1 L261.5,220.8 L261.0,221.4 L260.5,221.9 L260.0,222.3 L259.5,222.7 L259.0,223.0 L258.0,223.5 L257.5,223.7 L256.8,224.0 L256.0,224.3 L255.2,224.5 L254.5,224.7 L253.5,224.8 L252.5,225.0 L252.0,225.0Z" fill="#cc1d1a" fill-rule="evenodd"/>
<path d="M253.0,223.5 L252.0,223.7 L251.0,223.8 L250.0,223.9 L249.0,223.9 L248.0,223.8 L247.0,223.6 L246.5,223.5 L245.5,223.2 L245.0,223.0 L244.1,222.5 L243.5,222.1 L243.0,221.5 L242.7,221.0 L242.6,220.0 L242.9,219.0 L243.3,218.5 L243.9,218.0 L244.5,217.6 L245.0,217.3 L245.6,217.0 L246.5,216.6 L247.0,216.4 L248.0,216.1 L248.5,216.0 L249.5,215.7 L250.2,215.5 L251.0,215.3 L252.0,215.0 L252.5,214.9 L253.5,214.7 L254.3,214.5 L255.0,214.4 L256.0,214.4 L257.0,214.4 L257.6,214.5 L258.5,214.9 L259.0,215.2 L259.5,216.0 L259.6,216.5 L259.5,217.0 L259.2,218.0 L258.9,218.5 L258.5,219.3 L258.1,220.0 L257.8,220.5 L257.4,221.0 L256.9,221.5 L256.4,222.0 L255.6,222.5 L255.0,222.8 L254.5,223.1 L253.5,223.4 L253.0,223.5Z" fill="#b31414" fill-rule="evenodd"/>
<path d="M250.0,222.0 L249.0,222.1 L248.0,222.0 L247.5,221.9 L246.6,221.5 L246.0,221.0 L245.9,220.5 L246.0,220.0 L246.5,219.5 L247.5,219.0 L248.0,218.9 L249.0,218.8 L250.0,218.8 L250.9,219.0 L251.5,219.3 L252.0,219.8 L252.1,220.5 L251.9,221.0 L251.4,221.5 L250.5,221.9 L250.0,222.0Z" fill="#961018" fill-rule="evenodd"/>
</g></g>
<line x1="269.5" y1="137.5" x2="269.5" y2="236.5" stroke="#4a80b4" stroke-width="1.0" stroke-dasharray="2.6 2.0"/>
<line x1="232.5" y1="212.8" x2="334.5" y2="212.8" stroke="#4a80b4" stroke-width="1.0" stroke-dasharray="2.6 2.0"/>
<text x="238.90" y="155.70" font-size="7.6" fill="#222" stroke="#222" stroke-width="0.2">21.83%</text>
<text x="300.30" y="155.70" font-size="7.6" fill="#222" stroke="#222" stroke-width="0.2">15.08%</text>
<text x="238.90" y="233.70" font-size="7.6" fill="#222" stroke="#222" stroke-width="0.2">47.49%</text>
<text x="300.30" y="233.70" font-size="7.6" fill="#222" stroke="#222" stroke-width="0.2">15.60%</text>
<rect x="232.5" y="137.5" width="102" height="99" fill="none" stroke="#1e1e1e" stroke-width="1.05"/>
<text x="337.10" y="86.50" font-size="8" fill="#222" stroke="#222" stroke-width="0.2">CD8+</text>
<text x="337.10" y="189.20" font-size="8" fill="#222" stroke="#222" stroke-width="0.2">CD4+</text>
<text x="13.80" y="135.50" font-size="8.8" fill="#222" stroke="#222" stroke-width="0.32" text-anchor="middle" textLength="47" lengthAdjust="spacingAndGlyphs" transform="rotate(-90 13.80 135.50)">Exhaustion score</text>
<text x="177.00" y="246.30" font-size="8.9" fill="#222" stroke="#222" stroke-width="0.32" text-anchor="middle" textLength="49.2" lengthAdjust="spacingAndGlyphs">Cytotoxicity score</text>
<text x="372.60" y="15.80" font-size="10.2" fill="#111" stroke="#111" stroke-width="0.3" font-weight="bold">B</text>
<text x="455.40" y="29.30" font-size="9.0" fill="#222" stroke="#222" stroke-width="0.1" text-anchor="middle" textLength="106" lengthAdjust="spacingAndGlyphs">Cytotoxic exhausted CAR-T</text>
<rect x="406" y="77.8" width="21.69999999999999" height="67.1" fill="#2ca3dc"/>
<rect x="427.7" y="67.7" width="22.30000000000001" height="77.1" fill="#f28c0f"/>
<rect x="461" y="98.4" width="21.69999999999999" height="46.4" fill="#2ca3dc"/>
<rect x="482.7" y="124.1" width="22.30000000000001" height="20.7" fill="#f28c0f"/>
<line x1="416.8" y1="59.1" x2="416.8" y2="95.9" stroke="#333" stroke-width="1.1"/>
<line x1="412.8" y1="59.1" x2="420.8" y2="59.1" stroke="#333" stroke-width="1.1"/>
<line x1="412.8" y1="95.9" x2="420.8" y2="95.9" stroke="#333" stroke-width="1.1"/>
<line x1="438.8" y1="48.3" x2="438.8" y2="87.2" stroke="#333" stroke-width="1.1"/>
<line x1="434.8" y1="48.3" x2="442.8" y2="48.3" stroke="#333" stroke-width="1.1"/>
<line x1="434.8" y1="87.2" x2="442.8" y2="87.2" stroke="#333" stroke-width="1.1"/>
<line x1="471.8" y1="86" x2="471.8" y2="118" stroke="#333" stroke-width="1.1"/>
<line x1="467.8" y1="86" x2="475.8" y2="86" stroke="#333" stroke-width="1.1"/>
<line x1="467.8" y1="118" x2="475.8" y2="118" stroke="#333" stroke-width="1.1"/>
<line x1="493.8" y1="107.7" x2="493.8" y2="135.1" stroke="#333" stroke-width="1.1"/>
<line x1="489.8" y1="107.7" x2="497.8" y2="107.7" stroke="#333" stroke-width="1.1"/>
<line x1="489.8" y1="135.1" x2="497.8" y2="135.1" stroke="#333" stroke-width="1.1"/>
<circle cx="419.9" cy="53.2" r="1.25" fill="#9a9a9a" stroke="#444" stroke-width="0.7"/>
<circle cx="415.6" cy="55.9" r="1.25" fill="#9a9a9a" stroke="#444" stroke-width="0.7"/>
<circle cx="418.3" cy="72.3" r="1.25" fill="#9a9a9a" stroke="#444" stroke-width="0.7"/>
<circle cx="417.6" cy="95.8" r="1.25" fill="#9a9a9a" stroke="#444" stroke-width="0.7"/>
<circle cx="418.7" cy="106.7" r="1.25" fill="#9a9a9a" stroke="#444" stroke-width="0.7"/>
<circle cx="438.6" cy="42.1" r="1.25" fill="#9a9a9a" stroke="#444" stroke-width="0.7"/>
<circle cx="440" cy="80.5" r="1.25" fill="#9a9a9a" stroke="#444" stroke-width="0.7"/>
<circle cx="440" cy="92.6" r="1.25" fill="#9a9a9a" stroke="#444" stroke-width="0.7"/>
<circle cx="469.5" cy="86" r="1.25" fill="#9a9a9a" stroke="#444" stroke-width="0.7"/>
<circle cx="474" cy="84.9" r="1.25" fill="#9a9a9a" stroke="#444" stroke-width="0.7"/>
<circle cx="472.2" cy="93.3" r="1.25" fill="#9a9a9a" stroke="#444" stroke-width="0.7"/>
<circle cx="472.5" cy="127.5" r="1.25" fill="#9a9a9a" stroke="#444" stroke-width="0.7"/>
<circle cx="491.5" cy="100.1" r="1.25" fill="#9a9a9a" stroke="#444" stroke-width="0.7"/>
<circle cx="492.3" cy="135.6" r="1.25" fill="#9a9a9a" stroke="#444" stroke-width="0.7"/>
<circle cx="496.1" cy="137.1" r="1.25" fill="#9a9a9a" stroke="#444" stroke-width="0.7"/>
<circle cx="438.6" cy="53.1" r="1.5" fill="#333"/>
<circle cx="493.8" cy="128.3" r="1.5" fill="#333"/>
<line x1="400.5" y1="35.2" x2="400.5" y2="145" stroke="#111" stroke-width="1.05"/>
<line x1="400" y1="144.5" x2="510.8" y2="144.5" stroke="#111" stroke-width="1.05"/>
<line x1="397.4" y1="144.8" x2="400.5" y2="144.8" stroke="#222" stroke-width="0.95"/>
<text x="394.60" y="147.60" font-size="7.8" fill="#222" stroke="#222" stroke-width="0.2" text-anchor="end">0</text>
<line x1="397.4" y1="122.5" x2="400.5" y2="122.5" stroke="#222" stroke-width="0.95"/>
<text x="394.60" y="125.25" font-size="7.8" fill="#222" stroke="#222" stroke-width="0.2" text-anchor="end">20</text>
<line x1="397.4" y1="100.1" x2="400.5" y2="100.1" stroke="#222" stroke-width="0.95"/>
<text x="394.60" y="102.90" font-size="7.8" fill="#222" stroke="#222" stroke-width="0.2" text-anchor="end">40</text>
<line x1="397.4" y1="77.8" x2="400.5" y2="77.8" stroke="#222" stroke-width="0.95"/>
<text x="394.60" y="80.55" font-size="7.8" fill="#222" stroke="#222" stroke-width="0.2" text-anchor="end">60</text>
<line x1="397.4" y1="55.4" x2="400.5" y2="55.4" stroke="#222" stroke-width="0.95"/>
<text x="394.60" y="58.20" font-size="7.8" fill="#222" stroke="#222" stroke-width="0.2" text-anchor="end">80</text>
<line x1="427.7" y1="144.5" x2="427.7" y2="147.4" stroke="#222" stroke-width="0.95"/>
<line x1="482.7" y1="144.5" x2="482.7" y2="147.4" stroke="#222" stroke-width="0.95"/>
<text x="428.00" y="156.90" font-size="8.1" fill="#222" stroke="#222" stroke-width="0.2" text-anchor="middle" textLength="15.6" lengthAdjust="spacingAndGlyphs">CD8</text>
<text x="483.20" y="156.90" font-size="8.1" fill="#222" stroke="#222" stroke-width="0.2" text-anchor="middle" textLength="15.3" lengthAdjust="spacingAndGlyphs">CD4</text>
<line x1="475.3" y1="66.9" x2="493.5" y2="66.9" stroke="#333" stroke-width="1"/>
<text x="484.20" y="66.00" font-size="7" fill="#333" stroke="#333" stroke-width="0.2" text-anchor="middle">*</text>
<text x="380.00" y="91.30" font-size="7.2" fill="#222" stroke="#222" stroke-width="0.3" text-anchor="middle" textLength="46.7" lengthAdjust="spacingAndGlyphs" transform="rotate(-90 380.00 91.30)">Cell fraction (%)</text>
<rect x="435.8" y="163.6" width="4.3" height="4.3" fill="#2ca3dc"/>
<text x="443.60" y="168.20" font-size="6.6" fill="#222" stroke="#222" stroke-width="0.2" textLength="8.1" lengthAdjust="spacingAndGlyphs">TR</text>
<rect x="457.7" y="163.6" width="4.3" height="4.3" fill="#f28c0f"/>
<text x="465.00" y="168.20" font-size="6.6" fill="#222" stroke="#222" stroke-width="0.2" textLength="9.8" lengthAdjust="spacingAndGlyphs">DR</text>
<text x="372.60" y="194.00" font-size="10.2" fill="#111" stroke="#111" stroke-width="0.3" font-weight="bold">C</text>
<text x="457.30" y="207.80" font-size="8.6" fill="#222" stroke="#222" stroke-width="0.1" text-anchor="middle" textLength="37.9" lengthAdjust="spacingAndGlyphs">CAR-Treg</text>
<line x1="406.5" y1="316.5" x2="428.3" y2="316.5" stroke="#777" stroke-width="0.8"/>
<rect x="411.5" y="314.8" width="11" height="3.2" fill="#8fa3b3" stroke="#555" stroke-width="0.5"/>
<line x1="411.5" y1="316.3" x2="422.5" y2="316.3" stroke="#222" stroke-width="0.9"/>
<rect x="429.1" y="291.9" width="21.9" height="24.5" fill="#f28c0f"/>
<line x1="435" y1="292.3" x2="446" y2="292.3" stroke="#6a4010" stroke-width="0.9"/>
<line x1="429.1" y1="316.2" x2="451" y2="316.2" stroke="#5a3000" stroke-width="1.0"/>
<circle cx="417.3" cy="315.2" r="1.3" fill="none" stroke="#555" stroke-width="0.7"/>
<circle cx="440" cy="316.3" r="1.4" fill="#333"/>
<circle cx="440.3" cy="216.3" r="1.2" fill="#777"/>
<line x1="473.8" y1="300.6" x2="473.8" y2="314.5" stroke="#333" stroke-width="0.9"/>
<line x1="468.8" y1="314.5" x2="479.2" y2="314.5" stroke="#333" stroke-width="1.0"/>
<rect x="463.1" y="301.5" width="21.9" height="7" fill="#2ca3dc" stroke="#2a7fae" stroke-width="0.5"/>
<line x1="463.1" y1="302.8" x2="485" y2="302.8" stroke="#1d4f70" stroke-width="0.9"/>
<line x1="469" y1="300.8" x2="479" y2="300.8" stroke="#555" stroke-width="0.8"/>
<rect x="485.6" y="313.4" width="21.9" height="3.2" fill="#f28c0f"/>
<line x1="486" y1="315.0" x2="507.5" y2="315.0" stroke="#8a5410" stroke-width="0.7"/>
<circle cx="490.5" cy="316.2" r="0.75" fill="#4a3820"/>
<circle cx="493" cy="316.9" r="0.75" fill="#4a3820"/>
<circle cx="495.5" cy="316.0" r="0.75" fill="#4a3820"/>
<circle cx="498" cy="316.9" r="0.75" fill="#4a3820"/>
<circle cx="500.5" cy="316.2" r="0.75" fill="#4a3820"/>
<circle cx="494" cy="314.6" r="0.75" fill="#4a3820"/>
<circle cx="497" cy="314.4" r="0.75" fill="#4a3820"/>
<circle cx="497.7" cy="306.9" r="1.2" fill="#9a94a8" stroke="#777" stroke-width="0.4"/>
<line x1="416.1" y1="255.5" x2="438.9" y2="255.5" stroke="#555" stroke-width="1"/>
<text x="427.30" y="253.80" font-size="7.6" fill="#333" stroke="#333" stroke-width="0.1" text-anchor="middle">nd</text>
<line x1="474.8" y1="272.9" x2="496.7" y2="272.9" stroke="#555" stroke-width="1"/>
<text x="485.60" y="271.20" font-size="7.6" fill="#333" stroke="#333" stroke-width="0.1" text-anchor="middle">nd</text>
<line x1="400.5" y1="213.5" x2="400.5" y2="323.2" stroke="#111" stroke-width="1.05"/>
<line x1="400" y1="323.0" x2="513.5" y2="323.0" stroke="#2a2a2a" stroke-width="1.2"/>
<line x1="397.4" y1="320.2" x2="400.5" y2="320.2" stroke="#222" stroke-width="0.95"/>
<text x="394.40" y="322.90" font-size="7.6" fill="#222" stroke="#222" stroke-width="0.2" text-anchor="end">0</text>
<line x1="397.4" y1="300.7" x2="400.5" y2="300.7" stroke="#222" stroke-width="0.95"/>
<text x="394.40" y="303.38" font-size="7.6" fill="#222" stroke="#222" stroke-width="0.2" text-anchor="end">2</text>
<line x1="397.4" y1="281.2" x2="400.5" y2="281.2" stroke="#222" stroke-width="0.95"/>
<text x="394.40" y="283.86" font-size="7.6" fill="#222" stroke="#222" stroke-width="0.2" text-anchor="end">4</text>
<line x1="397.4" y1="261.6" x2="400.5" y2="261.6" stroke="#222" stroke-width="0.95"/>
<text x="394.40" y="264.34" font-size="7.6" fill="#222" stroke="#222" stroke-width="0.2" text-anchor="end">6</text>
<line x1="397.4" y1="242.1" x2="400.5" y2="242.1" stroke="#222" stroke-width="0.95"/>
<text x="394.40" y="244.82" font-size="7.6" fill="#222" stroke="#222" stroke-width="0.2" text-anchor="end">8</text>
<line x1="397.4" y1="222.6" x2="400.5" y2="222.6" stroke="#222" stroke-width="0.95"/>
<text x="394.40" y="225.30" font-size="7.6" fill="#222" stroke="#222" stroke-width="0.2" text-anchor="end">10</text>
<line x1="428.3" y1="323.0" x2="428.3" y2="326.0" stroke="#222" stroke-width="0.95"/>
<line x1="485.6" y1="323.0" x2="485.6" y2="326.0" stroke="#222" stroke-width="0.95"/>
<text x="428.90" y="335.00" font-size="7.6" fill="#222" stroke="#222" stroke-width="0.2" text-anchor="middle" textLength="15.3" lengthAdjust="spacingAndGlyphs">Early</text>
<text x="485.50" y="335.00" font-size="7.6" fill="#222" stroke="#222" stroke-width="0.2" text-anchor="middle" textLength="13.9" lengthAdjust="spacingAndGlyphs">Late</text>
<text x="379.60" y="265.20" font-size="7.0" fill="#222" stroke="#222" stroke-width="0.3" text-anchor="middle" textLength="83.6" lengthAdjust="spacingAndGlyphs" transform="rotate(-90 379.60 265.20)">Treg percent (CD4+ CAR-T)</text>
<rect x="437.8" y="341.9" width="4.2" height="4.2" fill="#2ca3dc"/>
<text x="444.30" y="346.40" font-size="6.6" fill="#222" stroke="#222" stroke-width="0.2" textLength="8.8" lengthAdjust="spacingAndGlyphs">TR</text>
<rect x="459.3" y="341.9" width="4.2" height="4.2" fill="#f28c0f"/>
<text x="466.50" y="346.40" font-size="6.6" fill="#222" stroke="#222" stroke-width="0.2" textLength="9.2" lengthAdjust="spacingAndGlyphs">DR</text>
<text x="6.60" y="273.50" font-size="10.2" fill="#111" stroke="#111" stroke-width="0.3" font-weight="bold">D</text>
<text x="138.80" y="287.00" font-size="8.8" fill="#222" stroke="#222" stroke-width="0.15" text-anchor="middle" textLength="155.8" lengthAdjust="spacingAndGlyphs">enrichment score IFNG pathway DR/TR</text>
<path d="M52.3,291V443M74.3,291V443M96.3,291V443M118.3,291V443M140.3,291V443M162.3,291V443M184.3,291V443M206.3,291V443M52.3,295.0H224M52.3,304.3H224M52.3,313.6H224M52.3,322.9H224M52.3,332.1H224M52.3,341.4H224M52.3,350.7H224M52.3,360.0H224M52.3,399.0H224M52.3,406.0H224M52.3,413.0H224M52.3,427.0H224M52.3,434.0H224M52.3,441.0H224" stroke="#ececec" stroke-width="0.6" fill="none"/>
<rect x="52.3" y="291" width="171.7" height="152" fill="none" stroke="#c8c8c8" stroke-width="0.8"/>
<line x1="52.3" y1="291" x2="52.3" y2="443" stroke="#c8c8c8" stroke-width="0.8"/>
<rect x="51.90" y="365" width="1" height="23.5" fill="#2a2a2a"/><rect x="53.90" y="365" width="1" height="23.5" fill="#6e6e6e"/><rect x="58.00" y="365" width="1" height="23.5" fill="#2a2a2a"/><rect x="61.90" y="365" width="1" height="23.5" fill="#6e6e6e"/><rect x="64.90" y="365" width="1" height="23.5" fill="#2a2a2a"/><rect x="74.60" y="365" width="1" height="23.5" fill="#2a2a2a"/><rect x="81.30" y="365" width="1" height="23.5" fill="#6e6e6e"/><rect x="83.90" y="365" width="1" height="23.5" fill="#6e6e6e"/><rect x="88.00" y="365" width="1" height="23.5" fill="#6e6e6e"/><rect x="91.00" y="365" width="1" height="23.5" fill="#6e6e6e"/><rect x="96.70" y="365" width="1" height="23.5" fill="#a8a8a8"/><rect x="98.80" y="365" width="1" height="23.5" fill="#2a2a2a"/><rect x="105.90" y="365" width="1" height="23.5" fill="#2a2a2a"/><rect x="108.90" y="365" width="1" height="23.5" fill="#6e6e6e"/><rect x="114.30" y="365" width="1" height="23.5" fill="#a8a8a8"/><rect x="117.10" y="365" width="1" height="23.5" fill="#2a2a2a"/><rect x="119.20" y="365" width="1" height="23.5" fill="#2a2a2a"/><rect x="118.10" y="365" width="1" height="23.5" fill="#6e6e6e"/><rect x="122.30" y="365" width="1" height="23.5" fill="#a8a8a8"/><rect x="128.90" y="365" width="1" height="23.5" fill="#6e6e6e"/><rect x="132.00" y="365" width="1" height="23.5" fill="#2a2a2a"/><rect x="136.90" y="365" width="1" height="23.5" fill="#2a2a2a"/><rect x="138.00" y="365" width="1" height="23.5" fill="#6e6e6e"/><rect x="141.55" y="365" width="1.5" height="23.5" fill="#a8a8a8"/><rect x="145.10" y="365" width="1" height="23.5" fill="#2a2a2a"/><rect x="148.05" y="365" width="1.5" height="23.5" fill="#a8a8a8"/><rect x="149.75" y="365" width="1.5" height="23.5" fill="#6e6e6e"/><rect x="151.80" y="365" width="1.4" height="23.5" fill="#a8a8a8"/><rect x="155.10" y="365" width="1" height="23.5" fill="#2a2a2a"/><rect x="157.00" y="365" width="1" height="23.5" fill="#a8a8a8"/><rect x="161.60" y="365" width="1.2" height="23.5" fill="#2a2a2a"/><rect x="163.10" y="365" width="1" height="23.5" fill="#6e6e6e"/><rect x="164.20" y="365" width="1" height="23.5" fill="#6e6e6e"/><rect x="170.45" y="365" width="1.3" height="23.5" fill="#a8a8a8"/><rect x="175.10" y="365" width="1" height="23.5" fill="#6e6e6e"/><rect x="176.50" y="365" width="1.6" height="23.5" fill="#a8a8a8"/><rect x="177.90" y="365" width="0.8" height="23.5" fill="#6e6e6e"/><rect x="180.80" y="365" width="1.2" height="23.5" fill="#2a2a2a"/><rect x="182.05" y="365" width="1.5" height="23.5" fill="#444"/><rect x="183.70" y="365" width="1" height="23.5" fill="#2a2a2a"/><rect x="185.40" y="365" width="1" height="23.5" fill="#a8a8a8"/><rect x="187.70" y="365" width="1" height="23.5" fill="#6e6e6e"/><rect x="189.70" y="365" width="1" height="23.5" fill="#6e6e6e"/><rect x="191.30" y="365" width="1" height="23.5" fill="#2a2a2a"/><rect x="192.90" y="365" width="1" height="23.5" fill="#6e6e6e"/><rect x="195.90" y="365" width="1" height="23.5" fill="#2a2a2a"/><rect x="200.70" y="365" width="2" height="23.5" fill="#b8b8b8"/><rect x="203.50" y="365" width="1" height="23.5" fill="#555"/><rect x="206.00" y="365" width="1" height="23.5" fill="#6e6e6e"/><rect x="209.30" y="365" width="2" height="23.5" fill="#1a1a1a"/><rect x="211.90" y="365" width="1.2" height="23.5" fill="#555"/><rect x="213.45" y="365" width="3.3" height="23.5" fill="#333"/>
<rect x="52.3" y="388.4" width="3.4" height="5.9" fill="#f088b4"/>
<rect x="55.7" y="388.4" width="103.9" height="5.9" fill="#c9c9ee"/>
<rect x="159.6" y="388.4" width="15.4" height="5.9" fill="#6c6cc6"/>
<rect x="175" y="388.4" width="35" height="5.9" fill="#4b48a8"/>
<rect x="210" y="388.4" width="6.7" height="5.9" fill="#3b3294"/>
<text x="53.60" y="400.40" font-size="4.6" fill="#e8707e" textLength="64.4" lengthAdjust="spacingAndGlyphs">'na_pos' (positively correlated)</text>
<path d="M52.5,420 H200 C207,420.3 211,420.8 213.5,421.8 C215,422.6 215.7,423.5 216,425 L216.3,440.8 L216.9,420 Z" fill="#c4c4c4"/>
<line x1="52.5" y1="420.2" x2="216.8" y2="420.2" stroke="#a0a0a0" stroke-width="0.9"/>
<text x="54.00" y="419.40" font-size="4.6" fill="#444" textLength="24" lengthAdjust="spacingAndGlyphs">zero at 113</text>
<text x="198.50" y="441.20" font-size="4.6" fill="#7080c0" text-anchor="end" textLength="66.5" lengthAdjust="spacingAndGlyphs">'na_neg' (negatively correlated)</text>
<path d="M52.5,295.0 L53.7,295.7 L54.9,296.3 L56.1,297.0 L57.3,297.7 L58.5,298.3 L59.7,299.0 L60.9,299.7 L62.1,300.3 L63.3,301.0 L64.6,301.7 L65.8,302.3 L67.0,303.0 L68.2,303.7 L69.4,304.3 L70.6,305.0 L71.8,305.7 L73.0,306.3 L74.2,307.0 L75.4,307.7 L76.6,308.3 L77.8,309.0 L79.0,309.7 L80.2,310.3 L81.4,311.0 L82.6,311.7 L83.8,312.3 L85.0,313.0 L86.2,313.6 L87.5,314.3 L88.7,315.0 L89.9,315.6 L91.1,316.3 L92.3,317.0 L93.5,317.6 L94.7,318.3 L95.9,319.0 L97.1,319.6 L98.3,320.3 L99.5,321.0 L100.7,321.7 L101.9,322.5 L103.1,322.8 L104.3,323.7 L105.5,324.7 L106.7,325.3 L107.9,325.3 L109.2,326.0 L110.4,326.6 L111.6,327.6 L112.8,327.9 L114.0,328.9 L115.2,329.8 L116.4,330.1 L117.6,331.1 L118.8,331.7 L120.0,331.9 L121.3,333.1 L122.7,333.5 L124.0,334.4 L125.3,335.0 L126.6,336.0 L127.9,336.5 L129.3,337.0 L130.6,338.0 L131.9,338.9 L133.2,339.2 L134.6,339.7 L135.9,340.5 L137.2,341.7 L138.5,342.4 L139.9,342.8 L141.2,343.7 L142.5,344.1 L143.8,344.2 L145.1,344.5 L146.4,345.5 L147.8,346.0 L149.1,346.3 L150.4,346.7 L151.7,347.4 L153.1,348.1 L154.5,348.6 L155.8,349.2 L157.2,350.0 L158.6,351.0 L160.0,351.4 L161.2,351.6 L162.4,352.0 L163.6,352.6 L164.8,352.8 L166.4,353.8 L167.9,355.1 L169.5,355.7 L170.7,356.7 L171.9,357.2 L173.1,358.1 L174.3,358.7 L175.7,359.1 L177.0,359.6 L178.3,359.7 L179.7,360.5 L181.1,360.2 L182.6,360.4 L183.8,359.7 L185.0,359.4 L186.5,359.3 L188.0,359.8 L189.5,360.1 L191.0,359.1 L192.5,359.2 L194.0,358.8 L195.8,359.3 L197.5,357.9 L198.7,358.4 L199.9,358.4 L201.4,359.0 L202.9,359.7 L204.1,359.2 L205.3,358.7 L207.7,357.6 L209.5,355.5 L210.7,351.3 L211.8,347.2 L213.2,343.6 L214.3,337.0 L215.6,331.3 L216.5,319.0 L216.8,295.0" stroke="#62a83e" stroke-width="1.05" fill="none" stroke-linejoin="round"/>
<text x="48.00" y="297.70" font-size="7.5" fill="#222" stroke="#222" stroke-width="0.2" text-anchor="end">0.0</text>
<text x="48.00" y="306.99" font-size="7.5" fill="#222" stroke="#222" stroke-width="0.2" text-anchor="end">−0.1</text>
<text x="48.00" y="316.27" font-size="7.5" fill="#222" stroke="#222" stroke-width="0.2" text-anchor="end">−0.2</text>
<text x="48.00" y="325.56" font-size="7.5" fill="#222" stroke="#222" stroke-width="0.2" text-anchor="end">−0.3</text>
<text x="48.00" y="334.84" font-size="7.5" fill="#222" stroke="#222" stroke-width="0.2" text-anchor="end">−0.4</text>
<text x="48.00" y="344.13" font-size="7.5" fill="#222" stroke="#222" stroke-width="0.2" text-anchor="end">−0.5</text>
<text x="48.00" y="353.41" font-size="7.5" fill="#222" stroke="#222" stroke-width="0.2" text-anchor="end">−0.6</text>
<text x="48.00" y="362.70" font-size="7.5" fill="#222" stroke="#222" stroke-width="0.2" text-anchor="end">−0.7</text>
<text x="48.00" y="401.70" font-size="7.5" fill="#222" stroke="#222" stroke-width="0.2" text-anchor="end">150</text>
<text x="48.00" y="408.70" font-size="7.5" fill="#222" stroke="#222" stroke-width="0.2" text-anchor="end">100</text>
<text x="48.00" y="415.70" font-size="7.5" fill="#222" stroke="#222" stroke-width="0.2" text-anchor="end">50</text>
<text x="48.00" y="422.70" font-size="7.5" fill="#222" stroke="#222" stroke-width="0.2" text-anchor="end">0</text>
<text x="48.00" y="429.70" font-size="7.5" fill="#222" stroke="#222" stroke-width="0.2" text-anchor="end">−50</text>
<text x="48.00" y="436.70" font-size="7.5" fill="#222" stroke="#222" stroke-width="0.2" text-anchor="end">−100</text>
<text x="48.00" y="443.70" font-size="7.5" fill="#222" stroke="#222" stroke-width="0.2" text-anchor="end">−150</text>
<text x="52.30" y="452.20" font-size="7.5" fill="#222" stroke="#222" stroke-width="0.2" text-anchor="middle">0</text>
<text x="74.30" y="452.20" font-size="7.5" fill="#222" stroke="#222" stroke-width="0.2" text-anchor="middle">500</text>
<text x="96.30" y="452.20" font-size="7.5" fill="#222" stroke="#222" stroke-width="0.2" text-anchor="middle">1,000</text>
<text x="118.30" y="452.20" font-size="7.5" fill="#222" stroke="#222" stroke-width="0.2" text-anchor="middle">1,500</text>
<text x="140.30" y="452.20" font-size="7.5" fill="#222" stroke="#222" stroke-width="0.2" text-anchor="middle">2,000</text>
<text x="162.30" y="452.20" font-size="7.5" fill="#222" stroke="#222" stroke-width="0.2" text-anchor="middle">2,500</text>
<text x="184.30" y="452.20" font-size="7.5" fill="#222" stroke="#222" stroke-width="0.2" text-anchor="middle">3,000</text>
<text x="206.30" y="452.20" font-size="7.5" fill="#222" stroke="#222" stroke-width="0.2" text-anchor="middle">3,500</text>
<text x="138.70" y="464.20" font-size="9.0" fill="#222" stroke="#222" stroke-width="0.3" text-anchor="middle" textLength="66.1" lengthAdjust="spacingAndGlyphs">Rank in ordered dataset</text>
<text x="23.60" y="328.50" font-size="8.8" fill="#222" stroke="#222" stroke-width="0.3" text-anchor="middle" textLength="63" lengthAdjust="spacingAndGlyphs" transform="rotate(-90 23.60 328.50)">Enrichment score (ES)</text>
<text x="14.20" y="418.80" font-size="8.8" fill="#222" stroke="#222" stroke-width="0.3" text-anchor="middle" textLength="50.5" lengthAdjust="spacingAndGlyphs" transform="rotate(-90 14.20 418.80)">Ranked list metric</text>
<text x="23.40" y="419.10" font-size="8.8" fill="#222" stroke="#222" stroke-width="0.3" text-anchor="middle" textLength="34.2" lengthAdjust="spacingAndGlyphs" transform="rotate(-90 23.40 419.10)">(PreRanked)</text>
<line x1="41.7" y1="477.7" x2="50" y2="477.7" stroke="#5aa33a" stroke-width="1"/>
<text x="53.30" y="479.60" font-size="6.8" fill="#222" stroke="#222" stroke-width="0.08" textLength="54.4" lengthAdjust="spacingAndGlyphs">Enrichment profile</text>
<line x1="112.3" y1="477.7" x2="120" y2="477.7" stroke="#333" stroke-width="1"/>
<text x="123.50" y="479.60" font-size="6.8" fill="#222" stroke="#222" stroke-width="0.08" textLength="12.2" lengthAdjust="spacingAndGlyphs">Hits</text>
<line x1="144.2" y1="477.7" x2="162.7" y2="477.7" stroke="#e6e6e6" stroke-width="1"/>
<text x="167.30" y="479.60" font-size="6.8" fill="#222" stroke="#222" stroke-width="0.08" textLength="67.5" lengthAdjust="spacingAndGlyphs">Ranking metric scores</text>
<text x="263.30" y="371.90" font-size="10.0" fill="#111" stroke="#111" stroke-width="0.3" font-weight="bold">E</text>
<text x="383.50" y="386.00" font-size="8.8" fill="#222" stroke="#222" stroke-width="0.1" text-anchor="middle" textLength="132.4" lengthAdjust="spacingAndGlyphs">cytotoxic exhausted CD4+ CAR-T</text>
<circle cx="299.6" cy="401.3" r="0.6" fill="#d8d8d8"/>
<circle cx="299.6" cy="411.8" r="0.8" fill="#555"/>
<circle cx="314.9" cy="401.3" r="1.7" fill="#4a78a8" stroke="#444" stroke-width="0.6"/>
<circle cx="314.9" cy="411.8" r="3.2" fill="#b8d0e6" stroke="#444" stroke-width="0.6"/>
<circle cx="330.2" cy="401.3" r="0.9" fill="#333"/>
<circle cx="330.2" cy="411.8" r="0.6" fill="#e0e0e0"/>
<circle cx="345.5" cy="401.3" r="4.9" fill="#e0452a" stroke="#444" stroke-width="0.6"/>
<circle cx="345.5" cy="411.8" r="5.6" fill="#a8141c" stroke="#444" stroke-width="0.6"/>
<circle cx="360.8" cy="401.3" r="1.4" fill="#2e5a96" stroke="#444" stroke-width="0.6"/>
<circle cx="360.8" cy="411.8" r="2.0" fill="#5f86b2" stroke="#444" stroke-width="0.6"/>
<circle cx="376.1" cy="401.3" r="4.4" fill="#f8d58c" stroke="#444" stroke-width="0.6"/>
<circle cx="376.1" cy="411.8" r="5.1" fill="#e3461f" stroke="#444" stroke-width="0.6"/>
<circle cx="391.4" cy="401.3" r="0.5" fill="#e8e8e8"/>
<circle cx="422.0" cy="401.3" r="0.6" fill="#555"/>
<circle cx="422.0" cy="411.8" r="0.7" fill="#444"/>
<circle cx="437.3" cy="401.3" r="4.3" fill="#eb7131" stroke="#444" stroke-width="0.6"/>
<circle cx="437.3" cy="411.8" r="5.5" fill="#aa1418" stroke="#444" stroke-width="0.6"/>
<circle cx="452.6" cy="401.3" r="0.5" fill="#eee"/>
<circle cx="452.6" cy="411.8" r="0.5" fill="#eee"/>
<circle cx="467.9" cy="401.3" r="0.5" fill="#eee"/>
<circle cx="467.9" cy="411.8" r="0.5" fill="#eee"/>
<rect x="287.5" y="391.0" width="192.0" height="31.30000000000001" fill="none" stroke="#222" stroke-width="1.2"/>
<line x1="287.5" y1="391.0" x2="479.5" y2="391.0" stroke="#3a3a3a" stroke-width="1.7"/>
<line x1="284.2" y1="401.3" x2="287.5" y2="401.3" stroke="#222" stroke-width="1"/>
<line x1="284.2" y1="411.8" x2="287.5" y2="411.8" stroke="#222" stroke-width="1"/>
<text x="281.80" y="403.90" font-size="7.6" fill="#222" stroke="#222" stroke-width="0.2" text-anchor="end" textLength="10" lengthAdjust="spacingAndGlyphs">DR</text>
<text x="281.40" y="414.40" font-size="7.6" fill="#222" stroke="#222" stroke-width="0.2" text-anchor="end" textLength="8.6" lengthAdjust="spacingAndGlyphs">TR</text>
<line x1="299.6" y1="422.3" x2="299.6" y2="424.8" stroke="#222" stroke-width="0.9"/>
<text x="302.40" y="431.50" font-size="7.3" fill="#222" stroke="#222" stroke-width="0.12" text-anchor="end" transform="rotate(-45 302.40 431.50)">IFNG</text>
<line x1="314.90000000000003" y1="422.3" x2="314.90000000000003" y2="424.8" stroke="#222" stroke-width="0.9"/>
<text x="317.70" y="431.50" font-size="7.3" fill="#222" stroke="#222" stroke-width="0.12" text-anchor="end" transform="rotate(-45 317.70 431.50)">IFNGR1</text>
<line x1="330.20000000000005" y1="422.3" x2="330.20000000000005" y2="424.8" stroke="#222" stroke-width="0.9"/>
<text x="333.00" y="431.50" font-size="7.3" fill="#222" stroke="#222" stroke-width="0.12" text-anchor="end" transform="rotate(-45 333.00 431.50)">IFNGR2</text>
<line x1="345.5" y1="422.3" x2="345.5" y2="424.8" stroke="#222" stroke-width="0.9"/>
<text x="348.30" y="431.50" font-size="7.3" fill="#222" stroke="#222" stroke-width="0.12" text-anchor="end" transform="rotate(-45 348.30 431.50)">JAK1</text>
<line x1="360.8" y1="422.3" x2="360.8" y2="424.8" stroke="#222" stroke-width="0.9"/>
<text x="363.60" y="431.50" font-size="7.3" fill="#222" stroke="#222" stroke-width="0.12" text-anchor="end" transform="rotate(-45 363.60 431.50)">JAK2</text>
<line x1="376.1" y1="422.3" x2="376.1" y2="424.8" stroke="#222" stroke-width="0.9"/>
<text x="378.90" y="431.50" font-size="7.3" fill="#222" stroke="#222" stroke-width="0.12" text-anchor="end" transform="rotate(-45 378.90 431.50)">STAT1</text>
<line x1="391.40000000000003" y1="422.3" x2="391.40000000000003" y2="424.8" stroke="#222" stroke-width="0.9"/>
<text x="394.20" y="431.50" font-size="7.3" fill="#222" stroke="#222" stroke-width="0.12" text-anchor="end" transform="rotate(-45 394.20 431.50)">TLR2</text>
<line x1="406.70000000000005" y1="422.3" x2="406.70000000000005" y2="424.8" stroke="#222" stroke-width="0.9"/>
<text x="409.50" y="431.50" font-size="7.3" fill="#222" stroke="#222" stroke-width="0.12" text-anchor="end" transform="rotate(-45 409.50 431.50)">TLR4</text>
<line x1="422.0" y1="422.3" x2="422.0" y2="424.8" stroke="#222" stroke-width="0.9"/>
<text x="424.80" y="431.50" font-size="7.3" fill="#222" stroke="#222" stroke-width="0.12" text-anchor="end" transform="rotate(-45 424.80 431.50)">XCL1</text>
<line x1="437.30000000000007" y1="422.3" x2="437.30000000000007" y2="424.8" stroke="#222" stroke-width="0.9"/>
<text x="440.10" y="431.50" font-size="7.3" fill="#222" stroke="#222" stroke-width="0.12" text-anchor="end" transform="rotate(-45 440.10 431.50)">IRF1</text>
<line x1="452.6" y1="422.3" x2="452.6" y2="424.8" stroke="#222" stroke-width="0.9"/>
<text x="455.40" y="431.50" font-size="7.3" fill="#222" stroke="#222" stroke-width="0.12" text-anchor="end" transform="rotate(-45 455.40 431.50)">IRF8</text>
<line x1="467.90000000000003" y1="422.3" x2="467.90000000000003" y2="424.8" stroke="#222" stroke-width="0.9"/>
<text x="470.70" y="431.50" font-size="7.3" fill="#222" stroke="#222" stroke-width="0.12" text-anchor="end" transform="rotate(-45 470.70 431.50)">IRGM</text>
<defs><linearGradient id="rdylbu" x1="0" x2="0" y1="0" y2="1"><stop offset="0" stop-color="#a50026"/><stop offset="0.1" stop-color="#d73027"/><stop offset="0.2" stop-color="#f46d43"/><stop offset="0.3" stop-color="#fdae61"/><stop offset="0.4" stop-color="#fee090"/><stop offset="0.5" stop-color="#ffffbf"/><stop offset="0.6" stop-color="#e0f3f8"/><stop offset="0.7" stop-color="#abd9e9"/><stop offset="0.8" stop-color="#74add1"/><stop offset="0.9" stop-color="#4575b4"/><stop offset="1" stop-color="#313695"/></linearGradient></defs>
<rect x="486" y="386.2" width="5.4" height="42" fill="url(#rdylbu)" stroke="#888" stroke-width="0.4"/>
<line x1="491.4" y1="391.6" x2="493.6" y2="391.6" stroke="#222" stroke-width="0.7"/>
<line x1="491.4" y1="426.7" x2="493.6" y2="426.7" stroke="#222" stroke-width="0.7"/>
<text x="494.60" y="394.30" font-size="7.4" fill="#222" stroke="#222" stroke-width="0.2">1</text>
<text x="494.40" y="429.40" font-size="7.4" fill="#222" stroke="#222" stroke-width="0.2">0</text>
<text x="449.20" y="461.90" font-size="7.5" fill="#222" stroke="#222" stroke-width="0.1" text-anchor="middle" textLength="91.2" lengthAdjust="spacingAndGlyphs">fraction of cells in group (%)</text>
<circle cx="414" cy="473" r="1.0" fill="#a0a0a0" stroke="#7a7a7a" stroke-width="0.5"/>
<text x="414.00" y="484.00" font-size="7.5" fill="#222" stroke="#222" stroke-width="0.2" text-anchor="middle">5</text>
<circle cx="424.6" cy="472.3" r="2.0" fill="#a0a0a0" stroke="#7a7a7a" stroke-width="0.5"/>
<text x="424.60" y="484.00" font-size="7.5" fill="#222" stroke="#222" stroke-width="0.2" text-anchor="middle">10</text>
<circle cx="435.4" cy="471.9" r="2.9" fill="#a0a0a0" stroke="#7a7a7a" stroke-width="0.5"/>
<text x="435.40" y="484.00" font-size="7.5" fill="#222" stroke="#222" stroke-width="0.2" text-anchor="middle">15</text>
<circle cx="448.6" cy="471.4" r="3.7" fill="#a0a0a0" stroke="#7a7a7a" stroke-width="0.5"/>
<text x="448.60" y="484.00" font-size="7.5" fill="#222" stroke="#222" stroke-width="0.2" text-anchor="middle">20</text>
<circle cx="463.1" cy="470.3" r="4.5" fill="#a0a0a0" stroke="#7a7a7a" stroke-width="0.5"/>
<text x="463.10" y="484.00" font-size="7.5" fill="#222" stroke="#222" stroke-width="0.2" text-anchor="middle">25</text>
<circle cx="479.3" cy="470.3" r="5.2" fill="#a0a0a0" stroke="#7a7a7a" stroke-width="0.5"/>
<text x="479.30" y="484.00" font-size="7.5" fill="#222" stroke="#222" stroke-width="0.2" text-anchor="middle">30</text>
<rect x="0.5" y="0.5" width="519" height="491" fill="none" stroke="#5c5c5c" stroke-width="1"/>
</g>
</svg>
</body></html>
